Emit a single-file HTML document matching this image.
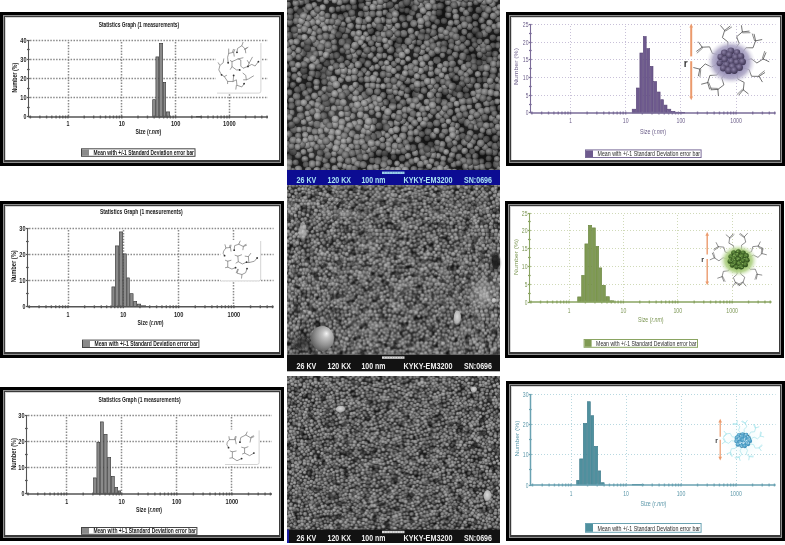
<!DOCTYPE html>
<html><head><meta charset="utf-8"><style>
html,body{margin:0;padding:0;background:#fff;width:785px;height:545px;overflow:hidden}
svg{display:block}
text{font-family:"Liberation Sans",sans-serif}
</style></head><body>
<svg width="785" height="545" viewBox="0 0 785 545">
<defs>
<radialGradient id="s1a" cx="0.45" cy="0.42" r="0.58" fx="0.42" fy="0.38"><stop offset="0" stop-color="#a4a4a4"/><stop offset="0.5" stop-color="#868686"/><stop offset="0.85" stop-color="#5c5c5c"/><stop offset="1" stop-color="#383838"/></radialGradient>
<radialGradient id="s1b" cx="0.45" cy="0.42" r="0.58" fx="0.42" fy="0.38"><stop offset="0" stop-color="#8e8e8e"/><stop offset="0.5" stop-color="#707070"/><stop offset="0.85" stop-color="#4e4e4e"/><stop offset="1" stop-color="#303030"/></radialGradient>
<radialGradient id="s1c" cx="0.45" cy="0.42" r="0.58" fx="0.42" fy="0.38"><stop offset="0" stop-color="#b4b4b4"/><stop offset="0.5" stop-color="#949494"/><stop offset="0.85" stop-color="#686868"/><stop offset="1" stop-color="#404040"/></radialGradient>
<radialGradient id="s2a" cx="0.45" cy="0.42" r="0.58" fx="0.42" fy="0.38"><stop offset="0" stop-color="#b4b4b4"/><stop offset="0.5" stop-color="#929292"/><stop offset="0.82" stop-color="#6c6c6c"/><stop offset="1" stop-color="#484848"/></radialGradient>
<radialGradient id="s2b" cx="0.45" cy="0.42" r="0.58" fx="0.42" fy="0.38"><stop offset="0" stop-color="#9c9c9c"/><stop offset="0.5" stop-color="#7c7c7c"/><stop offset="0.82" stop-color="#5a5a5a"/><stop offset="1" stop-color="#3c3c3c"/></radialGradient>
<radialGradient id="s2c" cx="0.45" cy="0.42" r="0.58" fx="0.42" fy="0.38"><stop offset="0" stop-color="#c4c4c4"/><stop offset="0.5" stop-color="#a2a2a2"/><stop offset="0.82" stop-color="#787878"/><stop offset="1" stop-color="#505050"/></radialGradient>
<radialGradient id="s3a" cx="0.45" cy="0.42" r="0.58" fx="0.42" fy="0.38"><stop offset="0" stop-color="#b4b4b4"/><stop offset="0.5" stop-color="#929292"/><stop offset="0.82" stop-color="#6c6c6c"/><stop offset="1" stop-color="#484848"/></radialGradient>
<radialGradient id="s3b" cx="0.45" cy="0.42" r="0.58" fx="0.42" fy="0.38"><stop offset="0" stop-color="#9c9c9c"/><stop offset="0.5" stop-color="#7c7c7c"/><stop offset="0.82" stop-color="#5a5a5a"/><stop offset="1" stop-color="#3c3c3c"/></radialGradient>
<radialGradient id="s3c" cx="0.45" cy="0.42" r="0.58" fx="0.42" fy="0.38"><stop offset="0" stop-color="#c4c4c4"/><stop offset="0.5" stop-color="#a2a2a2"/><stop offset="0.82" stop-color="#787878"/><stop offset="1" stop-color="#505050"/></radialGradient>
<filter id="bl"><feGaussianBlur stdDeviation="0.55"/></filter>
<pattern id="p2" patternUnits="userSpaceOnUse" x="287" y="185" width="106.5" height="84.75"><rect width="106.5" height="84.75" fill="#303030"/>
<g fill="url(#s2a)"><circle cx="52.4" cy="58.1" r="2.3"/><circle cx="47.5" cy="58.6" r="1.9"/><circle cx="55.3" cy="53.1" r="2.0"/><circle cx="57.4" cy="57.3" r="2.1"/><circle cx="45.9" cy="68.3" r="2.4"/><circle cx="52.8" cy="66.0" r="2.2"/><circle cx="49.9" cy="64.9" r="1.9"/><circle cx="56.1" cy="49.1" r="2.0"/><circle cx="59.3" cy="45.4" r="2.3"/><circle cx="62.1" cy="49.7" r="2.3"/><circle cx="47.7" cy="54.5" r="2.1"/><circle cx="48.6" cy="70.5" r="2.3"/><circle cx="43.3" cy="56.8" r="2.1"/><circle cx="52.2" cy="48.7" r="2.1"/><circle cx="41.1" cy="60.3" r="1.9"/><circle cx="67.2" cy="46.7" r="2.0"/><circle cx="52.5" cy="69.1" r="1.9"/><circle cx="38.2" cy="69.4" r="1.9"/><circle cx="56.4" cy="67.9" r="2.0"/><circle cx="34.2" cy="61.9" r="2.1"/><circle cx="41.6" cy="74.1" r="1.9"/><circle cx="57.4" cy="73.6" r="2.4"/><circle cx="29.6" cy="64.5" r="2.0"/><circle cx="28.5" cy="60.3" r="2.2"/><circle cx="42.8" cy="52.7" r="2.5"/><circle cx="54.5" cy="75.9" r="2.3"/><circle cx="31.3" cy="69.5" r="2.1"/><circle cx="57.9" cy="77.0" r="2.1"/><circle cx="35.3" cy="54.9" r="2.4"/><circle cx="71.5" cy="52.0" r="2.1"/><circle cx="47.7" cy="45.5" r="2.1"/><circle cx="65.1" cy="70.0" r="2.1"/><circle cx="53.9" cy="36.7" r="2.3"/><circle cx="61.3" cy="74.2" r="2.0"/><circle cx="67.8" cy="72.0" r="2.0"/><circle cx="25.1" cy="68.5" r="2.5"/><circle cx="75.3" cy="67.7" r="1.9"/><circle cx="45.9" cy="42.6" r="2.2"/><circle cx="26.4" cy="62.8" r="2.3"/><circle cx="75.4" cy="50.1" r="2.0"/><circle cx="79.2" cy="48.5" r="2.5"/><circle cx="40.9" cy="46.7" r="2.1"/><circle cx="66.7" cy="67.0" r="2.0"/><circle cx="68.6" cy="63.9" r="2.0"/><circle cx="70.2" cy="70.3" r="2.0"/><circle cx="57.9" cy="32.7" r="2.4"/><circle cx="36.4" cy="76.6" r="2.3"/><circle cx="27.9" cy="57.2" r="2.4"/><circle cx="24.4" cy="73.2" r="2.2"/><circle cx="60.0" cy="34.9" r="2.1"/><circle cx="30.8" cy="49.4" r="2.0"/><circle cx="73.2" cy="47.2" r="2.4"/><circle cx="48.7" cy="83.7" r="2.5"/><circle cx="48.7" cy="-1.1" r="2.5"/><circle cx="35.1" cy="48.8" r="2.4"/><circle cx="80.2" cy="53.0" r="2.3"/><circle cx="61.9" cy="37.4" r="2.1"/><circle cx="75.4" cy="45.0" r="2.1"/><circle cx="37.8" cy="51.0" r="2.4"/><circle cx="72.9" cy="60.8" r="2.0"/><circle cx="67.3" cy="75.4" r="2.1"/><circle cx="54.0" cy="33.3" r="1.9"/><circle cx="53.4" cy="23.9" r="1.9"/><circle cx="45.7" cy="1.1" r="2.1"/><circle cx="45.7" cy="85.9" r="2.1"/><circle cx="55.8" cy="26.8" r="2.0"/><circle cx="82.2" cy="56.0" r="2.2"/><circle cx="34.4" cy="51.7" r="2.3"/><circle cx="28.3" cy="72.9" r="2.3"/><circle cx="63.5" cy="33.1" r="2.3"/><circle cx="64.3" cy="74.1" r="2.5"/><circle cx="53.6" cy="20.3" r="2.2"/><circle cx="60.8" cy="26.5" r="2.4"/><circle cx="41.9" cy="37.4" r="1.9"/><circle cx="57.4" cy="80.0" r="1.9"/><circle cx="65.2" cy="36.3" r="1.9"/><circle cx="72.2" cy="74.3" r="2.5"/><circle cx="82.5" cy="49.9" r="2.2"/><circle cx="44.9" cy="31.7" r="2.4"/><circle cx="29.9" cy="76.5" r="2.2"/><circle cx="78.7" cy="45.3" r="2.0"/><circle cx="81.2" cy="60.7" r="2.5"/><circle cx="44.7" cy="27.2" r="1.9"/><circle cx="78.9" cy="65.7" r="2.1"/><circle cx="83.3" cy="69.7" r="2.2"/><circle cx="77.0" cy="41.1" r="2.1"/><circle cx="40.6" cy="23.1" r="2.0"/><circle cx="62.8" cy="19.4" r="2.3"/><circle cx="35.3" cy="38.2" r="2.3"/><circle cx="70.9" cy="35.6" r="2.1"/><circle cx="57.6" cy="29.5" r="2.5"/><circle cx="83.1" cy="65.9" r="2.2"/><circle cx="21.0" cy="55.8" r="2.0"/><circle cx="27.5" cy="43.4" r="2.0"/><circle cx="17.9" cy="60.8" r="2.1"/><circle cx="75.2" cy="64.2" r="2.5"/><circle cx="20.3" cy="52.3" r="2.3"/><circle cx="48.2" cy="22.5" r="2.3"/><circle cx="30.2" cy="45.5" r="2.0"/><circle cx="23.3" cy="50.9" r="2.0"/><circle cx="67.8" cy="33.6" r="2.3"/><circle cx="40.5" cy="33.1" r="2.5"/><circle cx="36.3" cy="26.9" r="2.5"/><circle cx="73.0" cy="42.4" r="2.2"/><circle cx="69.6" cy="1.2" r="2.3"/><circle cx="69.6" cy="86.0" r="2.3"/><circle cx="50.6" cy="18.9" r="2.1"/><circle cx="78.6" cy="62.2" r="2.5"/><circle cx="12.0" cy="67.5" r="2.4"/><circle cx="76.8" cy="71.2" r="2.1"/><circle cx="82.1" cy="45.5" r="2.1"/><circle cx="36.3" cy="33.4" r="1.9"/><circle cx="86.7" cy="73.5" r="2.1"/><circle cx="40.9" cy="82.3" r="2.1"/><circle cx="25.4" cy="46.6" r="2.0"/><circle cx="15.7" cy="66.0" r="2.1"/><circle cx="86.8" cy="68.8" r="2.5"/><circle cx="64.8" cy="17.2" r="2.3"/><circle cx="41.1" cy="26.3" r="2.3"/><circle cx="74.5" cy="37.9" r="1.9"/><circle cx="46.6" cy="5.0" r="2.1"/><circle cx="30.4" cy="42.4" r="2.4"/><circle cx="48.6" cy="2.3" r="2.5"/><circle cx="48.6" cy="87.1" r="2.5"/><circle cx="45.0" cy="19.5" r="2.0"/><circle cx="16.7" cy="55.7" r="2.3"/><circle cx="77.4" cy="36.7" r="2.1"/><circle cx="33.3" cy="77.7" r="2.0"/><circle cx="85.0" cy="44.9" r="2.5"/><circle cx="81.2" cy="35.3" r="2.3"/><circle cx="49.9" cy="7.1" r="2.0"/><circle cx="12.0" cy="72.4" r="2.3"/><circle cx="83.7" cy="52.7" r="2.4"/><circle cx="16.2" cy="75.7" r="2.4"/><circle cx="16.3" cy="79.6" r="2.0"/><circle cx="84.2" cy="58.4" r="2.3"/><circle cx="7.7" cy="66.9" r="1.9"/><circle cx="37.3" cy="30.3" r="2.1"/><circle cx="72.1" cy="27.4" r="2.5"/><circle cx="83.6" cy="62.8" r="2.4"/><circle cx="57.8" cy="1.9" r="2.5"/><circle cx="57.8" cy="86.7" r="2.5"/><circle cx="69.1" cy="30.4" r="2.0"/><circle cx="15.9" cy="46.9" r="2.5"/><circle cx="10.3" cy="81.4" r="2.0"/><circle cx="30.7" cy="36.4" r="2.1"/><circle cx="5.9" cy="75.9" r="2.3"/><circle cx="80.0" cy="69.6" r="2.0"/><circle cx="36.8" cy="3.9" r="1.9"/><circle cx="42.4" cy="29.4" r="2.3"/><circle cx="32.1" cy="4.4" r="2.0"/><circle cx="77.3" cy="74.2" r="2.2"/><circle cx="82.6" cy="38.4" r="2.0"/><circle cx="7.0" cy="56.1" r="2.2"/><circle cx="29.8" cy="80.0" r="2.3"/><circle cx="9.2" cy="69.9" r="2.2"/><circle cx="4.2" cy="57.8" r="2.0"/><circle cx="32.7" cy="40.0" r="2.4"/><circle cx="87.0" cy="64.1" r="2.5"/><circle cx="53.8" cy="7.2" r="2.2"/><circle cx="17.1" cy="0.1" r="2.5"/><circle cx="17.1" cy="84.9" r="2.5"/><circle cx="88.4" cy="53.4" r="2.5"/><circle cx="20.3" cy="46.3" r="2.0"/><circle cx="85.8" cy="33.4" r="2.0"/><circle cx="41.9" cy="17.6" r="2.3"/><circle cx="23.6" cy="1.9" r="2.0"/><circle cx="23.6" cy="86.7" r="2.0"/><circle cx="58.9" cy="5.9" r="2.0"/><circle cx="34.1" cy="1.2" r="2.5"/><circle cx="34.1" cy="85.9" r="2.5"/><circle cx="10.1" cy="64.2" r="2.4"/><circle cx="57.0" cy="19.6" r="2.1"/><circle cx="83.5" cy="78.5" r="1.9"/><circle cx="66.1" cy="20.3" r="2.5"/><circle cx="67.9" cy="24.7" r="2.0"/><circle cx="28.4" cy="5.2" r="1.9"/><circle cx="92.6" cy="41.0" r="2.2"/><circle cx="92.4" cy="69.9" r="1.9"/><circle cx="50.8" cy="10.2" r="2.5"/><circle cx="54.5" cy="11.5" r="2.3"/><circle cx="26.5" cy="35.0" r="2.5"/><circle cx="38.1" cy="7.1" r="2.1"/><circle cx="7.8" cy="59.9" r="2.4"/><circle cx="24.4" cy="39.3" r="2.4"/><circle cx="95.4" cy="67.0" r="2.1"/><circle cx="63.9" cy="7.7" r="2.3"/><circle cx="11.7" cy="51.8" r="2.0"/><circle cx="68.0" cy="5.0" r="2.5"/><circle cx="15.9" cy="71.9" r="2.2"/><circle cx="23.5" cy="36.3" r="2.1"/><circle cx="3.1" cy="0.4" r="1.9"/><circle cx="3.1" cy="85.1" r="1.9"/><circle cx="5.2" cy="63.9" r="2.0"/><circle cx="78.2" cy="33.8" r="2.0"/><circle cx="89.1" cy="81.0" r="2.3"/><circle cx="61.9" cy="13.8" r="1.9"/><circle cx="2.9" cy="3.6" r="1.9"/><circle cx="94.4" cy="49.4" r="2.4"/><circle cx="73.3" cy="71.1" r="2.2"/><circle cx="92.8" cy="56.8" r="2.0"/><circle cx="75.2" cy="28.0" r="2.2"/><circle cx="80.4" cy="78.3" r="2.0"/><circle cx="1.1" cy="60.7" r="1.9"/><circle cx="107.6" cy="60.7" r="1.9"/><circle cx="79.8" cy="42.4" r="2.2"/><circle cx="33.1" cy="25.7" r="2.0"/><circle cx="94.5" cy="60.9" r="2.1"/><circle cx="72.2" cy="5.8" r="2.4"/><circle cx="98.2" cy="68.7" r="2.5"/><circle cx="37.4" cy="24.1" r="2.3"/><circle cx="93.5" cy="53.0" r="2.2"/><circle cx="74.7" cy="83.7" r="2.0"/><circle cx="74.7" cy="-1.1" r="2.0"/><circle cx="16.4" cy="37.6" r="1.9"/><circle cx="104.7" cy="53.5" r="2.5"/><circle cx="-1.8" cy="53.5" r="2.5"/><circle cx="47.8" cy="10.8" r="2.1"/><circle cx="36.4" cy="9.6" r="2.4"/><circle cx="96.3" cy="76.7" r="2.3"/><circle cx="96.8" cy="33.4" r="2.2"/><circle cx="13.8" cy="39.4" r="2.0"/><circle cx="27.8" cy="29.2" r="2.3"/><circle cx="7.1" cy="51.7" r="2.1"/><circle cx="105.0" cy="66.9" r="2.3"/><circle cx="-1.5" cy="66.9" r="2.3"/><circle cx="6.0" cy="47.2" r="2.0"/><circle cx="5.3" cy="39.6" r="2.5"/><circle cx="30.2" cy="32.2" r="2.2"/><circle cx="18.4" cy="34.0" r="2.2"/><circle cx="47.8" cy="17.4" r="2.2"/><circle cx="106.3" cy="50.1" r="2.4"/><circle cx="-0.2" cy="50.1" r="2.4"/><circle cx="15.3" cy="34.4" r="2.0"/><circle cx="58.1" cy="14.6" r="2.4"/><circle cx="97.5" cy="62.7" r="2.3"/><circle cx="36.1" cy="17.0" r="2.0"/><circle cx="11.2" cy="37.4" r="2.2"/><circle cx="98.2" cy="59.1" r="2.5"/><circle cx="1.7" cy="79.6" r="1.9"/><circle cx="108.2" cy="79.6" r="1.9"/><circle cx="83.4" cy="30.5" r="2.4"/><circle cx="12.2" cy="4.2" r="2.1"/><circle cx="34.4" cy="14.2" r="2.5"/><circle cx="32.1" cy="22.0" r="2.3"/><circle cx="1.1" cy="46.7" r="2.3"/><circle cx="107.6" cy="46.7" r="2.3"/><circle cx="88.7" cy="34.6" r="2.4"/><circle cx="8.9" cy="5.6" r="1.9"/><circle cx="80.1" cy="18.3" r="2.4"/><circle cx="81.7" cy="22.1" r="1.9"/><circle cx="72.8" cy="20.0" r="2.1"/><circle cx="31.1" cy="15.9" r="2.3"/><circle cx="8.1" cy="37.7" r="2.4"/><circle cx="82.7" cy="26.0" r="2.0"/><circle cx="25.5" cy="6.4" r="2.1"/><circle cx="93.5" cy="79.6" r="2.5"/><circle cx="13.1" cy="79.3" r="2.0"/><circle cx="101.7" cy="78.7" r="2.4"/><circle cx="81.7" cy="7.1" r="2.4"/><circle cx="78.8" cy="8.2" r="2.3"/><circle cx="22.5" cy="16.1" r="1.9"/><circle cx="106.1" cy="76.2" r="2.4"/><circle cx="-0.4" cy="76.2" r="2.4"/><circle cx="100.2" cy="65.5" r="2.4"/><circle cx="92.2" cy="1.1" r="2.3"/><circle cx="92.2" cy="85.9" r="2.3"/><circle cx="83.4" cy="19.3" r="2.3"/><circle cx="89.2" cy="4.2" r="2.2"/><circle cx="84.5" cy="23.5" r="2.2"/><circle cx="97.6" cy="38.6" r="2.3"/><circle cx="87.5" cy="25.6" r="2.4"/><circle cx="97.5" cy="42.4" r="2.3"/><circle cx="102.3" cy="40.7" r="2.3"/><circle cx="28.9" cy="11.6" r="2.1"/><circle cx="56.8" cy="8.2" r="2.5"/><circle cx="20.4" cy="0.4" r="2.5"/><circle cx="20.4" cy="85.1" r="2.5"/><circle cx="95.5" cy="2.0" r="2.1"/><circle cx="95.5" cy="86.7" r="2.1"/><circle cx="21.8" cy="5.0" r="2.0"/><circle cx="26.4" cy="22.2" r="2.2"/><circle cx="16.3" cy="28.9" r="2.4"/><circle cx="97.1" cy="73.0" r="2.0"/><circle cx="0.0" cy="6.4" r="2.0"/><circle cx="106.5" cy="6.4" r="2.0"/><circle cx="69.2" cy="81.7" r="2.5"/><circle cx="9.1" cy="34.3" r="2.1"/><circle cx="19.3" cy="9.1" r="2.0"/><circle cx="90.8" cy="24.0" r="2.3"/><circle cx="101.5" cy="74.4" r="2.4"/><circle cx="102.5" cy="0.3" r="2.5"/><circle cx="102.5" cy="85.1" r="2.5"/><circle cx="105.1" cy="72.7" r="2.2"/><circle cx="-1.4" cy="72.7" r="2.2"/><circle cx="106.0" cy="0.3" r="2.2"/><circle cx="106.0" cy="85.1" r="2.2"/><circle cx="-0.5" cy="0.3" r="2.2"/><circle cx="-0.5" cy="85.1" r="2.2"/><circle cx="4.3" cy="82.0" r="2.3"/><circle cx="26.0" cy="9.7" r="2.2"/><circle cx="90.5" cy="7.5" r="2.5"/><circle cx="9.1" cy="8.7" r="2.2"/><circle cx="97.9" cy="83.8" r="2.2"/><circle cx="97.9" cy="-0.9" r="2.2"/><circle cx="102.4" cy="3.4" r="2.2"/><circle cx="102.8" cy="35.5" r="2.3"/><circle cx="91.4" cy="17.5" r="2.3"/><circle cx="3.9" cy="32.8" r="2.5"/><circle cx="22.4" cy="8.0" r="2.5"/><circle cx="101.8" cy="81.9" r="2.2"/><circle cx="3.7" cy="14.9" r="2.3"/><circle cx="103.8" cy="12.7" r="2.2"/><circle cx="9.8" cy="14.9" r="2.2"/><circle cx="101.8" cy="6.4" r="2.5"/><circle cx="106.2" cy="14.7" r="2.3"/><circle cx="-0.3" cy="14.7" r="2.3"/><circle cx="18.1" cy="18.7" r="2.2"/><circle cx="103.6" cy="23.3" r="2.1"/><circle cx="99.4" cy="4.5" r="2.4"/><circle cx="12.8" cy="27.5" r="2.1"/><circle cx="93.3" cy="9.4" r="2.2"/><circle cx="8.5" cy="20.1" r="2.4"/><circle cx="14.6" cy="19.1" r="2.4"/><circle cx="7.1" cy="26.7" r="2.5"/><circle cx="1.7" cy="18.0" r="2.4"/><circle cx="108.2" cy="18.0" r="2.4"/><circle cx="88.7" cy="10.1" r="2.4"/><circle cx="12.7" cy="15.7" r="1.9"/><circle cx="9.1" cy="24.1" r="2.3"/><circle cx="99.2" cy="35.9" r="1.9"/><circle cx="96.6" cy="7.9" r="1.9"/><circle cx="1.5" cy="24.3" r="2.3"/><circle cx="108.0" cy="24.3" r="2.3"/><circle cx="91.0" cy="20.8" r="2.4"/><circle cx="86.0" cy="12.2" r="2.1"/><circle cx="86.8" cy="17.8" r="2.4"/><circle cx="91.9" cy="12.5" r="2.4"/><circle cx="19.4" cy="15.6" r="2.0"/><circle cx="104.1" cy="18.6" r="2.5"/><circle cx="-2.4" cy="18.6" r="2.5"/><circle cx="93.2" cy="4.0" r="2.0"/><circle cx="17.0" cy="22.1" r="1.9"/><circle cx="5.4" cy="24.0" r="2.2"/><circle cx="2.4" cy="21.3" r="2.1"/><circle cx="0.5" cy="30.2" r="2.4"/><circle cx="107.0" cy="30.2" r="2.4"/><circle cx="98.2" cy="13.1" r="2.0"/><circle cx="11.5" cy="21.5" r="2.4"/><circle cx="100.2" cy="17.4" r="2.1"/><circle cx="6.8" cy="16.0" r="2.2"/><circle cx="103.2" cy="15.7" r="2.1"/></g>
<g fill="url(#s2b)"><circle cx="50.5" cy="55.7" r="2.2"/><circle cx="50.5" cy="61.2" r="2.3"/><circle cx="45.9" cy="64.3" r="2.2"/><circle cx="51.1" cy="51.5" r="1.9"/><circle cx="57.9" cy="64.0" r="2.5"/><circle cx="55.4" cy="45.7" r="2.3"/><circle cx="59.6" cy="55.1" r="2.1"/><circle cx="67.6" cy="52.9" r="2.4"/><circle cx="45.6" cy="48.5" r="2.2"/><circle cx="37.1" cy="64.0" r="2.1"/><circle cx="61.9" cy="59.6" r="1.9"/><circle cx="64.6" cy="58.2" r="2.0"/><circle cx="68.6" cy="55.9" r="2.1"/><circle cx="39.9" cy="54.5" r="1.9"/><circle cx="54.9" cy="42.2" r="2.1"/><circle cx="67.9" cy="60.0" r="2.4"/><circle cx="63.0" cy="41.5" r="2.0"/><circle cx="36.8" cy="57.6" r="2.2"/><circle cx="45.8" cy="75.5" r="2.2"/><circle cx="65.2" cy="63.1" r="2.3"/><circle cx="51.1" cy="45.4" r="2.2"/><circle cx="24.2" cy="65.3" r="2.4"/><circle cx="70.0" cy="48.0" r="2.4"/><circle cx="59.1" cy="61.2" r="1.9"/><circle cx="73.1" cy="55.3" r="2.5"/><circle cx="50.5" cy="40.7" r="2.2"/><circle cx="69.8" cy="66.8" r="2.5"/><circle cx="49.1" cy="79.6" r="2.2"/><circle cx="58.4" cy="42.2" r="2.0"/><circle cx="53.7" cy="79.8" r="2.1"/><circle cx="21.1" cy="70.0" r="2.1"/><circle cx="72.1" cy="64.1" r="2.4"/><circle cx="51.3" cy="34.7" r="2.2"/><circle cx="21.1" cy="65.3" r="2.0"/><circle cx="37.4" cy="43.6" r="2.3"/><circle cx="51.7" cy="77.2" r="2.5"/><circle cx="30.5" cy="54.9" r="2.0"/><circle cx="69.9" cy="43.2" r="2.5"/><circle cx="46.1" cy="78.7" r="2.0"/><circle cx="75.6" cy="53.4" r="2.4"/><circle cx="70.2" cy="38.8" r="2.5"/><circle cx="41.4" cy="49.8" r="2.1"/><circle cx="56.7" cy="83.8" r="2.0"/><circle cx="56.7" cy="-0.9" r="2.0"/><circle cx="66.1" cy="39.1" r="2.4"/><circle cx="45.9" cy="72.4" r="1.9"/><circle cx="61.9" cy="79.5" r="2.2"/><circle cx="48.4" cy="30.0" r="2.4"/><circle cx="22.1" cy="60.3" r="2.1"/><circle cx="65.6" cy="78.6" r="2.4"/><circle cx="77.0" cy="56.5" r="2.5"/><circle cx="33.1" cy="44.3" r="2.3"/><circle cx="24.8" cy="58.1" r="1.9"/><circle cx="48.2" cy="26.3" r="2.5"/><circle cx="63.8" cy="28.8" r="2.5"/><circle cx="39.5" cy="40.9" r="2.3"/><circle cx="37.2" cy="73.5" r="2.2"/><circle cx="61.2" cy="83.5" r="2.4"/><circle cx="61.2" cy="-1.2" r="2.4"/><circle cx="63.9" cy="25.2" r="2.3"/><circle cx="18.8" cy="73.4" r="2.1"/><circle cx="52.0" cy="0.6" r="2.0"/><circle cx="52.0" cy="85.3" r="2.0"/><circle cx="51.7" cy="26.4" r="2.5"/><circle cx="57.6" cy="24.2" r="1.9"/><circle cx="59.4" cy="21.6" r="2.2"/><circle cx="24.1" cy="76.4" r="2.1"/><circle cx="22.6" cy="81.6" r="2.1"/><circle cx="39.1" cy="78.9" r="2.5"/><circle cx="26.9" cy="51.1" r="2.3"/><circle cx="16.6" cy="69.0" r="2.3"/><circle cx="12.8" cy="62.7" r="2.0"/><circle cx="51.5" cy="3.9" r="2.3"/><circle cx="20.3" cy="76.0" r="2.3"/><circle cx="60.8" cy="29.9" r="2.5"/><circle cx="44.0" cy="22.4" r="2.5"/><circle cx="18.5" cy="49.3" r="2.5"/><circle cx="27.8" cy="38.3" r="2.2"/><circle cx="51.6" cy="82.2" r="2.0"/><circle cx="37.3" cy="83.7" r="2.2"/><circle cx="37.3" cy="-1.0" r="2.2"/><circle cx="79.6" cy="39.2" r="2.2"/><circle cx="72.4" cy="32.3" r="2.4"/><circle cx="61.4" cy="2.5" r="2.4"/><circle cx="75.5" cy="32.2" r="2.2"/><circle cx="86.4" cy="49.2" r="2.5"/><circle cx="11.4" cy="55.1" r="2.2"/><circle cx="11.0" cy="76.8" r="2.2"/><circle cx="87.3" cy="58.4" r="2.3"/><circle cx="89.0" cy="70.8" r="2.4"/><circle cx="77.9" cy="30.1" r="2.5"/><circle cx="70.0" cy="78.4" r="2.5"/><circle cx="70.5" cy="22.6" r="2.4"/><circle cx="26.1" cy="79.4" r="2.3"/><circle cx="88.0" cy="38.1" r="2.0"/><circle cx="54.6" cy="2.8" r="2.3"/><circle cx="20.5" cy="40.8" r="2.5"/><circle cx="89.8" cy="66.3" r="2.1"/><circle cx="76.5" cy="78.4" r="2.3"/><circle cx="3.5" cy="71.7" r="2.1"/><circle cx="72.3" cy="81.7" r="2.4"/><circle cx="38.0" cy="36.1" r="2.1"/><circle cx="52.9" cy="15.4" r="2.0"/><circle cx="4.5" cy="67.0" r="1.9"/><circle cx="18.8" cy="3.7" r="2.0"/><circle cx="59.8" cy="17.8" r="2.0"/><circle cx="55.5" cy="17.0" r="2.3"/><circle cx="67.6" cy="15.3" r="2.2"/><circle cx="31.8" cy="12.6" r="2.0"/><circle cx="93.5" cy="45.6" r="2.4"/><circle cx="58.5" cy="10.8" r="2.5"/><circle cx="12.8" cy="44.9" r="2.4"/><circle cx="91.0" cy="36.9" r="2.5"/><circle cx="29.6" cy="8.4" r="2.4"/><circle cx="78.4" cy="23.5" r="2.5"/><circle cx="73.2" cy="15.9" r="2.4"/><circle cx="64.2" cy="11.6" r="2.4"/><circle cx="92.1" cy="32.0" r="2.3"/><circle cx="10.7" cy="40.6" r="2.5"/><circle cx="70.0" cy="17.7" r="2.1"/><circle cx="67.5" cy="9.7" r="2.2"/><circle cx="1.6" cy="66.1" r="2.0"/><circle cx="108.1" cy="66.1" r="2.0"/><circle cx="74.1" cy="23.3" r="2.0"/><circle cx="81.0" cy="81.9" r="2.0"/><circle cx="25.3" cy="83.8" r="2.0"/><circle cx="25.3" cy="-0.9" r="2.0"/><circle cx="20.2" cy="37.6" r="2.2"/><circle cx="93.0" cy="75.1" r="2.3"/><circle cx="86.2" cy="1.4" r="2.2"/><circle cx="86.2" cy="86.2" r="2.2"/><circle cx="87.4" cy="28.8" r="2.2"/><circle cx="102.2" cy="49.5" r="2.3"/><circle cx="38.2" cy="14.5" r="2.4"/><circle cx="76.1" cy="20.7" r="2.2"/><circle cx="3.7" cy="42.5" r="1.9"/><circle cx="86.0" cy="7.1" r="2.2"/><circle cx="24.5" cy="31.9" r="2.4"/><circle cx="3.5" cy="49.8" r="2.2"/><circle cx="9.7" cy="0.5" r="2.2"/><circle cx="9.7" cy="85.2" r="2.2"/><circle cx="101.0" cy="62.6" r="2.3"/><circle cx="73.9" cy="11.5" r="2.4"/><circle cx="27.5" cy="18.8" r="2.1"/><circle cx="80.3" cy="2.7" r="2.4"/><circle cx="98.2" cy="53.0" r="2.0"/><circle cx="97.8" cy="49.5" r="2.0"/><circle cx="77.3" cy="11.5" r="2.4"/><circle cx="75.3" cy="6.3" r="2.3"/><circle cx="76.7" cy="14.8" r="2.5"/><circle cx="83.5" cy="9.7" r="2.0"/><circle cx="77.0" cy="1.9" r="2.4"/><circle cx="77.0" cy="86.7" r="2.4"/><circle cx="78.5" cy="83.8" r="2.3"/><circle cx="78.5" cy="-0.9" r="2.3"/><circle cx="94.5" cy="35.9" r="2.2"/><circle cx="6.3" cy="0.6" r="2.4"/><circle cx="6.3" cy="85.4" r="2.4"/><circle cx="44.3" cy="11.2" r="2.4"/><circle cx="96.4" cy="56.0" r="2.5"/><circle cx="26.5" cy="13.5" r="2.3"/><circle cx="12.5" cy="31.1" r="2.1"/><circle cx="94.2" cy="83.2" r="2.0"/><circle cx="94.2" cy="-1.5" r="2.0"/><circle cx="103.1" cy="70.4" r="1.9"/><circle cx="14.3" cy="42.3" r="2.0"/><circle cx="5.0" cy="6.5" r="2.2"/><circle cx="22.4" cy="11.3" r="2.3"/><circle cx="106.0" cy="41.7" r="2.1"/><circle cx="-0.5" cy="41.7" r="2.1"/><circle cx="101.3" cy="53.5" r="2.0"/><circle cx="79.1" cy="26.5" r="2.4"/><circle cx="90.7" cy="27.1" r="2.2"/><circle cx="89.1" cy="84.0" r="1.9"/><circle cx="89.1" cy="-0.7" r="1.9"/><circle cx="84.0" cy="15.1" r="2.4"/><circle cx="24.3" cy="27.6" r="2.2"/><circle cx="24.4" cy="18.8" r="2.1"/><circle cx="104.5" cy="60.0" r="2.2"/><circle cx="-2.0" cy="60.0" r="2.2"/><circle cx="88.0" cy="22.0" r="2.4"/><circle cx="22.0" cy="22.6" r="2.1"/><circle cx="95.6" cy="18.6" r="2.1"/><circle cx="17.0" cy="25.2" r="2.3"/><circle cx="26.7" cy="2.5" r="2.3"/><circle cx="14.7" cy="13.3" r="2.2"/><circle cx="97.7" cy="27.1" r="2.2"/><circle cx="104.3" cy="27.3" r="2.1"/><circle cx="89.0" cy="14.9" r="2.5"/><circle cx="94.1" cy="14.7" r="2.4"/><circle cx="100.7" cy="21.2" r="2.3"/><circle cx="21.4" cy="26.1" r="2.3"/><circle cx="13.4" cy="24.0" r="2.0"/><circle cx="10.5" cy="11.4" r="2.0"/></g>
<g fill="url(#s2c)"><circle cx="55.1" cy="61.5" r="2.1"/><circle cx="42.7" cy="64.1" r="2.0"/><circle cx="58.5" cy="52.0" r="1.9"/><circle cx="44.9" cy="61.3" r="1.9"/><circle cx="63.2" cy="53.2" r="2.5"/><circle cx="48.0" cy="51.1" r="2.0"/><circle cx="42.4" cy="70.6" r="2.3"/><circle cx="40.6" cy="67.3" r="1.9"/><circle cx="54.6" cy="72.0" r="2.2"/><circle cx="33.7" cy="66.0" r="2.2"/><circle cx="62.6" cy="44.8" r="2.0"/><circle cx="59.8" cy="69.1" r="2.4"/><circle cx="66.5" cy="49.7" r="2.5"/><circle cx="31.7" cy="58.4" r="2.0"/><circle cx="66.8" cy="42.6" r="2.1"/><circle cx="71.0" cy="58.1" r="2.1"/><circle cx="28.3" cy="67.6" r="2.0"/><circle cx="62.8" cy="65.7" r="2.2"/><circle cx="49.6" cy="73.7" r="2.5"/><circle cx="76.1" cy="60.4" r="2.3"/><circle cx="58.3" cy="38.4" r="2.5"/><circle cx="44.5" cy="45.5" r="2.0"/><circle cx="42.8" cy="79.4" r="2.3"/><circle cx="53.7" cy="29.4" r="2.4"/><circle cx="61.9" cy="62.7" r="2.1"/><circle cx="42.9" cy="41.4" r="1.9"/><circle cx="47.0" cy="39.6" r="2.4"/><circle cx="32.6" cy="73.4" r="2.4"/><circle cx="25.2" cy="54.7" r="2.0"/><circle cx="49.5" cy="37.8" r="2.3"/><circle cx="44.8" cy="35.8" r="2.0"/><circle cx="35.0" cy="68.8" r="2.3"/><circle cx="42.6" cy="4.2" r="2.1"/><circle cx="43.9" cy="83.2" r="2.4"/><circle cx="43.9" cy="-1.5" r="2.4"/><circle cx="16.4" cy="52.1" r="2.0"/><circle cx="66.6" cy="83.3" r="2.1"/><circle cx="66.6" cy="-1.4" r="2.1"/><circle cx="85.7" cy="55.2" r="2.1"/><circle cx="47.8" cy="33.1" r="2.0"/><circle cx="81.3" cy="72.6" r="2.3"/><circle cx="87.4" cy="77.9" r="2.4"/><circle cx="64.8" cy="1.8" r="2.4"/><circle cx="64.8" cy="86.6" r="2.4"/><circle cx="12.4" cy="48.0" r="1.9"/><circle cx="83.4" cy="41.8" r="2.4"/><circle cx="89.8" cy="56.2" r="2.3"/><circle cx="14.9" cy="58.3" r="2.3"/><circle cx="9.3" cy="49.1" r="2.0"/><circle cx="36.5" cy="80.7" r="2.4"/><circle cx="22.7" cy="43.0" r="2.4"/><circle cx="51.2" cy="31.2" r="2.2"/><circle cx="32.2" cy="83.3" r="2.1"/><circle cx="32.2" cy="-1.4" r="2.1"/><circle cx="89.9" cy="60.6" r="2.2"/><circle cx="9.1" cy="73.6" r="2.5"/><circle cx="42.9" cy="14.6" r="2.2"/><circle cx="28.4" cy="84.5" r="2.5"/><circle cx="28.4" cy="-0.3" r="2.5"/><circle cx="86.2" cy="81.9" r="2.1"/><circle cx="13.9" cy="0.2" r="2.0"/><circle cx="13.9" cy="85.0" r="2.0"/><circle cx="45.6" cy="8.3" r="1.9"/><circle cx="39.6" cy="2.0" r="2.0"/><circle cx="39.6" cy="86.7" r="2.0"/><circle cx="40.6" cy="10.5" r="2.5"/><circle cx="7.2" cy="80.9" r="1.9"/><circle cx="32.9" cy="33.7" r="2.2"/><circle cx="73.6" cy="77.1" r="2.2"/><circle cx="33.3" cy="8.8" r="2.1"/><circle cx="88.1" cy="41.9" r="2.0"/><circle cx="10.2" cy="58.0" r="2.4"/><circle cx="90.1" cy="49.1" r="2.2"/><circle cx="32.5" cy="29.7" r="2.1"/><circle cx="49.6" cy="14.9" r="2.5"/><circle cx="66.8" cy="28.1" r="2.3"/><circle cx="92.1" cy="63.6" r="2.0"/><circle cx="89.6" cy="45.7" r="2.3"/><circle cx="45.9" cy="14.1" r="2.4"/><circle cx="62.5" cy="22.4" r="2.0"/><circle cx="17.4" cy="41.9" r="2.3"/><circle cx="0.8" cy="56.2" r="2.3"/><circle cx="107.3" cy="56.2" r="2.3"/><circle cx="84.0" cy="75.2" r="2.5"/><circle cx="105.6" cy="82.0" r="2.1"/><circle cx="-0.9" cy="82.0" r="2.1"/><circle cx="83.2" cy="84.4" r="2.5"/><circle cx="83.2" cy="-0.4" r="2.5"/><circle cx="83.4" cy="3.9" r="1.9"/><circle cx="35.6" cy="21.2" r="1.9"/><circle cx="8.9" cy="43.8" r="2.0"/><circle cx="69.7" cy="12.3" r="1.9"/><circle cx="71.5" cy="8.9" r="1.9"/><circle cx="29.1" cy="25.5" r="2.4"/><circle cx="19.4" cy="79.3" r="2.5"/><circle cx="85.3" cy="36.5" r="1.9"/><circle cx="3.2" cy="53.5" r="2.0"/><circle cx="16.4" cy="7.8" r="2.4"/><circle cx="5.5" cy="36.2" r="2.1"/><circle cx="102.6" cy="45.6" r="2.1"/><circle cx="105.2" cy="63.6" r="2.0"/><circle cx="-1.3" cy="63.6" r="2.0"/><circle cx="99.3" cy="46.2" r="2.3"/><circle cx="72.9" cy="2.9" r="2.3"/><circle cx="79.6" cy="13.9" r="2.1"/><circle cx="6.7" cy="71.7" r="2.0"/><circle cx="21.0" cy="30.2" r="2.1"/><circle cx="0.2" cy="70.0" r="2.0"/><circle cx="106.7" cy="70.0" r="2.0"/><circle cx="95.4" cy="70.4" r="2.0"/><circle cx="80.8" cy="32.2" r="1.9"/><circle cx="101.6" cy="59.2" r="2.2"/><circle cx="106.3" cy="36.4" r="2.1"/><circle cx="-0.2" cy="36.4" r="2.1"/><circle cx="31.1" cy="19.0" r="2.1"/><circle cx="90.1" cy="75.7" r="2.4"/><circle cx="103.1" cy="56.4" r="1.9"/><circle cx="98.8" cy="80.4" r="2.3"/><circle cx="18.2" cy="12.7" r="2.5"/><circle cx="1.9" cy="39.7" r="2.4"/><circle cx="108.4" cy="39.7" r="2.4"/><circle cx="100.2" cy="30.9" r="2.2"/><circle cx="2.2" cy="10.1" r="2.1"/><circle cx="6.6" cy="11.8" r="2.2"/><circle cx="0.9" cy="33.5" r="2.3"/><circle cx="107.4" cy="33.5" r="2.3"/><circle cx="8.4" cy="30.8" r="2.1"/><circle cx="105.7" cy="9.8" r="2.5"/><circle cx="-0.8" cy="9.8" r="2.5"/><circle cx="39.0" cy="20.3" r="2.1"/><circle cx="95.4" cy="30.4" r="2.3"/><circle cx="103.8" cy="30.7" r="2.2"/><circle cx="13.3" cy="9.9" r="2.4"/><circle cx="101.3" cy="25.2" r="2.1"/><circle cx="2.5" cy="27.1" r="2.4"/><circle cx="16.2" cy="15.9" r="2.1"/><circle cx="94.5" cy="23.6" r="2.2"/><circle cx="97.8" cy="22.0" r="1.9"/><circle cx="4.6" cy="29.3" r="2.0"/><circle cx="101.1" cy="10.6" r="2.2"/><circle cx="94.1" cy="26.7" r="2.2"/><circle cx="15.8" cy="3.8" r="1.9"/><circle cx="3.0" cy="76.8" r="2.0"/><circle cx="5.7" cy="18.8" r="2.5"/><circle cx="21.3" cy="19.1" r="2.2"/></g>
</pattern>
<pattern id="p3" patternUnits="userSpaceOnUse" x="287" y="376" width="106.5" height="77"><rect width="106.5" height="77" fill="#303030"/>
<g fill="url(#s3a)"><circle cx="32.2" cy="55.0" r="1.8"/><circle cx="31.1" cy="58.8" r="1.8"/><circle cx="30.3" cy="50.5" r="2.1"/><circle cx="27.7" cy="60.5" r="2.0"/><circle cx="28.8" cy="56.2" r="1.9"/><circle cx="35.9" cy="65.8" r="1.7"/><circle cx="37.5" cy="61.3" r="2.0"/><circle cx="38.5" cy="52.8" r="1.9"/><circle cx="44.1" cy="52.9" r="1.9"/><circle cx="48.6" cy="54.6" r="2.0"/><circle cx="44.6" cy="58.7" r="1.9"/><circle cx="28.1" cy="63.3" r="2.1"/><circle cx="34.3" cy="50.7" r="1.8"/><circle cx="37.0" cy="47.4" r="1.8"/><circle cx="22.1" cy="58.8" r="1.8"/><circle cx="31.8" cy="45.6" r="2.3"/><circle cx="24.5" cy="64.2" r="1.7"/><circle cx="41.6" cy="57.8" r="2.1"/><circle cx="40.8" cy="60.8" r="1.9"/><circle cx="34.0" cy="58.9" r="1.8"/><circle cx="20.8" cy="56.3" r="1.7"/><circle cx="31.7" cy="41.0" r="1.9"/><circle cx="21.7" cy="48.8" r="1.8"/><circle cx="22.8" cy="69.0" r="1.7"/><circle cx="45.9" cy="65.2" r="1.7"/><circle cx="23.3" cy="52.1" r="2.0"/><circle cx="37.1" cy="37.3" r="2.1"/><circle cx="18.1" cy="61.0" r="2.2"/><circle cx="22.6" cy="41.6" r="2.1"/><circle cx="49.1" cy="43.4" r="1.8"/><circle cx="19.1" cy="65.2" r="1.8"/><circle cx="26.6" cy="70.2" r="1.7"/><circle cx="14.8" cy="65.2" r="2.1"/><circle cx="51.6" cy="53.7" r="2.2"/><circle cx="30.2" cy="69.7" r="1.9"/><circle cx="51.0" cy="58.3" r="2.0"/><circle cx="51.5" cy="63.7" r="2.2"/><circle cx="20.6" cy="71.6" r="2.2"/><circle cx="19.7" cy="46.5" r="1.9"/><circle cx="21.4" cy="37.0" r="1.7"/><circle cx="15.5" cy="44.7" r="1.9"/><circle cx="19.3" cy="75.6" r="2.0"/><circle cx="19.3" cy="-1.4" r="2.0"/><circle cx="17.5" cy="73.3" r="1.7"/><circle cx="20.1" cy="40.3" r="2.2"/><circle cx="32.6" cy="48.5" r="2.0"/><circle cx="48.8" cy="61.1" r="2.2"/><circle cx="25.8" cy="40.8" r="1.9"/><circle cx="53.6" cy="56.0" r="1.7"/><circle cx="48.9" cy="69.3" r="2.1"/><circle cx="27.6" cy="33.4" r="1.8"/><circle cx="15.3" cy="71.6" r="2.3"/><circle cx="48.6" cy="64.2" r="2.0"/><circle cx="23.8" cy="32.2" r="1.7"/><circle cx="56.8" cy="54.4" r="2.2"/><circle cx="37.3" cy="34.2" r="2.0"/><circle cx="27.1" cy="29.8" r="2.0"/><circle cx="30.7" cy="34.2" r="1.9"/><circle cx="44.5" cy="70.0" r="1.8"/><circle cx="7.0" cy="47.5" r="2.1"/><circle cx="55.5" cy="61.9" r="2.2"/><circle cx="28.5" cy="3.4" r="2.1"/><circle cx="12.6" cy="73.2" r="2.3"/><circle cx="23.9" cy="38.4" r="2.2"/><circle cx="32.0" cy="30.4" r="2.2"/><circle cx="31.0" cy="37.0" r="2.3"/><circle cx="35.7" cy="31.9" r="1.7"/><circle cx="57.6" cy="57.6" r="2.2"/><circle cx="13.9" cy="60.4" r="1.8"/><circle cx="11.9" cy="68.6" r="2.1"/><circle cx="37.9" cy="2.6" r="2.1"/><circle cx="17.7" cy="41.7" r="2.1"/><circle cx="21.4" cy="29.6" r="2.2"/><circle cx="51.6" cy="39.1" r="2.2"/><circle cx="56.9" cy="45.2" r="2.0"/><circle cx="12.9" cy="42.1" r="2.3"/><circle cx="15.0" cy="54.3" r="2.3"/><circle cx="49.0" cy="36.7" r="2.1"/><circle cx="34.9" cy="73.6" r="1.7"/><circle cx="42.4" cy="6.9" r="2.0"/><circle cx="11.9" cy="52.8" r="1.7"/><circle cx="33.9" cy="34.6" r="1.8"/><circle cx="38.7" cy="72.3" r="1.9"/><circle cx="29.8" cy="27.3" r="2.3"/><circle cx="32.8" cy="26.3" r="1.8"/><circle cx="61.2" cy="49.1" r="1.7"/><circle cx="21.9" cy="25.6" r="1.8"/><circle cx="61.5" cy="57.4" r="1.7"/><circle cx="61.9" cy="62.8" r="2.2"/><circle cx="38.8" cy="30.2" r="2.2"/><circle cx="10.6" cy="56.8" r="2.1"/><circle cx="53.0" cy="60.4" r="2.0"/><circle cx="11.6" cy="5.8" r="2.3"/><circle cx="41.1" cy="10.5" r="2.2"/><circle cx="8.3" cy="52.8" r="1.9"/><circle cx="47.7" cy="33.3" r="2.0"/><circle cx="25.6" cy="24.6" r="1.8"/><circle cx="101.2" cy="43.7" r="1.9"/><circle cx="17.6" cy="30.6" r="2.2"/><circle cx="9.8" cy="75.0" r="2.2"/><circle cx="9.8" cy="-2.0" r="2.2"/><circle cx="37.9" cy="75.3" r="2.0"/><circle cx="37.9" cy="-1.7" r="2.0"/><circle cx="17.1" cy="1.4" r="1.8"/><circle cx="17.1" cy="78.4" r="1.8"/><circle cx="25.7" cy="17.0" r="2.2"/><circle cx="44.8" cy="30.7" r="2.1"/><circle cx="40.9" cy="74.5" r="2.2"/><circle cx="14.9" cy="68.0" r="2.1"/><circle cx="105.7" cy="49.8" r="1.9"/><circle cx="-0.8" cy="49.8" r="1.9"/><circle cx="4.1" cy="51.5" r="2.2"/><circle cx="43.5" cy="3.4" r="2.0"/><circle cx="40.5" cy="1.3" r="1.8"/><circle cx="40.5" cy="78.3" r="1.8"/><circle cx="65.9" cy="54.5" r="1.7"/><circle cx="54.4" cy="33.8" r="2.1"/><circle cx="37.8" cy="26.6" r="2.2"/><circle cx="97.7" cy="46.8" r="2.2"/><circle cx="18.1" cy="27.5" r="2.0"/><circle cx="100.3" cy="48.7" r="2.0"/><circle cx="60.4" cy="67.1" r="2.1"/><circle cx="50.5" cy="3.6" r="2.1"/><circle cx="33.6" cy="10.0" r="2.0"/><circle cx="13.7" cy="27.4" r="1.8"/><circle cx="23.4" cy="5.3" r="2.2"/><circle cx="60.2" cy="45.2" r="2.1"/><circle cx="51.1" cy="33.9" r="2.0"/><circle cx="51.1" cy="0.5" r="2.1"/><circle cx="51.1" cy="77.5" r="2.1"/><circle cx="6.9" cy="44.3" r="2.1"/><circle cx="18.6" cy="16.6" r="2.0"/><circle cx="63.1" cy="41.6" r="2.1"/><circle cx="10.0" cy="43.0" r="2.0"/><circle cx="10.8" cy="33.0" r="2.0"/><circle cx="96.3" cy="44.0" r="2.1"/><circle cx="4.1" cy="72.2" r="1.8"/><circle cx="63.0" cy="59.8" r="2.0"/><circle cx="49.3" cy="11.3" r="2.1"/><circle cx="11.7" cy="29.5" r="1.9"/><circle cx="9.9" cy="47.5" r="2.2"/><circle cx="56.2" cy="42.5" r="2.0"/><circle cx="65.8" cy="60.6" r="2.0"/><circle cx="63.1" cy="44.4" r="2.0"/><circle cx="58.7" cy="69.5" r="1.8"/><circle cx="46.0" cy="11.3" r="2.1"/><circle cx="11.2" cy="25.7" r="2.0"/><circle cx="93.4" cy="46.3" r="2.2"/><circle cx="40.4" cy="21.4" r="2.2"/><circle cx="7.1" cy="0.6" r="2.1"/><circle cx="7.1" cy="77.6" r="2.1"/><circle cx="102.9" cy="40.3" r="2.3"/><circle cx="50.9" cy="25.4" r="2.0"/><circle cx="44.0" cy="9.2" r="2.0"/><circle cx="5.9" cy="25.2" r="1.9"/><circle cx="93.7" cy="40.2" r="2.0"/><circle cx="54.9" cy="27.5" r="2.1"/><circle cx="98.7" cy="52.2" r="2.1"/><circle cx="59.8" cy="35.0" r="2.3"/><circle cx="69.1" cy="55.6" r="1.8"/><circle cx="55.7" cy="3.5" r="2.1"/><circle cx="8.7" cy="22.6" r="2.2"/><circle cx="20.9" cy="8.2" r="2.3"/><circle cx="72.6" cy="57.5" r="2.0"/><circle cx="52.5" cy="12.4" r="1.7"/><circle cx="4.5" cy="59.0" r="2.1"/><circle cx="17.5" cy="8.0" r="2.1"/><circle cx="60.0" cy="38.1" r="1.8"/><circle cx="12.6" cy="35.5" r="2.2"/><circle cx="7.3" cy="33.3" r="1.7"/><circle cx="9.1" cy="13.8" r="1.8"/><circle cx="58.9" cy="9.0" r="1.9"/><circle cx="50.5" cy="6.5" r="1.9"/><circle cx="29.7" cy="16.7" r="2.0"/><circle cx="4.5" cy="65.3" r="2.0"/><circle cx="54.5" cy="23.9" r="1.9"/><circle cx="59.7" cy="27.7" r="1.9"/><circle cx="0.9" cy="52.9" r="2.0"/><circle cx="107.4" cy="52.9" r="2.0"/><circle cx="95.6" cy="35.4" r="2.3"/><circle cx="14.8" cy="14.1" r="2.2"/><circle cx="8.6" cy="5.6" r="2.1"/><circle cx="3.3" cy="1.4" r="2.2"/><circle cx="3.3" cy="78.4" r="2.2"/><circle cx="105.7" cy="28.7" r="2.2"/><circle cx="-0.8" cy="28.7" r="2.2"/><circle cx="50.9" cy="67.2" r="2.0"/><circle cx="20.2" cy="14.1" r="1.8"/><circle cx="70.8" cy="53.2" r="1.9"/><circle cx="29.4" cy="10.1" r="1.9"/><circle cx="4.6" cy="30.8" r="1.9"/><circle cx="11.4" cy="20.9" r="1.8"/><circle cx="63.7" cy="68.6" r="1.9"/><circle cx="6.5" cy="3.4" r="2.1"/><circle cx="7.6" cy="64.4" r="2.0"/><circle cx="10.9" cy="11.7" r="1.9"/><circle cx="50.4" cy="22.1" r="1.9"/><circle cx="56.0" cy="72.1" r="1.8"/><circle cx="37.6" cy="16.7" r="2.2"/><circle cx="63.0" cy="33.1" r="1.9"/><circle cx="5.3" cy="27.9" r="2.0"/><circle cx="40.4" cy="4.6" r="2.0"/><circle cx="10.0" cy="17.3" r="2.1"/><circle cx="95.2" cy="55.9" r="1.9"/><circle cx="11.7" cy="14.8" r="1.9"/><circle cx="35.5" cy="13.3" r="1.8"/><circle cx="102.2" cy="57.3" r="1.9"/><circle cx="55.0" cy="9.8" r="2.3"/><circle cx="98.3" cy="41.9" r="2.1"/><circle cx="54.1" cy="17.4" r="2.2"/><circle cx="64.7" cy="9.1" r="1.7"/><circle cx="6.0" cy="17.1" r="2.0"/><circle cx="72.4" cy="60.5" r="1.7"/><circle cx="97.4" cy="58.1" r="2.3"/><circle cx="56.8" cy="13.1" r="1.9"/><circle cx="90.0" cy="37.7" r="1.8"/><circle cx="96.3" cy="49.3" r="1.8"/><circle cx="55.4" cy="20.4" r="2.1"/><circle cx="59.6" cy="12.0" r="2.0"/><circle cx="0.3" cy="64.0" r="2.3"/><circle cx="106.8" cy="64.0" r="2.3"/><circle cx="63.6" cy="2.3" r="1.9"/><circle cx="68.4" cy="47.3" r="2.0"/><circle cx="61.7" cy="9.6" r="1.7"/><circle cx="95.2" cy="53.1" r="2.0"/><circle cx="95.3" cy="62.5" r="2.2"/><circle cx="71.9" cy="45.3" r="2.3"/><circle cx="3.1" cy="34.4" r="2.3"/><circle cx="102.4" cy="30.8" r="2.1"/><circle cx="68.9" cy="2.4" r="2.0"/><circle cx="102.8" cy="70.0" r="1.9"/><circle cx="103.3" cy="27.1" r="2.0"/><circle cx="2.1" cy="14.0" r="1.8"/><circle cx="101.6" cy="73.6" r="2.2"/><circle cx="100.2" cy="27.9" r="2.1"/><circle cx="57.0" cy="17.3" r="1.9"/><circle cx="104.2" cy="66.8" r="2.0"/><circle cx="21.1" cy="11.1" r="1.9"/><circle cx="6.1" cy="20.9" r="1.9"/><circle cx="15.6" cy="17.0" r="1.9"/><circle cx="65.9" cy="5.1" r="1.7"/><circle cx="89.7" cy="50.7" r="1.8"/><circle cx="101.4" cy="36.9" r="2.1"/><circle cx="76.6" cy="47.6" r="2.1"/><circle cx="69.8" cy="58.6" r="2.1"/><circle cx="77.2" cy="55.8" r="1.9"/><circle cx="9.2" cy="39.7" r="1.9"/><circle cx="71.6" cy="41.0" r="2.0"/><circle cx="60.6" cy="16.7" r="1.9"/><circle cx="60.2" cy="21.7" r="1.8"/><circle cx="1.7" cy="59.5" r="2.3"/><circle cx="108.2" cy="59.5" r="2.3"/><circle cx="75.8" cy="52.7" r="2.0"/><circle cx="61.9" cy="25.0" r="1.9"/><circle cx="70.2" cy="38.5" r="2.0"/><circle cx="87.7" cy="58.4" r="2.3"/><circle cx="76.5" cy="42.2" r="1.9"/><circle cx="98.8" cy="66.6" r="2.1"/><circle cx="64.9" cy="71.8" r="1.8"/><circle cx="84.9" cy="57.6" r="2.0"/><circle cx="76.7" cy="62.2" r="1.9"/><circle cx="99.8" cy="0.8" r="1.8"/><circle cx="99.8" cy="77.8" r="1.8"/><circle cx="79.5" cy="46.3" r="2.2"/><circle cx="84.1" cy="39.3" r="1.7"/><circle cx="2.1" cy="11.0" r="2.3"/><circle cx="108.6" cy="11.0" r="2.3"/><circle cx="85.6" cy="43.4" r="2.2"/><circle cx="93.2" cy="37.3" r="1.8"/><circle cx="69.2" cy="6.5" r="1.9"/><circle cx="93.2" cy="65.5" r="2.3"/><circle cx="82.2" cy="54.4" r="2.2"/><circle cx="103.3" cy="17.8" r="2.2"/><circle cx="66.0" cy="12.6" r="2.1"/><circle cx="79.1" cy="52.9" r="1.7"/><circle cx="63.9" cy="21.5" r="2.0"/><circle cx="90.0" cy="33.0" r="2.0"/><circle cx="73.4" cy="54.3" r="1.9"/><circle cx="69.3" cy="10.7" r="1.8"/><circle cx="68.6" cy="30.1" r="2.1"/><circle cx="81.6" cy="62.7" r="2.2"/><circle cx="84.8" cy="53.0" r="2.3"/><circle cx="70.0" cy="15.3" r="2.0"/><circle cx="88.5" cy="47.6" r="2.1"/><circle cx="84.9" cy="33.3" r="2.0"/><circle cx="71.3" cy="0.3" r="2.3"/><circle cx="71.3" cy="77.3" r="2.3"/><circle cx="70.0" cy="18.4" r="1.8"/><circle cx="93.7" cy="68.5" r="1.8"/><circle cx="102.6" cy="24.3" r="2.2"/><circle cx="83.6" cy="45.7" r="2.3"/><circle cx="82.8" cy="36.5" r="2.0"/><circle cx="72.9" cy="12.4" r="2.0"/><circle cx="92.0" cy="24.7" r="2.1"/><circle cx="81.5" cy="48.6" r="2.0"/><circle cx="96.6" cy="10.8" r="2.1"/><circle cx="72.1" cy="31.0" r="2.2"/><circle cx="78.4" cy="12.0" r="2.2"/><circle cx="86.9" cy="30.6" r="2.3"/><circle cx="74.8" cy="14.7" r="1.8"/><circle cx="85.1" cy="69.4" r="2.2"/><circle cx="71.1" cy="22.5" r="2.3"/><circle cx="77.4" cy="32.5" r="1.9"/><circle cx="102.3" cy="14.4" r="2.1"/><circle cx="80.3" cy="14.0" r="1.9"/><circle cx="81.8" cy="10.8" r="2.1"/><circle cx="75.4" cy="20.2" r="2.1"/><circle cx="74.2" cy="28.9" r="1.8"/><circle cx="74.1" cy="33.9" r="1.7"/><circle cx="69.7" cy="25.1" r="2.1"/><circle cx="78.5" cy="7.4" r="1.9"/><circle cx="62.2" cy="19.1" r="1.8"/><circle cx="88.4" cy="61.2" r="1.9"/><circle cx="92.0" cy="75.0" r="2.1"/><circle cx="92.0" cy="-2.0" r="2.1"/><circle cx="86.5" cy="74.2" r="2.1"/><circle cx="79.5" cy="3.9" r="1.8"/><circle cx="81.0" cy="30.1" r="2.0"/><circle cx="94.2" cy="21.2" r="2.2"/><circle cx="93.7" cy="14.8" r="2.1"/><circle cx="85.6" cy="0.7" r="2.0"/><circle cx="85.6" cy="77.7" r="2.0"/><circle cx="78.7" cy="74.1" r="1.9"/><circle cx="80.9" cy="76.3" r="1.9"/><circle cx="80.9" cy="-0.7" r="1.9"/><circle cx="97.3" cy="21.2" r="2.2"/><circle cx="89.8" cy="21.9" r="2.2"/><circle cx="89.7" cy="0.8" r="1.7"/><circle cx="89.7" cy="77.8" r="1.7"/><circle cx="89.0" cy="16.9" r="2.1"/><circle cx="75.7" cy="25.1" r="1.9"/><circle cx="92.2" cy="2.4" r="1.9"/><circle cx="65.0" cy="24.4" r="2.3"/><circle cx="90.0" cy="6.4" r="1.9"/><circle cx="90.0" cy="9.4" r="2.1"/><circle cx="83.8" cy="19.5" r="1.7"/><circle cx="95.3" cy="5.1" r="2.0"/><circle cx="93.4" cy="10.6" r="2.1"/><circle cx="86.8" cy="6.1" r="1.8"/></g>
<g fill="url(#s3b)"><circle cx="27.6" cy="52.8" r="1.9"/><circle cx="34.2" cy="62.4" r="2.2"/><circle cx="31.0" cy="63.7" r="2.2"/><circle cx="30.1" cy="66.8" r="2.3"/><circle cx="36.4" cy="56.9" r="2.0"/><circle cx="40.4" cy="65.6" r="2.2"/><circle cx="41.4" cy="54.7" r="2.3"/><circle cx="40.2" cy="49.7" r="2.0"/><circle cx="25.7" cy="57.7" r="1.8"/><circle cx="47.6" cy="51.9" r="1.8"/><circle cx="38.1" cy="68.7" r="1.7"/><circle cx="28.3" cy="47.2" r="1.9"/><circle cx="35.1" cy="41.5" r="2.1"/><circle cx="45.2" cy="45.9" r="1.8"/><circle cx="36.3" cy="44.5" r="2.0"/><circle cx="49.6" cy="47.6" r="1.9"/><circle cx="41.0" cy="68.8" r="1.8"/><circle cx="40.4" cy="43.1" r="1.7"/><circle cx="33.9" cy="70.4" r="2.0"/><circle cx="30.0" cy="72.7" r="1.9"/><circle cx="40.4" cy="38.7" r="1.7"/><circle cx="39.6" cy="46.1" r="2.2"/><circle cx="26.4" cy="75.6" r="1.9"/><circle cx="26.4" cy="-1.4" r="1.9"/><circle cx="17.9" cy="68.5" r="1.8"/><circle cx="14.5" cy="57.4" r="2.0"/><circle cx="37.9" cy="40.6" r="1.7"/><circle cx="24.3" cy="72.0" r="1.8"/><circle cx="43.8" cy="43.0" r="2.0"/><circle cx="21.1" cy="1.6" r="1.8"/><circle cx="21.1" cy="78.6" r="1.8"/><circle cx="33.0" cy="67.2" r="2.2"/><circle cx="25.6" cy="36.1" r="2.0"/><circle cx="46.8" cy="41.3" r="2.2"/><circle cx="17.2" cy="47.7" r="1.9"/><circle cx="56.2" cy="51.4" r="1.9"/><circle cx="40.8" cy="35.4" r="2.3"/><circle cx="15.4" cy="51.1" r="1.8"/><circle cx="43.7" cy="67.1" r="1.8"/><circle cx="34.0" cy="3.3" r="1.7"/><circle cx="13.9" cy="4.1" r="2.0"/><circle cx="37.6" cy="5.5" r="1.8"/><circle cx="21.5" cy="44.3" r="2.2"/><circle cx="12.7" cy="38.6" r="2.2"/><circle cx="58.2" cy="48.0" r="2.1"/><circle cx="3.6" cy="44.8" r="1.8"/><circle cx="37.5" cy="10.6" r="2.1"/><circle cx="15.7" cy="35.3" r="2.0"/><circle cx="59.7" cy="51.8" r="2.0"/><circle cx="103.5" cy="47.1" r="1.7"/><circle cx="56.2" cy="65.8" r="2.1"/><circle cx="19.9" cy="5.5" r="2.1"/><circle cx="11.4" cy="64.3" r="1.7"/><circle cx="15.3" cy="32.3" r="2.0"/><circle cx="47.5" cy="8.5" r="1.9"/><circle cx="12.1" cy="45.8" r="1.9"/><circle cx="10.9" cy="61.2" r="1.8"/><circle cx="22.5" cy="20.1" r="2.1"/><circle cx="54.6" cy="39.4" r="2.0"/><circle cx="6.9" cy="41.4" r="1.8"/><circle cx="65.1" cy="48.9" r="1.7"/><circle cx="41.5" cy="32.6" r="1.9"/><circle cx="62.6" cy="51.6" r="2.1"/><circle cx="57.1" cy="37.8" r="2.2"/><circle cx="47.5" cy="72.4" r="1.7"/><circle cx="35.1" cy="7.1" r="1.9"/><circle cx="3.5" cy="40.0" r="2.1"/><circle cx="42.9" cy="27.6" r="2.0"/><circle cx="49.1" cy="74.8" r="2.1"/><circle cx="47.3" cy="28.9" r="2.2"/><circle cx="34.9" cy="29.1" r="2.1"/><circle cx="11.6" cy="0.8" r="2.1"/><circle cx="11.6" cy="77.8" r="2.1"/><circle cx="22.8" cy="15.6" r="2.3"/><circle cx="29.8" cy="19.8" r="2.2"/><circle cx="58.1" cy="60.9" r="1.8"/><circle cx="32.9" cy="23.5" r="1.8"/><circle cx="47.1" cy="4.0" r="1.7"/><circle cx="24.1" cy="11.9" r="1.8"/><circle cx="102.7" cy="50.9" r="2.0"/><circle cx="7.2" cy="73.8" r="2.1"/><circle cx="32.9" cy="14.6" r="1.7"/><circle cx="5.4" cy="68.2" r="1.9"/><circle cx="58.8" cy="64.0" r="1.9"/><circle cx="6.7" cy="55.6" r="2.2"/><circle cx="2.6" cy="69.2" r="1.7"/><circle cx="55.8" cy="31.3" r="1.9"/><circle cx="67.8" cy="51.3" r="1.8"/><circle cx="55.3" cy="48.8" r="1.9"/><circle cx="27.9" cy="14.1" r="2.2"/><circle cx="40.9" cy="24.9" r="2.0"/><circle cx="35.8" cy="22.5" r="1.8"/><circle cx="0.3" cy="71.5" r="2.0"/><circle cx="106.8" cy="71.5" r="2.0"/><circle cx="52.0" cy="74.0" r="1.8"/><circle cx="32.9" cy="20.1" r="2.2"/><circle cx="42.7" cy="13.2" r="1.8"/><circle cx="65.8" cy="46.2" r="2.2"/><circle cx="99.7" cy="55.2" r="1.7"/><circle cx="104.6" cy="53.9" r="1.9"/><circle cx="91.0" cy="54.3" r="1.8"/><circle cx="98.6" cy="38.8" r="1.9"/><circle cx="2.1" cy="24.4" r="2.1"/><circle cx="66.6" cy="40.3" r="1.9"/><circle cx="2.0" cy="27.6" r="1.9"/><circle cx="61.6" cy="71.9" r="2.0"/><circle cx="8.3" cy="27.2" r="1.8"/><circle cx="46.5" cy="22.4" r="1.8"/><circle cx="65.6" cy="63.4" r="1.8"/><circle cx="63.6" cy="75.7" r="1.9"/><circle cx="63.6" cy="-1.3" r="1.9"/><circle cx="91.0" cy="42.9" r="2.0"/><circle cx="98.4" cy="34.0" r="1.9"/><circle cx="39.7" cy="13.7" r="2.2"/><circle cx="47.5" cy="13.7" r="2.0"/><circle cx="1.8" cy="37.0" r="1.9"/><circle cx="108.3" cy="37.0" r="1.9"/><circle cx="34.7" cy="17.9" r="2.2"/><circle cx="8.1" cy="58.3" r="2.2"/><circle cx="70.4" cy="62.9" r="2.3"/><circle cx="70.6" cy="35.1" r="2.2"/><circle cx="66.9" cy="57.8" r="2.0"/><circle cx="0.7" cy="41.1" r="1.8"/><circle cx="107.2" cy="41.1" r="1.8"/><circle cx="105.4" cy="60.3" r="1.8"/><circle cx="-1.1" cy="60.3" r="1.8"/><circle cx="13.5" cy="22.8" r="2.2"/><circle cx="58.6" cy="31.9" r="2.1"/><circle cx="75.3" cy="58.6" r="2.0"/><circle cx="0.8" cy="67.1" r="2.0"/><circle cx="107.3" cy="67.1" r="2.0"/><circle cx="73.4" cy="63.6" r="2.2"/><circle cx="59.2" cy="5.2" r="2.1"/><circle cx="105.6" cy="23.2" r="1.8"/><circle cx="-0.9" cy="23.2" r="1.8"/><circle cx="57.7" cy="76.6" r="2.1"/><circle cx="57.7" cy="-0.4" r="2.1"/><circle cx="104.5" cy="74.5" r="2.1"/><circle cx="-2.0" cy="74.5" r="2.1"/><circle cx="63.8" cy="65.7" r="2.0"/><circle cx="92.8" cy="60.7" r="1.8"/><circle cx="66.3" cy="32.3" r="2.1"/><circle cx="54.5" cy="75.9" r="2.1"/><circle cx="54.5" cy="-1.1" r="2.1"/><circle cx="74.7" cy="44.9" r="1.7"/><circle cx="105.2" cy="1.0" r="2.3"/><circle cx="105.2" cy="78.0" r="2.3"/><circle cx="-1.3" cy="1.0" r="2.3"/><circle cx="-1.3" cy="78.0" r="2.3"/><circle cx="90.4" cy="64.1" r="2.1"/><circle cx="9.6" cy="35.7" r="2.0"/><circle cx="53.5" cy="36.5" r="1.9"/><circle cx="73.2" cy="51.4" r="2.2"/><circle cx="69.5" cy="72.3" r="2.1"/><circle cx="100.1" cy="71.2" r="2.2"/><circle cx="97.7" cy="30.3" r="2.1"/><circle cx="61.1" cy="0.8" r="2.0"/><circle cx="61.1" cy="77.8" r="2.0"/><circle cx="73.0" cy="72.2" r="1.8"/><circle cx="74.6" cy="76.2" r="2.0"/><circle cx="74.6" cy="-0.8" r="2.0"/><circle cx="73.3" cy="67.0" r="1.8"/><circle cx="96.5" cy="69.2" r="1.8"/><circle cx="87.3" cy="66.0" r="1.8"/><circle cx="77.5" cy="37.0" r="2.3"/><circle cx="59.3" cy="73.9" r="2.3"/><circle cx="78.9" cy="39.8" r="1.8"/><circle cx="98.4" cy="62.6" r="1.9"/><circle cx="105.5" cy="19.9" r="2.3"/><circle cx="-1.0" cy="19.9" r="2.3"/><circle cx="80.8" cy="42.7" r="2.1"/><circle cx="66.0" cy="18.0" r="2.0"/><circle cx="72.9" cy="36.9" r="1.8"/><circle cx="95.8" cy="1.7" r="1.9"/><circle cx="95.8" cy="78.7" r="1.9"/><circle cx="94.3" cy="32.1" r="1.8"/><circle cx="99.3" cy="6.1" r="1.8"/><circle cx="91.8" cy="29.3" r="1.9"/><circle cx="91.8" cy="71.5" r="1.7"/><circle cx="75.5" cy="2.0" r="2.0"/><circle cx="75.5" cy="79.0" r="2.0"/><circle cx="105.0" cy="15.2" r="2.1"/><circle cx="-1.5" cy="15.2" r="2.1"/><circle cx="0.4" cy="3.2" r="1.9"/><circle cx="106.9" cy="3.2" r="1.9"/><circle cx="84.4" cy="28.6" r="1.9"/><circle cx="96.8" cy="24.0" r="2.1"/><circle cx="79.6" cy="16.7" r="2.0"/><circle cx="67.6" cy="22.7" r="1.7"/><circle cx="88.7" cy="70.7" r="2.0"/><circle cx="72.7" cy="17.0" r="1.9"/><circle cx="82.7" cy="59.8" r="1.9"/><circle cx="79.5" cy="71.3" r="2.1"/><circle cx="71.4" cy="8.2" r="2.1"/><circle cx="82.8" cy="73.6" r="2.0"/><circle cx="0.9" cy="17.4" r="1.7"/><circle cx="107.4" cy="17.4" r="1.7"/><circle cx="82.2" cy="69.1" r="1.9"/><circle cx="98.3" cy="3.3" r="1.8"/><circle cx="82.2" cy="26.1" r="2.2"/><circle cx="78.1" cy="23.1" r="1.8"/><circle cx="77.6" cy="76.8" r="1.9"/><circle cx="77.6" cy="-0.2" r="1.9"/><circle cx="87.0" cy="23.3" r="2.2"/><circle cx="75.2" cy="10.6" r="1.8"/><circle cx="88.2" cy="44.4" r="2.1"/><circle cx="82.8" cy="22.7" r="2.2"/><circle cx="83.9" cy="16.4" r="1.9"/><circle cx="80.9" cy="19.7" r="2.3"/><circle cx="95.6" cy="8.0" r="1.9"/><circle cx="85.4" cy="12.4" r="2.1"/><circle cx="87.3" cy="3.2" r="2.1"/><circle cx="83.4" cy="8.2" r="1.8"/><circle cx="82.7" cy="3.9" r="2.0"/><circle cx="87.1" cy="19.1" r="2.2"/><circle cx="91.0" cy="13.7" r="2.0"/><circle cx="94.7" cy="71.4" r="1.8"/></g>
<g fill="url(#s3c)"><circle cx="24.9" cy="49.0" r="2.1"/><circle cx="23.3" cy="61.6" r="1.8"/><circle cx="24.6" cy="54.9" r="2.2"/><circle cx="19.6" cy="53.0" r="1.9"/><circle cx="42.9" cy="48.5" r="2.1"/><circle cx="35.5" cy="53.7" r="2.2"/><circle cx="47.0" cy="57.2" r="1.9"/><circle cx="24.5" cy="45.1" r="2.2"/><circle cx="45.7" cy="48.7" r="1.8"/><circle cx="44.0" cy="61.5" r="1.8"/><circle cx="53.0" cy="50.8" r="1.7"/><circle cx="17.9" cy="56.1" r="1.9"/><circle cx="27.2" cy="67.5" r="2.0"/><circle cx="12.4" cy="48.9" r="2.2"/><circle cx="28.3" cy="37.7" r="1.8"/><circle cx="21.9" cy="74.1" r="1.9"/><circle cx="18.9" cy="50.2" r="1.9"/><circle cx="19.9" cy="33.5" r="2.1"/><circle cx="24.3" cy="0.7" r="2.0"/><circle cx="24.3" cy="77.7" r="2.0"/><circle cx="29.1" cy="42.5" r="2.1"/><circle cx="33.8" cy="38.4" r="1.9"/><circle cx="53.8" cy="46.4" r="2.1"/><circle cx="22.0" cy="65.8" r="2.3"/><circle cx="15.1" cy="75.8" r="1.9"/><circle cx="15.1" cy="-1.2" r="1.9"/><circle cx="43.5" cy="37.7" r="1.8"/><circle cx="18.6" cy="36.2" r="2.0"/><circle cx="31.4" cy="76.0" r="1.7"/><circle cx="31.4" cy="-1.0" r="1.7"/><circle cx="52.7" cy="42.0" r="2.0"/><circle cx="17.0" cy="38.8" r="1.8"/><circle cx="25.8" cy="8.1" r="2.3"/><circle cx="43.3" cy="72.8" r="2.1"/><circle cx="31.8" cy="7.5" r="1.9"/><circle cx="44.7" cy="75.3" r="2.2"/><circle cx="44.7" cy="-1.7" r="2.2"/><circle cx="60.9" cy="54.6" r="1.9"/><circle cx="1.6" cy="48.0" r="1.8"/><circle cx="108.1" cy="48.0" r="1.8"/><circle cx="44.5" cy="35.0" r="2.0"/><circle cx="58.8" cy="41.2" r="2.0"/><circle cx="8.2" cy="67.4" r="1.8"/><circle cx="53.7" cy="68.7" r="2.1"/><circle cx="26.3" cy="21.1" r="2.0"/><circle cx="8.1" cy="70.7" r="1.9"/><circle cx="46.1" cy="25.7" r="2.0"/><circle cx="47.7" cy="0.7" r="1.9"/><circle cx="47.7" cy="77.7" r="1.9"/><circle cx="24.3" cy="28.3" r="1.9"/><circle cx="29.7" cy="23.3" r="1.8"/><circle cx="19.6" cy="23.9" r="1.8"/><circle cx="3.6" cy="55.6" r="2.0"/><circle cx="16.1" cy="24.1" r="1.7"/><circle cx="35.2" cy="0.5" r="2.0"/><circle cx="35.2" cy="77.5" r="2.0"/><circle cx="43.8" cy="24.0" r="2.1"/><circle cx="51.4" cy="29.1" r="2.1"/><circle cx="6.6" cy="61.7" r="2.1"/><circle cx="64.5" cy="37.9" r="2.1"/><circle cx="37.1" cy="19.9" r="1.8"/><circle cx="13.1" cy="9.1" r="2.1"/><circle cx="52.9" cy="8.0" r="2.1"/><circle cx="6.2" cy="37.6" r="1.9"/><circle cx="17.4" cy="10.9" r="2.2"/><circle cx="67.2" cy="37.2" r="1.9"/><circle cx="56.0" cy="6.6" r="1.9"/><circle cx="17.6" cy="19.5" r="1.8"/><circle cx="13.5" cy="18.9" r="1.8"/><circle cx="93.7" cy="50.5" r="1.9"/><circle cx="43.3" cy="21.3" r="2.2"/><circle cx="105.0" cy="44.3" r="2.3"/><circle cx="-1.5" cy="44.3" r="2.3"/><circle cx="8.7" cy="9.6" r="2.1"/><circle cx="46.4" cy="19.4" r="1.8"/><circle cx="106.1" cy="57.3" r="2.1"/><circle cx="-0.4" cy="57.3" r="2.1"/><circle cx="41.5" cy="18.2" r="1.8"/><circle cx="7.7" cy="29.9" r="1.9"/><circle cx="62.6" cy="6.2" r="1.8"/><circle cx="28.6" cy="6.4" r="2.3"/><circle cx="5.4" cy="8.1" r="2.2"/><circle cx="103.7" cy="35.2" r="1.9"/><circle cx="5.7" cy="12.5" r="2.1"/><circle cx="49.9" cy="17.9" r="2.3"/><circle cx="0.1" cy="32.1" r="1.9"/><circle cx="106.6" cy="32.1" r="1.9"/><circle cx="39.7" cy="7.8" r="2.0"/><circle cx="50.2" cy="15.1" r="2.0"/><circle cx="67.8" cy="66.1" r="2.2"/><circle cx="2.9" cy="63.0" r="2.2"/><circle cx="44.7" cy="16.8" r="1.8"/><circle cx="1.5" cy="75.6" r="2.2"/><circle cx="1.5" cy="-1.4" r="2.2"/><circle cx="108.0" cy="75.6" r="2.2"/><circle cx="108.0" cy="-1.4" r="2.2"/><circle cx="71.1" cy="48.4" r="1.7"/><circle cx="68.8" cy="43.5" r="1.8"/><circle cx="71.6" cy="69.3" r="2.1"/><circle cx="66.9" cy="69.3" r="2.0"/><circle cx="105.7" cy="38.2" r="1.9"/><circle cx="-0.8" cy="38.2" r="1.9"/><circle cx="38.9" cy="58.6" r="2.0"/><circle cx="68.9" cy="75.4" r="2.2"/><circle cx="68.9" cy="-1.6" r="2.2"/><circle cx="3.5" cy="19.1" r="2.1"/><circle cx="101.5" cy="64.3" r="1.9"/><circle cx="57.4" cy="24.4" r="2.2"/><circle cx="90.4" cy="57.1" r="2.1"/><circle cx="96.4" cy="73.6" r="2.1"/><circle cx="101.8" cy="60.2" r="2.2"/><circle cx="74.7" cy="39.7" r="1.7"/><circle cx="87.8" cy="52.8" r="2.0"/><circle cx="84.7" cy="48.9" r="2.0"/><circle cx="86.5" cy="37.0" r="1.8"/><circle cx="105.6" cy="10.8" r="2.0"/><circle cx="-0.9" cy="10.8" r="2.0"/><circle cx="95.4" cy="28.2" r="1.7"/><circle cx="1.3" cy="6.5" r="1.8"/><circle cx="107.8" cy="6.5" r="1.8"/><circle cx="101.3" cy="21.4" r="1.7"/><circle cx="80.3" cy="57.7" r="2.0"/><circle cx="66.8" cy="27.3" r="1.7"/><circle cx="62.3" cy="30.3" r="1.9"/><circle cx="62.6" cy="14.1" r="1.9"/><circle cx="66.5" cy="0.5" r="2.0"/><circle cx="66.5" cy="77.5" r="2.0"/><circle cx="89.9" cy="67.8" r="1.8"/><circle cx="73.1" cy="4.1" r="2.1"/><circle cx="85.6" cy="62.2" r="2.3"/><circle cx="77.9" cy="50.1" r="2.2"/><circle cx="87.2" cy="40.9" r="1.9"/><circle cx="76.4" cy="66.5" r="2.0"/><circle cx="103.0" cy="4.1" r="1.8"/><circle cx="75.3" cy="7.2" r="1.7"/><circle cx="80.8" cy="33.6" r="2.0"/><circle cx="87.4" cy="27.0" r="2.0"/><circle cx="99.8" cy="24.1" r="1.9"/><circle cx="4.1" cy="5.0" r="2.0"/><circle cx="79.2" cy="67.1" r="2.1"/><circle cx="100.9" cy="9.7" r="2.1"/><circle cx="98.5" cy="15.5" r="2.1"/><circle cx="84.3" cy="64.8" r="2.1"/><circle cx="76.3" cy="17.1" r="1.8"/><circle cx="76.3" cy="70.2" r="1.7"/><circle cx="96.0" cy="65.9" r="1.9"/><circle cx="77.3" cy="28.6" r="2.1"/><circle cx="78.8" cy="26.0" r="2.2"/><circle cx="97.0" cy="18.3" r="2.0"/><circle cx="93.3" cy="18.4" r="1.8"/><circle cx="104.0" cy="8.0" r="1.7"/><circle cx="78.9" cy="60.3" r="2.2"/><circle cx="71.9" cy="27.2" r="2.3"/><circle cx="87.1" cy="9.2" r="2.0"/><circle cx="88.1" cy="13.8" r="2.0"/><circle cx="92.6" cy="7.7" r="2.1"/><circle cx="63.8" cy="27.7" r="2.0"/></g>
</pattern>
<radialGradient id="gp"><stop offset="0" stop-color="#7a6ea0"/><stop offset="0.5" stop-color="#948cb4"/><stop offset="0.75" stop-color="#b0aac8" stop-opacity="0.9"/><stop offset="1" stop-color="#e4e2ee" stop-opacity="0"/></radialGradient>
<radialGradient id="gg"><stop offset="0" stop-color="#78a844"/><stop offset="0.5" stop-color="#98c068"/><stop offset="0.72" stop-color="#b4d48c" stop-opacity="0.9"/><stop offset="1" stop-color="#e4f0d4" stop-opacity="0"/></radialGradient>
<radialGradient id="gt"><stop offset="0" stop-color="#c8f0f4" stop-opacity="0.5"/><stop offset="1" stop-color="#e0f8fa" stop-opacity="0"/></radialGradient>
<radialGradient id="sp" cx="0.4" cy="0.35" r="0.65"><stop offset="0" stop-color="#8a80a4"/><stop offset="0.6" stop-color="#5a5072"/><stop offset="1" stop-color="#3e3654"/></radialGradient>
<radialGradient id="sg" cx="0.4" cy="0.35" r="0.65"><stop offset="0" stop-color="#6e9a48"/><stop offset="0.6" stop-color="#3e6226"/><stop offset="1" stop-color="#2c4a1a"/></radialGradient>
<radialGradient id="st" cx="0.4" cy="0.35" r="0.65"><stop offset="0" stop-color="#7cc0dc"/><stop offset="0.6" stop-color="#4a9cc4"/><stop offset="1" stop-color="#3a8cb8"/></radialGradient>
</defs>
<rect width="785" height="545" fill="#fff"/>
<defs><clipPath id="k1"><rect x="287" y="0" width="213" height="170"/></clipPath><clipPath id="k2"><rect x="287" y="185" width="213" height="169.5"/></clipPath><clipPath id="k3"><rect x="287" y="376" width="213" height="154"/></clipPath></defs>
<g clip-path="url(#k1)"><g filter="url(#bl)">
<rect x="284" y="-3" width="219" height="176" fill="#222"/>
<g fill="url(#s1a)"><circle cx="374.4" cy="98.2" r="3.8"/><circle cx="383.5" cy="108.3" r="3.0"/><circle cx="387.2" cy="80.1" r="3.6"/><circle cx="367.6" cy="85.5" r="3.1"/><circle cx="375.7" cy="103.7" r="3.4"/><circle cx="384.0" cy="67.5" r="3.1"/><circle cx="377.7" cy="86.2" r="2.9"/><circle cx="372.6" cy="85.7" r="3.4"/><circle cx="397.8" cy="76.4" r="3.2"/><circle cx="378.5" cy="114.9" r="3.2"/><circle cx="390.8" cy="97.3" r="3.7"/><circle cx="389.8" cy="91.0" r="3.8"/><circle cx="378.2" cy="80.3" r="2.9"/><circle cx="368.4" cy="100.1" r="3.8"/><circle cx="365.2" cy="95.1" r="3.9"/><circle cx="395.1" cy="87.0" r="3.7"/><circle cx="375.7" cy="74.3" r="3.0"/><circle cx="377.1" cy="66.9" r="3.0"/><circle cx="395.5" cy="92.5" r="3.0"/><circle cx="367.3" cy="79.2" r="3.7"/><circle cx="365.6" cy="116.9" r="3.5"/><circle cx="366.3" cy="108.5" r="3.0"/><circle cx="360.2" cy="98.2" r="3.1"/><circle cx="402.7" cy="62.5" r="3.1"/><circle cx="393.9" cy="116.1" r="3.1"/><circle cx="354.1" cy="77.8" r="3.7"/><circle cx="371.4" cy="106.4" r="3.2"/><circle cx="393.5" cy="101.6" r="3.3"/><circle cx="359.7" cy="88.4" r="3.9"/><circle cx="397.9" cy="98.6" r="3.1"/><circle cx="371.9" cy="68.1" r="3.1"/><circle cx="401.1" cy="93.2" r="3.3"/><circle cx="397.0" cy="122.8" r="3.5"/><circle cx="367.8" cy="73.5" r="3.0"/><circle cx="356.0" cy="92.7" r="3.5"/><circle cx="399.5" cy="84.0" r="3.8"/><circle cx="384.5" cy="55.7" r="2.9"/><circle cx="375.6" cy="59.6" r="3.3"/><circle cx="352.6" cy="116.2" r="3.1"/><circle cx="407.6" cy="80.9" r="3.5"/><circle cx="406.3" cy="68.0" r="3.0"/><circle cx="351.6" cy="88.4" r="3.5"/><circle cx="351.0" cy="66.1" r="3.6"/><circle cx="415.4" cy="62.8" r="3.4"/><circle cx="390.2" cy="124.1" r="3.6"/><circle cx="406.2" cy="124.4" r="3.2"/><circle cx="340.9" cy="80.0" r="3.1"/><circle cx="390.2" cy="58.2" r="3.1"/><circle cx="404.4" cy="129.1" r="3.8"/><circle cx="359.7" cy="122.5" r="3.5"/><circle cx="339.9" cy="91.1" r="3.0"/><circle cx="430.9" cy="73.7" r="3.2"/><circle cx="412.5" cy="87.4" r="3.3"/><circle cx="363.8" cy="70.4" r="3.1"/><circle cx="399.6" cy="112.9" r="3.5"/><circle cx="390.6" cy="49.9" r="3.9"/><circle cx="395.3" cy="137.1" r="3.0"/><circle cx="403.7" cy="47.6" r="3.8"/><circle cx="383.0" cy="133.2" r="2.9"/><circle cx="354.6" cy="123.8" r="3.4"/><circle cx="338.3" cy="71.4" r="3.7"/><circle cx="347.6" cy="118.8" r="3.0"/><circle cx="360.1" cy="74.0" r="3.5"/><circle cx="404.9" cy="109.9" r="3.6"/><circle cx="402.6" cy="120.9" r="3.4"/><circle cx="404.8" cy="115.8" r="2.9"/><circle cx="397.8" cy="45.3" r="3.6"/><circle cx="345.0" cy="87.4" r="3.2"/><circle cx="389.9" cy="139.9" r="3.8"/><circle cx="406.8" cy="95.8" r="3.0"/><circle cx="410.0" cy="109.9" r="3.9"/><circle cx="411.1" cy="119.2" r="3.6"/><circle cx="354.8" cy="55.6" r="3.8"/><circle cx="347.2" cy="62.9" r="3.0"/><circle cx="370.5" cy="55.5" r="3.4"/><circle cx="349.8" cy="125.9" r="3.7"/><circle cx="409.5" cy="101.1" r="3.7"/><circle cx="382.1" cy="139.5" r="3.0"/><circle cx="415.8" cy="94.3" r="3.9"/><circle cx="402.8" cy="136.5" r="3.9"/><circle cx="334.0" cy="108.5" r="3.2"/><circle cx="420.4" cy="96.9" r="3.5"/><circle cx="413.1" cy="113.8" r="3.5"/><circle cx="421.2" cy="59.2" r="3.5"/><circle cx="352.2" cy="133.8" r="3.6"/><circle cx="421.9" cy="51.8" r="3.4"/><circle cx="428.1" cy="49.0" r="3.2"/><circle cx="430.7" cy="68.5" r="3.0"/><circle cx="379.5" cy="55.8" r="3.4"/><circle cx="378.1" cy="134.7" r="3.8"/><circle cx="373.2" cy="136.8" r="3.7"/><circle cx="419.2" cy="42.5" r="3.1"/><circle cx="433.3" cy="90.6" r="3.6"/><circle cx="410.8" cy="127.3" r="3.1"/><circle cx="410.7" cy="133.4" r="3.4"/><circle cx="426.9" cy="102.0" r="3.3"/><circle cx="363.9" cy="131.0" r="3.4"/><circle cx="323.6" cy="70.3" r="3.8"/><circle cx="432.1" cy="53.3" r="3.8"/><circle cx="418.5" cy="105.9" r="3.8"/><circle cx="343.5" cy="75.6" r="3.2"/><circle cx="341.9" cy="122.2" r="3.7"/><circle cx="414.7" cy="123.0" r="3.7"/><circle cx="332.0" cy="62.1" r="2.9"/><circle cx="427.4" cy="43.4" r="3.9"/><circle cx="419.7" cy="128.3" r="3.1"/><circle cx="430.9" cy="63.5" r="3.0"/><circle cx="416.6" cy="132.2" r="3.5"/><circle cx="430.3" cy="86.4" r="3.1"/><circle cx="438.0" cy="71.4" r="3.8"/><circle cx="377.8" cy="143.4" r="3.2"/><circle cx="326.8" cy="108.4" r="3.4"/><circle cx="330.6" cy="83.5" r="3.5"/><circle cx="435.3" cy="37.7" r="3.1"/><circle cx="388.0" cy="144.5" r="3.6"/><circle cx="387.5" cy="135.5" r="3.1"/><circle cx="324.8" cy="89.3" r="3.4"/><circle cx="348.5" cy="140.2" r="3.5"/><circle cx="426.3" cy="57.7" r="3.7"/><circle cx="393.9" cy="37.6" r="3.7"/><circle cx="418.0" cy="139.5" r="3.6"/><circle cx="364.1" cy="55.2" r="3.2"/><circle cx="316.5" cy="87.3" r="2.9"/><circle cx="441.6" cy="35.4" r="3.6"/><circle cx="316.6" cy="82.2" r="3.4"/><circle cx="395.3" cy="146.4" r="3.9"/><circle cx="421.8" cy="134.2" r="3.2"/><circle cx="362.2" cy="136.2" r="2.9"/><circle cx="328.2" cy="78.2" r="3.3"/><circle cx="393.7" cy="29.8" r="3.7"/><circle cx="351.3" cy="146.5" r="3.1"/><circle cx="352.7" cy="50.4" r="3.1"/><circle cx="439.2" cy="44.8" r="3.5"/><circle cx="415.6" cy="100.5" r="3.9"/><circle cx="393.2" cy="152.1" r="3.3"/><circle cx="341.4" cy="127.5" r="3.2"/><circle cx="378.3" cy="44.5" r="3.1"/><circle cx="403.7" cy="33.7" r="3.7"/><circle cx="407.9" cy="156.0" r="3.3"/><circle cx="343.4" cy="146.6" r="3.9"/><circle cx="389.1" cy="26.1" r="3.6"/><circle cx="441.2" cy="30.3" r="3.5"/><circle cx="446.0" cy="64.2" r="3.5"/><circle cx="397.6" cy="25.9" r="3.1"/><circle cx="390.0" cy="42.8" r="3.4"/><circle cx="379.1" cy="152.8" r="3.4"/><circle cx="323.2" cy="76.3" r="3.5"/><circle cx="337.4" cy="142.7" r="3.6"/><circle cx="388.6" cy="149.7" r="3.3"/><circle cx="356.8" cy="142.0" r="3.7"/><circle cx="442.4" cy="55.3" r="2.9"/><circle cx="318.7" cy="100.1" r="3.2"/><circle cx="362.1" cy="142.1" r="3.5"/><circle cx="449.3" cy="28.6" r="3.4"/><circle cx="398.4" cy="151.5" r="3.3"/><circle cx="353.5" cy="33.9" r="3.1"/><circle cx="364.0" cy="46.0" r="3.0"/><circle cx="383.3" cy="34.7" r="3.7"/><circle cx="444.5" cy="86.8" r="3.3"/><circle cx="428.0" cy="131.8" r="3.7"/><circle cx="386.4" cy="46.2" r="3.3"/><circle cx="417.3" cy="33.7" r="3.0"/><circle cx="314.6" cy="95.9" r="3.5"/><circle cx="335.1" cy="124.6" r="3.6"/><circle cx="357.3" cy="38.6" r="3.7"/><circle cx="413.8" cy="42.0" r="3.0"/><circle cx="331.6" cy="56.1" r="3.2"/><circle cx="368.8" cy="132.4" r="3.3"/><circle cx="329.3" cy="145.6" r="3.8"/><circle cx="389.3" cy="21.0" r="3.7"/><circle cx="363.1" cy="151.8" r="3.2"/><circle cx="384.9" cy="28.9" r="3.1"/><circle cx="347.6" cy="30.5" r="3.3"/><circle cx="402.1" cy="158.4" r="3.3"/><circle cx="317.4" cy="110.5" r="3.8"/><circle cx="316.2" cy="62.2" r="3.7"/><circle cx="423.3" cy="46.9" r="3.0"/><circle cx="342.3" cy="29.4" r="3.6"/><circle cx="415.3" cy="153.1" r="3.3"/><circle cx="302.3" cy="87.2" r="3.8"/><circle cx="317.7" cy="74.6" r="3.7"/><circle cx="439.0" cy="95.3" r="3.3"/><circle cx="410.7" cy="31.1" r="3.3"/><circle cx="397.2" cy="7.0" r="3.1"/><circle cx="430.1" cy="116.1" r="3.0"/><circle cx="422.6" cy="109.3" r="3.7"/><circle cx="422.4" cy="31.7" r="3.0"/><circle cx="320.4" cy="53.4" r="2.9"/><circle cx="382.8" cy="20.2" r="3.1"/><circle cx="433.0" cy="135.5" r="3.5"/><circle cx="420.6" cy="26.2" r="3.1"/><circle cx="331.8" cy="132.3" r="3.7"/><circle cx="444.1" cy="102.8" r="3.8"/><circle cx="394.5" cy="19.7" r="3.4"/><circle cx="353.8" cy="160.7" r="3.7"/><circle cx="312.1" cy="73.7" r="3.6"/><circle cx="311.1" cy="123.2" r="2.9"/><circle cx="372.3" cy="160.4" r="3.1"/><circle cx="311.8" cy="103.4" r="3.2"/><circle cx="402.1" cy="9.8" r="3.0"/><circle cx="374.7" cy="38.3" r="3.6"/><circle cx="374.9" cy="24.7" r="3.4"/><circle cx="307.0" cy="60.0" r="3.8"/><circle cx="317.1" cy="124.5" r="3.7"/><circle cx="296.6" cy="96.3" r="3.8"/><circle cx="409.6" cy="18.1" r="3.7"/><circle cx="368.8" cy="150.4" r="3.2"/><circle cx="401.8" cy="166.6" r="3.0"/><circle cx="407.1" cy="10.8" r="3.0"/><circle cx="434.2" cy="26.9" r="2.9"/><circle cx="330.9" cy="137.8" r="3.6"/><circle cx="299.9" cy="109.0" r="3.5"/><circle cx="413.8" cy="23.5" r="3.7"/><circle cx="317.7" cy="105.0" r="3.5"/><circle cx="425.7" cy="119.4" r="3.2"/><circle cx="308.9" cy="118.8" r="3.2"/><circle cx="340.5" cy="159.1" r="3.6"/><circle cx="322.6" cy="125.4" r="3.6"/><circle cx="438.9" cy="116.1" r="3.7"/><circle cx="385.3" cy="12.5" r="3.0"/><circle cx="307.5" cy="113.6" r="3.1"/><circle cx="342.9" cy="24.4" r="3.0"/><circle cx="309.1" cy="129.6" r="3.1"/><circle cx="370.7" cy="31.1" r="3.3"/><circle cx="377.9" cy="20.7" r="3.8"/><circle cx="345.2" cy="36.7" r="3.3"/><circle cx="312.6" cy="49.8" r="3.3"/><circle cx="449.2" cy="96.2" r="2.9"/><circle cx="345.7" cy="15.1" r="3.0"/><circle cx="442.6" cy="112.6" r="3.5"/><circle cx="303.7" cy="122.1" r="3.0"/><circle cx="289.2" cy="92.5" r="3.3"/><circle cx="350.5" cy="25.9" r="3.5"/><circle cx="357.9" cy="164.2" r="3.7"/><circle cx="368.4" cy="38.8" r="3.4"/><circle cx="363.6" cy="27.4" r="2.9"/><circle cx="389.6" cy="15.6" r="3.6"/><circle cx="316.3" cy="43.5" r="3.7"/><circle cx="326.8" cy="129.8" r="3.1"/><circle cx="299.8" cy="74.1" r="3.0"/><circle cx="297.6" cy="89.8" r="3.5"/><circle cx="320.1" cy="131.3" r="3.4"/><circle cx="429.1" cy="14.5" r="3.5"/><circle cx="444.9" cy="131.6" r="3.5"/><circle cx="447.6" cy="77.7" r="3.6"/><circle cx="423.6" cy="157.8" r="3.4"/><circle cx="387.4" cy="168.5" r="3.3"/><circle cx="452.8" cy="99.6" r="3.2"/><circle cx="454.8" cy="30.6" r="3.7"/><circle cx="455.3" cy="54.9" r="3.5"/><circle cx="459.8" cy="27.0" r="3.0"/><circle cx="442.2" cy="144.4" r="3.4"/><circle cx="347.7" cy="150.1" r="3.4"/><circle cx="335.3" cy="27.1" r="3.2"/><circle cx="444.3" cy="125.8" r="3.1"/><circle cx="426.2" cy="18.6" r="3.9"/><circle cx="358.4" cy="26.6" r="3.1"/><circle cx="392.9" cy="170.0" r="3.2"/><circle cx="448.1" cy="14.9" r="3.3"/><circle cx="451.3" cy="41.0" r="3.5"/><circle cx="451.5" cy="45.9" r="3.2"/><circle cx="392.1" cy="10.0" r="3.4"/><circle cx="370.6" cy="168.1" r="3.8"/><circle cx="451.6" cy="34.9" r="3.7"/><circle cx="330.1" cy="28.4" r="3.4"/><circle cx="434.3" cy="12.9" r="2.9"/><circle cx="340.8" cy="17.5" r="3.6"/><circle cx="309.4" cy="54.8" r="3.6"/><circle cx="333.1" cy="160.2" r="3.3"/><circle cx="457.6" cy="110.5" r="3.1"/><circle cx="322.6" cy="24.1" r="3.6"/><circle cx="431.5" cy="161.0" r="3.1"/><circle cx="456.7" cy="22.3" r="3.1"/><circle cx="412.2" cy="12.6" r="3.4"/><circle cx="294.3" cy="69.1" r="3.5"/><circle cx="411.8" cy="4.0" r="3.0"/><circle cx="363.2" cy="164.8" r="3.7"/><circle cx="303.1" cy="52.8" r="3.9"/><circle cx="379.3" cy="13.7" r="3.4"/><circle cx="337.6" cy="22.2" r="3.9"/><circle cx="457.2" cy="48.3" r="3.7"/><circle cx="383.0" cy="171.4" r="3.5"/><circle cx="344.9" cy="166.3" r="3.1"/><circle cx="343.3" cy="8.4" r="3.4"/><circle cx="303.6" cy="44.5" r="3.1"/><circle cx="339.8" cy="165.0" r="2.9"/><circle cx="343.0" cy="172.5" r="3.3"/><circle cx="326.8" cy="166.2" r="3.7"/><circle cx="384.7" cy="5.5" r="3.0"/><circle cx="394.4" cy="-0.2" r="2.9"/><circle cx="291.6" cy="112.7" r="3.1"/><circle cx="313.7" cy="33.6" r="3.0"/><circle cx="326.1" cy="150.8" r="3.3"/><circle cx="462.4" cy="47.1" r="3.9"/><circle cx="462.4" cy="101.2" r="3.9"/><circle cx="338.2" cy="9.2" r="2.9"/><circle cx="437.5" cy="-2.5" r="3.8"/><circle cx="432.5" cy="2.0" r="3.3"/><circle cx="376.0" cy="167.0" r="3.3"/><circle cx="325.0" cy="160.3" r="3.1"/><circle cx="403.7" cy="-2.5" r="3.5"/><circle cx="339.6" cy="2.3" r="3.3"/><circle cx="369.2" cy="26.4" r="2.9"/><circle cx="292.9" cy="54.6" r="3.6"/><circle cx="448.7" cy="139.6" r="3.8"/><circle cx="291.3" cy="100.5" r="3.1"/><circle cx="426.1" cy="162.5" r="3.1"/><circle cx="327.1" cy="21.2" r="3.1"/><circle cx="285.4" cy="97.0" r="3.2"/><circle cx="319.2" cy="158.5" r="3.8"/><circle cx="322.7" cy="42.3" r="3.3"/><circle cx="456.1" cy="69.9" r="3.6"/><circle cx="450.8" cy="91.2" r="3.2"/><circle cx="315.1" cy="28.1" r="3.1"/><circle cx="366.3" cy="13.8" r="3.6"/><circle cx="298.5" cy="50.4" r="3.3"/><circle cx="463.5" cy="108.6" r="3.8"/><circle cx="349.6" cy="168.0" r="3.8"/><circle cx="455.0" cy="118.5" r="3.2"/><circle cx="299.6" cy="30.3" r="3.4"/><circle cx="291.5" cy="105.9" r="3.3"/><circle cx="339.1" cy="137.6" r="2.9"/><circle cx="328.6" cy="94.3" r="3.5"/><circle cx="467.2" cy="42.9" r="3.2"/><circle cx="348.6" cy="20.0" r="3.4"/><circle cx="420.6" cy="5.4" r="3.6"/><circle cx="438.3" cy="155.9" r="3.0"/><circle cx="334.1" cy="32.0" r="3.3"/><circle cx="312.4" cy="39.2" r="3.8"/><circle cx="447.9" cy="2.2" r="3.2"/><circle cx="317.9" cy="163.7" r="3.1"/><circle cx="286.1" cy="112.7" r="3.9"/><circle cx="402.1" cy="4.7" r="3.8"/><circle cx="354.5" cy="169.1" r="3.5"/><circle cx="334.7" cy="16.5" r="3.3"/><circle cx="462.2" cy="9.5" r="3.0"/><circle cx="361.1" cy="14.0" r="3.2"/><circle cx="309.3" cy="31.1" r="3.2"/><circle cx="334.9" cy="168.4" r="3.3"/><circle cx="460.5" cy="62.1" r="3.1"/><circle cx="291.2" cy="42.2" r="3.2"/><circle cx="457.4" cy="137.3" r="3.6"/><circle cx="348.4" cy="7.6" r="3.3"/><circle cx="366.0" cy="34.2" r="3.0"/><circle cx="471.4" cy="49.1" r="2.9"/><circle cx="416.3" cy="-2.9" r="3.5"/><circle cx="462.8" cy="136.2" r="3.2"/><circle cx="461.6" cy="130.0" r="2.9"/><circle cx="311.6" cy="155.5" r="3.1"/><circle cx="332.1" cy="9.7" r="3.3"/><circle cx="288.9" cy="134.3" r="3.8"/><circle cx="312.3" cy="22.3" r="3.8"/><circle cx="295.2" cy="34.9" r="3.2"/><circle cx="317.4" cy="17.1" r="3.9"/><circle cx="328.4" cy="172.0" r="3.1"/><circle cx="454.2" cy="-0.3" r="3.6"/><circle cx="458.7" cy="3.5" r="3.3"/><circle cx="379.4" cy="6.3" r="3.9"/><circle cx="361.5" cy="5.7" r="3.3"/><circle cx="375.4" cy="2.8" r="3.1"/><circle cx="310.1" cy="149.8" r="3.2"/><circle cx="289.3" cy="117.1" r="3.4"/><circle cx="284.6" cy="119.1" r="3.0"/><circle cx="455.0" cy="11.6" r="3.0"/><circle cx="461.9" cy="120.3" r="3.7"/><circle cx="464.8" cy="142.1" r="3.8"/><circle cx="459.5" cy="115.6" r="3.7"/><circle cx="322.1" cy="18.6" r="3.6"/><circle cx="313.7" cy="13.4" r="3.6"/><circle cx="461.0" cy="73.0" r="3.5"/><circle cx="368.4" cy="3.4" r="3.0"/><circle cx="376.2" cy="-2.7" r="3.6"/><circle cx="443.4" cy="158.6" r="3.1"/><circle cx="312.1" cy="164.1" r="3.9"/><circle cx="433.2" cy="155.2" r="3.6"/><circle cx="472.5" cy="112.2" r="3.5"/><circle cx="364.5" cy="171.9" r="3.0"/><circle cx="435.0" cy="170.9" r="3.9"/><circle cx="442.2" cy="-1.1" r="3.2"/><circle cx="466.3" cy="12.9" r="3.4"/><circle cx="452.2" cy="155.2" r="3.3"/><circle cx="315.9" cy="138.2" r="3.2"/><circle cx="467.4" cy="122.9" r="3.9"/><circle cx="306.8" cy="24.4" r="3.7"/><circle cx="457.2" cy="125.9" r="3.1"/><circle cx="380.5" cy="1.2" r="3.8"/><circle cx="304.9" cy="159.4" r="3.4"/><circle cx="365.7" cy="8.7" r="3.2"/><circle cx="447.9" cy="-2.9" r="3.5"/><circle cx="320.6" cy="141.7" r="3.5"/><circle cx="322.0" cy="13.5" r="3.1"/><circle cx="314.9" cy="131.5" r="3.3"/><circle cx="469.8" cy="4.1" r="2.9"/><circle cx="368.4" cy="-1.7" r="3.8"/><circle cx="303.5" cy="152.0" r="3.0"/><circle cx="308.4" cy="17.8" r="3.4"/><circle cx="293.9" cy="129.5" r="3.7"/><circle cx="416.6" cy="2.4" r="3.6"/><circle cx="326.3" cy="1.5" r="2.9"/><circle cx="473.1" cy="56.4" r="3.0"/><circle cx="469.5" cy="106.8" r="2.9"/><circle cx="289.0" cy="57.9" r="3.9"/><circle cx="307.3" cy="145.0" r="3.9"/><circle cx="288.7" cy="50.7" r="3.9"/><circle cx="454.4" cy="149.5" r="3.6"/><circle cx="305.1" cy="10.3" r="3.8"/><circle cx="470.2" cy="133.6" r="3.5"/><circle cx="453.9" cy="164.4" r="3.3"/><circle cx="306.4" cy="1.1" r="3.3"/><circle cx="286.0" cy="44.6" r="3.8"/><circle cx="454.7" cy="143.0" r="3.0"/><circle cx="469.8" cy="71.5" r="3.6"/><circle cx="300.9" cy="2.1" r="3.6"/><circle cx="314.2" cy="5.1" r="3.0"/><circle cx="286.3" cy="29.5" r="3.2"/><circle cx="445.8" cy="168.0" r="3.3"/><circle cx="312.6" cy="144.2" r="3.1"/><circle cx="310.9" cy="138.4" r="3.6"/><circle cx="485.0" cy="15.2" r="3.9"/><circle cx="305.8" cy="164.6" r="3.1"/><circle cx="298.4" cy="169.5" r="3.9"/><circle cx="473.5" cy="122.3" r="3.5"/><circle cx="478.3" cy="106.2" r="3.5"/><circle cx="479.0" cy="48.7" r="3.6"/><circle cx="296.0" cy="3.2" r="3.6"/><circle cx="454.5" cy="172.0" r="3.3"/><circle cx="458.9" cy="157.0" r="3.4"/><circle cx="474.7" cy="99.8" r="3.5"/><circle cx="481.1" cy="111.5" r="3.8"/><circle cx="289.4" cy="22.5" r="3.6"/><circle cx="465.9" cy="89.5" r="3.4"/><circle cx="295.2" cy="-2.6" r="3.9"/><circle cx="479.6" cy="119.5" r="3.8"/><circle cx="473.5" cy="61.4" r="3.7"/><circle cx="483.4" cy="45.2" r="3.7"/><circle cx="285.2" cy="138.6" r="3.3"/><circle cx="456.8" cy="132.3" r="2.9"/><circle cx="466.1" cy="75.0" r="3.0"/><circle cx="481.5" cy="20.3" r="3.3"/><circle cx="319.4" cy="-1.1" r="3.2"/><circle cx="287.0" cy="144.3" r="3.5"/><circle cx="299.4" cy="25.4" r="3.1"/><circle cx="304.5" cy="29.1" r="3.6"/><circle cx="296.2" cy="8.9" r="3.0"/><circle cx="286.9" cy="149.6" r="3.3"/><circle cx="487.3" cy="110.4" r="3.6"/><circle cx="483.7" cy="26.8" r="3.2"/><circle cx="287.7" cy="4.8" r="3.3"/><circle cx="301.4" cy="-2.8" r="3.6"/><circle cx="484.5" cy="33.6" r="3.8"/><circle cx="355.2" cy="-2.8" r="3.3"/><circle cx="484.2" cy="62.6" r="3.3"/><circle cx="472.6" cy="141.5" r="3.6"/><circle cx="476.2" cy="127.4" r="3.3"/><circle cx="478.9" cy="91.2" r="3.8"/><circle cx="284.4" cy="9.5" r="3.3"/><circle cx="493.0" cy="45.4" r="3.0"/><circle cx="484.7" cy="57.4" r="3.6"/><circle cx="477.5" cy="86.1" r="3.4"/><circle cx="330.5" cy="-2.3" r="3.4"/><circle cx="483.6" cy="7.4" r="3.9"/><circle cx="499.1" cy="38.9" r="3.0"/><circle cx="486.0" cy="85.8" r="3.1"/><circle cx="494.9" cy="9.0" r="3.0"/><circle cx="476.9" cy="115.1" r="3.6"/><circle cx="482.4" cy="152.7" r="3.0"/><circle cx="476.9" cy="148.5" r="2.9"/><circle cx="440.4" cy="89.9" r="3.0"/><circle cx="465.8" cy="171.8" r="3.4"/><circle cx="488.3" cy="9.8" r="3.7"/><circle cx="492.9" cy="37.7" r="3.3"/><circle cx="470.8" cy="166.5" r="3.1"/><circle cx="489.4" cy="131.9" r="3.5"/><circle cx="492.5" cy="85.8" r="3.8"/><circle cx="488.2" cy="53.2" r="3.8"/><circle cx="495.5" cy="-0.6" r="3.3"/><circle cx="486.9" cy="41.7" r="2.9"/><circle cx="481.5" cy="161.2" r="2.9"/><circle cx="499.8" cy="7.0" r="3.0"/><circle cx="484.2" cy="2.2" r="3.2"/><circle cx="477.1" cy="167.0" r="3.3"/><circle cx="486.7" cy="103.2" r="3.6"/><circle cx="482.3" cy="166.9" r="3.3"/><circle cx="478.6" cy="96.4" r="3.4"/><circle cx="491.9" cy="118.3" r="3.3"/><circle cx="492.4" cy="4.0" r="3.4"/><circle cx="497.5" cy="13.1" r="3.1"/><circle cx="485.7" cy="74.2" r="3.3"/><circle cx="485.3" cy="147.4" r="3.4"/><circle cx="488.5" cy="29.6" r="3.7"/><circle cx="497.5" cy="79.5" r="2.9"/><circle cx="484.8" cy="92.1" r="3.9"/><circle cx="470.7" cy="172.6" r="3.3"/><circle cx="472.3" cy="151.6" r="3.2"/><circle cx="499.9" cy="57.0" r="2.9"/><circle cx="477.0" cy="172.8" r="3.1"/><circle cx="502.7" cy="18.3" r="3.7"/><circle cx="493.3" cy="70.4" r="3.8"/><circle cx="489.6" cy="60.1" r="3.7"/><circle cx="488.4" cy="165.0" r="3.5"/><circle cx="483.9" cy="50.4" r="3.5"/><circle cx="349.6" cy="-2.8" r="3.6"/><circle cx="494.2" cy="152.1" r="3.8"/><circle cx="502.5" cy="69.9" r="3.7"/><circle cx="496.4" cy="164.3" r="3.7"/><circle cx="498.2" cy="45.4" r="3.3"/><circle cx="492.1" cy="102.9" r="3.0"/><circle cx="491.4" cy="172.1" r="3.6"/><circle cx="490.0" cy="143.9" r="3.0"/><circle cx="497.0" cy="159.2" r="3.1"/><circle cx="502.5" cy="94.6" r="3.4"/><circle cx="500.6" cy="108.0" r="3.3"/><circle cx="502.0" cy="122.4" r="3.1"/><circle cx="484.7" cy="172.4" r="3.1"/><circle cx="500.2" cy="168.6" r="3.7"/><circle cx="501.7" cy="82.1" r="3.5"/><circle cx="489.3" cy="151.9" r="3.9"/><circle cx="498.1" cy="87.2" r="3.6"/><circle cx="488.6" cy="48.3" r="3.5"/><circle cx="495.3" cy="146.6" r="3.8"/><circle cx="502.4" cy="139.5" r="3.4"/><circle cx="501.9" cy="163.7" r="3.7"/><circle cx="502.6" cy="148.3" r="3.2"/></g>
<g fill="url(#s1b)"><circle cx="383.1" cy="95.5" r="3.4"/><circle cx="386.0" cy="102.3" r="3.4"/><circle cx="380.7" cy="104.2" r="3.1"/><circle cx="377.4" cy="91.7" r="3.5"/><circle cx="383.3" cy="74.4" r="3.6"/><circle cx="388.9" cy="74.5" r="3.4"/><circle cx="389.1" cy="85.9" r="3.4"/><circle cx="393.9" cy="80.7" r="3.7"/><circle cx="371.7" cy="112.2" r="3.0"/><circle cx="386.1" cy="117.0" r="3.9"/><circle cx="361.2" cy="79.8" r="3.1"/><circle cx="398.3" cy="68.3" r="3.0"/><circle cx="367.9" cy="64.0" r="3.8"/><circle cx="381.2" cy="63.4" r="3.0"/><circle cx="384.6" cy="122.2" r="3.1"/><circle cx="411.5" cy="72.3" r="3.8"/><circle cx="350.6" cy="96.9" r="3.1"/><circle cx="394.0" cy="63.9" r="3.1"/><circle cx="402.9" cy="77.8" r="3.9"/><circle cx="379.3" cy="126.0" r="3.6"/><circle cx="415.9" cy="54.9" r="2.9"/><circle cx="403.0" cy="87.6" r="3.4"/><circle cx="413.7" cy="80.7" r="3.0"/><circle cx="403.0" cy="102.8" r="3.6"/><circle cx="399.6" cy="106.4" r="3.2"/><circle cx="374.2" cy="121.1" r="3.3"/><circle cx="386.5" cy="127.4" r="3.8"/><circle cx="423.5" cy="77.3" r="3.5"/><circle cx="396.6" cy="55.1" r="3.0"/><circle cx="346.3" cy="92.7" r="3.6"/><circle cx="351.9" cy="105.4" r="3.0"/><circle cx="354.6" cy="60.5" r="2.9"/><circle cx="349.4" cy="56.7" r="3.2"/><circle cx="398.7" cy="117.9" r="3.8"/><circle cx="354.6" cy="109.8" r="3.2"/><circle cx="347.5" cy="113.6" r="3.6"/><circle cx="422.5" cy="84.2" r="3.2"/><circle cx="340.2" cy="107.3" r="3.5"/><circle cx="336.2" cy="66.0" r="3.6"/><circle cx="338.0" cy="102.4" r="3.5"/><circle cx="362.3" cy="60.8" r="3.3"/><circle cx="328.8" cy="72.8" r="3.8"/><circle cx="399.2" cy="40.5" r="3.3"/><circle cx="340.5" cy="59.3" r="3.8"/><circle cx="358.4" cy="127.6" r="3.5"/><circle cx="336.7" cy="55.4" r="3.4"/><circle cx="424.1" cy="90.5" r="3.5"/><circle cx="347.5" cy="51.7" r="3.2"/><circle cx="407.6" cy="90.3" r="3.4"/><circle cx="360.6" cy="109.0" r="3.7"/><circle cx="346.8" cy="108.7" r="3.1"/><circle cx="417.0" cy="89.5" r="3.2"/><circle cx="425.6" cy="68.3" r="3.5"/><circle cx="399.3" cy="50.2" r="3.8"/><circle cx="367.1" cy="50.3" r="3.9"/><circle cx="332.3" cy="100.4" r="3.4"/><circle cx="342.1" cy="95.7" r="3.9"/><circle cx="359.0" cy="52.6" r="3.1"/><circle cx="347.0" cy="130.0" r="3.3"/><circle cx="436.4" cy="86.3" r="3.0"/><circle cx="431.7" cy="41.1" r="3.0"/><circle cx="373.2" cy="49.0" r="3.1"/><circle cx="380.1" cy="49.9" r="3.5"/><circle cx="330.1" cy="89.2" r="3.8"/><circle cx="342.6" cy="50.7" r="3.1"/><circle cx="437.7" cy="79.4" r="3.3"/><circle cx="331.5" cy="113.7" r="3.4"/><circle cx="324.5" cy="81.6" r="3.4"/><circle cx="410.5" cy="139.1" r="3.5"/><circle cx="326.9" cy="63.3" r="3.4"/><circle cx="397.8" cy="33.7" r="3.5"/><circle cx="373.7" cy="148.6" r="3.6"/><circle cx="413.0" cy="147.9" r="3.6"/><circle cx="334.3" cy="48.0" r="3.5"/><circle cx="367.9" cy="138.6" r="3.6"/><circle cx="328.5" cy="50.2" r="3.9"/><circle cx="417.1" cy="49.8" r="3.6"/><circle cx="426.5" cy="37.1" r="3.5"/><circle cx="326.1" cy="121.8" r="3.5"/><circle cx="433.0" cy="32.8" r="3.9"/><circle cx="389.4" cy="33.7" r="3.9"/><circle cx="348.2" cy="41.8" r="3.5"/><circle cx="382.8" cy="145.8" r="3.4"/><circle cx="344.3" cy="135.8" r="3.6"/><circle cx="320.7" cy="93.5" r="3.2"/><circle cx="428.3" cy="31.1" r="3.0"/><circle cx="371.1" cy="43.1" r="3.3"/><circle cx="357.9" cy="152.0" r="3.7"/><circle cx="421.6" cy="146.3" r="3.7"/><circle cx="405.9" cy="142.9" r="3.6"/><circle cx="400.5" cy="146.4" r="3.5"/><circle cx="449.2" cy="51.7" r="3.0"/><circle cx="323.8" cy="115.7" r="3.5"/><circle cx="403.8" cy="150.6" r="3.7"/><circle cx="322.6" cy="59.5" r="3.2"/><circle cx="371.2" cy="154.9" r="3.1"/><circle cx="364.8" cy="146.9" r="3.6"/><circle cx="404.9" cy="25.0" r="3.3"/><circle cx="412.1" cy="37.2" r="3.6"/><circle cx="308.7" cy="84.9" r="3.1"/><circle cx="402.7" cy="18.3" r="3.7"/><circle cx="432.8" cy="99.5" r="3.7"/><circle cx="334.1" cy="42.0" r="3.1"/><circle cx="393.7" cy="157.2" r="2.9"/><circle cx="319.4" cy="67.2" r="3.4"/><circle cx="326.2" cy="103.2" r="3.9"/><circle cx="442.9" cy="81.8" r="3.4"/><circle cx="357.1" cy="147.0" r="3.0"/><circle cx="424.1" cy="114.3" r="3.0"/><circle cx="309.5" cy="90.4" r="3.1"/><circle cx="321.9" cy="107.6" r="3.4"/><circle cx="433.3" cy="46.5" r="3.9"/><circle cx="445.4" cy="91.9" r="3.4"/><circle cx="352.1" cy="153.3" r="3.6"/><circle cx="444.2" cy="44.3" r="3.7"/><circle cx="379.8" cy="27.3" r="3.9"/><circle cx="312.3" cy="111.6" r="3.4"/><circle cx="427.2" cy="138.4" r="3.0"/><circle cx="438.3" cy="108.5" r="3.1"/><circle cx="377.8" cy="34.0" r="3.1"/><circle cx="444.0" cy="20.9" r="3.2"/><circle cx="305.4" cy="93.3" r="3.4"/><circle cx="438.6" cy="100.6" r="3.3"/><circle cx="340.2" cy="151.4" r="3.6"/><circle cx="360.3" cy="157.3" r="3.8"/><circle cx="308.3" cy="107.0" r="3.2"/><circle cx="447.0" cy="37.5" r="3.0"/><circle cx="320.7" cy="47.1" r="3.9"/><circle cx="384.9" cy="153.9" r="3.4"/><circle cx="407.5" cy="164.7" r="3.4"/><circle cx="430.7" cy="144.8" r="3.3"/><circle cx="433.4" cy="111.2" r="3.7"/><circle cx="446.6" cy="116.0" r="3.3"/><circle cx="411.6" cy="161.6" r="3.3"/><circle cx="345.4" cy="155.0" r="3.9"/><circle cx="298.2" cy="102.9" r="3.6"/><circle cx="433.4" cy="18.5" r="3.7"/><circle cx="338.9" cy="34.7" r="3.4"/><circle cx="331.8" cy="36.7" r="3.3"/><circle cx="300.6" cy="116.2" r="3.9"/><circle cx="429.5" cy="125.1" r="3.6"/><circle cx="427.8" cy="24.0" r="3.2"/><circle cx="413.9" cy="169.4" r="3.4"/><circle cx="436.7" cy="123.1" r="3.7"/><circle cx="437.2" cy="21.8" r="3.1"/><circle cx="328.0" cy="45.1" r="3.8"/><circle cx="419.0" cy="16.0" r="3.2"/><circle cx="305.1" cy="76.2" r="3.0"/><circle cx="422.9" cy="151.7" r="3.9"/><circle cx="315.3" cy="53.9" r="3.5"/><circle cx="452.0" cy="75.2" r="3.4"/><circle cx="303.9" cy="70.7" r="3.7"/><circle cx="307.8" cy="98.2" r="3.1"/><circle cx="450.0" cy="105.3" r="3.6"/><circle cx="329.4" cy="125.5" r="3.3"/><circle cx="307.8" cy="42.0" r="3.9"/><circle cx="348.2" cy="161.0" r="3.5"/><circle cx="325.7" cy="36.3" r="3.7"/><circle cx="455.5" cy="93.4" r="3.4"/><circle cx="372.4" cy="14.0" r="3.6"/><circle cx="451.1" cy="69.6" r="2.9"/><circle cx="304.2" cy="129.0" r="3.1"/><circle cx="353.1" cy="17.7" r="3.0"/><circle cx="322.3" cy="147.0" r="3.0"/><circle cx="292.9" cy="85.2" r="3.1"/><circle cx="451.0" cy="58.8" r="3.6"/><circle cx="439.3" cy="12.8" r="3.3"/><circle cx="389.9" cy="5.0" r="3.8"/><circle cx="303.9" cy="64.7" r="3.8"/><circle cx="298.7" cy="57.1" r="3.2"/><circle cx="428.2" cy="154.1" r="3.3"/><circle cx="442.1" cy="135.7" r="3.2"/><circle cx="435.2" cy="7.0" r="3.4"/><circle cx="436.9" cy="147.7" r="3.5"/><circle cx="455.9" cy="78.4" r="3.3"/><circle cx="440.3" cy="6.3" r="3.7"/><circle cx="462.5" cy="38.9" r="3.6"/><circle cx="463.0" cy="19.0" r="3.3"/><circle cx="448.5" cy="83.5" r="3.7"/><circle cx="442.4" cy="120.6" r="3.1"/><circle cx="462.0" cy="84.2" r="3.5"/><circle cx="319.2" cy="31.1" r="3.2"/><circle cx="425.9" cy="2.2" r="3.5"/><circle cx="294.8" cy="76.8" r="3.5"/><circle cx="322.1" cy="136.6" r="3.2"/><circle cx="450.1" cy="144.9" r="3.1"/><circle cx="379.6" cy="39.4" r="3.7"/><circle cx="292.4" cy="63.9" r="3.4"/><circle cx="420.7" cy="170.5" r="3.4"/><circle cx="296.4" cy="120.4" r="3.7"/><circle cx="326.2" cy="141.0" r="3.9"/><circle cx="432.5" cy="150.1" r="3.2"/><circle cx="427.2" cy="148.8" r="3.8"/><circle cx="332.0" cy="21.5" r="3.3"/><circle cx="320.2" cy="37.3" r="3.1"/><circle cx="411.2" cy="-2.6" r="3.9"/><circle cx="307.3" cy="48.2" r="3.7"/><circle cx="385.9" cy="-0.6" r="3.2"/><circle cx="420.7" cy="-0.8" r="3.6"/><circle cx="298.1" cy="136.0" r="3.2"/><circle cx="293.4" cy="47.6" r="2.9"/><circle cx="327.3" cy="15.8" r="3.1"/><circle cx="466.4" cy="51.6" r="3.1"/><circle cx="288.2" cy="74.4" r="3.0"/><circle cx="469.4" cy="101.2" r="3.6"/><circle cx="454.1" cy="5.3" r="3.8"/><circle cx="441.8" cy="149.6" r="3.2"/><circle cx="316.9" cy="147.2" r="3.3"/><circle cx="458.3" cy="88.6" r="3.9"/><circle cx="291.6" cy="125.1" r="3.5"/><circle cx="436.8" cy="164.1" r="3.0"/><circle cx="452.5" cy="124.6" r="2.9"/><circle cx="464.0" cy="4.2" r="3.4"/><circle cx="320.3" cy="153.0" r="3.4"/><circle cx="284.9" cy="125.6" r="3.2"/><circle cx="351.8" cy="12.9" r="3.6"/><circle cx="354.4" cy="6.8" r="3.1"/><circle cx="359.4" cy="173.0" r="3.4"/><circle cx="345.5" cy="-0.1" r="3.7"/><circle cx="299.6" cy="37.5" r="3.0"/><circle cx="466.2" cy="-0.7" r="3.1"/><circle cx="285.9" cy="66.3" r="3.2"/><circle cx="448.8" cy="9.5" r="3.6"/><circle cx="470.3" cy="9.6" r="2.9"/><circle cx="450.5" cy="160.1" r="3.2"/><circle cx="470.2" cy="35.9" r="3.5"/><circle cx="294.3" cy="29.8" r="3.6"/><circle cx="360.9" cy="0.4" r="2.9"/><circle cx="297.2" cy="16.0" r="3.6"/><circle cx="465.5" cy="114.4" r="3.3"/><circle cx="287.0" cy="80.1" r="3.2"/><circle cx="302.1" cy="144.4" r="3.7"/><circle cx="468.8" cy="19.4" r="3.7"/><circle cx="426.3" cy="171.5" r="3.3"/><circle cx="471.6" cy="-1.5" r="3.6"/><circle cx="462.5" cy="78.4" r="2.9"/><circle cx="442.8" cy="163.9" r="3.2"/><circle cx="459.7" cy="147.5" r="3.2"/><circle cx="475.7" cy="30.9" r="3.8"/><circle cx="468.3" cy="58.5" r="3.4"/><circle cx="298.1" cy="155.3" r="3.5"/><circle cx="296.3" cy="20.9" r="3.5"/><circle cx="469.6" cy="84.9" r="3.7"/><circle cx="468.0" cy="138.2" r="3.7"/><circle cx="288.8" cy="35.5" r="3.8"/><circle cx="312.4" cy="-2.3" r="3.4"/><circle cx="364.3" cy="21.9" r="3.2"/><circle cx="466.9" cy="95.6" r="3.0"/><circle cx="474.2" cy="40.0" r="3.1"/><circle cx="474.2" cy="67.0" r="3.8"/><circle cx="475.5" cy="137.1" r="3.1"/><circle cx="479.3" cy="35.2" r="3.8"/><circle cx="295.8" cy="162.5" r="3.1"/><circle cx="290.0" cy="16.9" r="3.5"/><circle cx="483.1" cy="98.3" r="3.8"/><circle cx="481.6" cy="67.7" r="3.9"/><circle cx="292.7" cy="170.7" r="3.0"/><circle cx="479.2" cy="62.6" r="3.2"/><circle cx="468.3" cy="155.9" r="3.1"/><circle cx="484.7" cy="117.4" r="3.6"/><circle cx="470.8" cy="126.5" r="3.2"/><circle cx="317.5" cy="9.6" r="3.5"/><circle cx="284.1" cy="131.0" r="3.3"/><circle cx="476.1" cy="2.4" r="2.9"/><circle cx="472.4" cy="80.6" r="3.6"/><circle cx="288.8" cy="157.2" r="3.7"/><circle cx="287.9" cy="-1.7" r="3.3"/><circle cx="484.8" cy="79.5" r="3.1"/><circle cx="460.5" cy="172.7" r="3.5"/><circle cx="467.1" cy="80.4" r="3.6"/><circle cx="492.6" cy="76.4" r="3.4"/><circle cx="497.9" cy="19.7" r="3.0"/><circle cx="481.0" cy="135.7" r="3.2"/><circle cx="479.6" cy="80.1" r="3.0"/><circle cx="475.8" cy="161.8" r="3.9"/><circle cx="495.1" cy="54.1" r="3.3"/><circle cx="300.4" cy="11.8" r="3.6"/><circle cx="502.0" cy="29.5" r="3.0"/><circle cx="292.9" cy="151.7" r="3.9"/><circle cx="284.2" cy="90.4" r="3.0"/><circle cx="500.8" cy="75.3" r="3.3"/><circle cx="486.4" cy="139.2" r="3.5"/><circle cx="501.6" cy="-2.6" r="3.4"/><circle cx="496.8" cy="30.9" r="3.2"/><circle cx="498.2" cy="63.9" r="3.7"/><circle cx="491.5" cy="125.3" r="2.9"/><circle cx="489.1" cy="98.8" r="2.9"/><circle cx="468.9" cy="161.9" r="3.8"/><circle cx="492.9" cy="108.9" r="3.6"/><circle cx="499.6" cy="133.3" r="3.4"/><circle cx="495.9" cy="121.2" r="3.3"/><circle cx="501.0" cy="154.1" r="3.0"/><circle cx="475.0" cy="45.0" r="3.1"/><circle cx="495.4" cy="138.4" r="3.5"/><circle cx="500.0" cy="144.1" r="3.3"/><circle cx="494.5" cy="113.8" r="3.2"/><circle cx="502.5" cy="113.1" r="3.3"/><circle cx="494.2" cy="130.5" r="3.3"/><circle cx="494.9" cy="59.2" r="2.9"/><circle cx="496.9" cy="172.5" r="3.5"/><circle cx="480.4" cy="124.8" r="3.9"/></g>
<g fill="url(#s1c)"><circle cx="383.1" cy="86.3" r="3.0"/><circle cx="369.3" cy="91.7" r="3.9"/><circle cx="379.4" cy="99.4" r="3.3"/><circle cx="392.6" cy="106.5" r="3.9"/><circle cx="389.1" cy="68.7" r="3.9"/><circle cx="388.0" cy="112.0" r="3.9"/><circle cx="405.1" cy="73.3" r="3.2"/><circle cx="397.9" cy="60.4" r="3.0"/><circle cx="360.4" cy="114.7" r="3.5"/><circle cx="373.2" cy="78.6" r="3.8"/><circle cx="411.1" cy="66.7" r="3.6"/><circle cx="349.2" cy="71.9" r="3.1"/><circle cx="386.8" cy="63.0" r="2.9"/><circle cx="377.4" cy="108.9" r="3.2"/><circle cx="348.6" cy="78.7" r="3.5"/><circle cx="355.7" cy="85.0" r="3.3"/><circle cx="408.1" cy="58.9" r="2.9"/><circle cx="364.3" cy="103.2" r="3.6"/><circle cx="417.0" cy="76.3" r="3.2"/><circle cx="355.0" cy="71.4" r="3.6"/><circle cx="402.0" cy="55.1" r="3.7"/><circle cx="357.4" cy="104.8" r="3.8"/><circle cx="344.2" cy="70.6" r="3.9"/><circle cx="342.3" cy="65.8" r="3.3"/><circle cx="391.6" cy="131.2" r="3.5"/><circle cx="355.2" cy="98.7" r="3.3"/><circle cx="396.4" cy="129.6" r="3.7"/><circle cx="372.2" cy="128.0" r="3.7"/><circle cx="343.2" cy="102.6" r="3.6"/><circle cx="393.7" cy="70.9" r="3.2"/><circle cx="334.7" cy="93.8" r="3.7"/><circle cx="420.6" cy="70.9" r="3.5"/><circle cx="367.4" cy="126.3" r="3.6"/><circle cx="341.4" cy="114.0" r="3.1"/><circle cx="358.4" cy="64.6" r="3.9"/><circle cx="422.5" cy="64.2" r="3.2"/><circle cx="333.4" cy="79.2" r="3.8"/><circle cx="411.6" cy="46.6" r="3.1"/><circle cx="412.7" cy="105.7" r="3.3"/><circle cx="336.2" cy="84.7" r="3.9"/><circle cx="335.2" cy="119.1" r="3.7"/><circle cx="432.7" cy="81.6" r="3.6"/><circle cx="415.9" cy="69.3" r="3.2"/><circle cx="407.2" cy="51.3" r="3.1"/><circle cx="427.4" cy="81.4" r="3.6"/><circle cx="437.7" cy="50.5" r="3.7"/><circle cx="418.7" cy="114.6" r="3.0"/><circle cx="326.3" cy="55.2" r="3.6"/><circle cx="430.6" cy="95.0" r="3.8"/><circle cx="342.1" cy="42.2" r="3.6"/><circle cx="408.3" cy="41.3" r="3.9"/><circle cx="356.9" cy="137.0" r="3.2"/><circle cx="437.0" cy="60.3" r="3.8"/><circle cx="440.1" cy="66.0" r="3.1"/><circle cx="385.0" cy="40.5" r="3.1"/><circle cx="419.8" cy="119.5" r="2.9"/><circle cx="408.0" cy="147.4" r="3.3"/><circle cx="368.6" cy="121.5" r="3.9"/><circle cx="441.6" cy="75.3" r="3.0"/><circle cx="338.2" cy="132.7" r="3.4"/><circle cx="355.1" cy="45.6" r="3.9"/><circle cx="371.3" cy="143.2" r="3.9"/><circle cx="444.5" cy="69.8" r="3.0"/><circle cx="330.8" cy="68.3" r="3.1"/><circle cx="324.9" cy="97.7" r="3.8"/><circle cx="421.3" cy="36.7" r="3.6"/><circle cx="423.6" cy="124.3" r="3.6"/><circle cx="312.9" cy="58.6" r="3.7"/><circle cx="427.7" cy="108.3" r="3.0"/><circle cx="377.9" cy="161.0" r="3.8"/><circle cx="432.6" cy="105.3" r="3.8"/><circle cx="346.9" cy="46.7" r="3.6"/><circle cx="395.3" cy="13.8" r="3.8"/><circle cx="317.6" cy="116.2" r="3.7"/><circle cx="312.2" cy="66.9" r="3.6"/><circle cx="399.1" cy="140.3" r="3.2"/><circle cx="384.8" cy="159.3" r="3.5"/><circle cx="359.0" cy="33.2" r="3.2"/><circle cx="445.4" cy="108.5" r="3.4"/><circle cx="397.1" cy="163.5" r="2.9"/><circle cx="436.5" cy="130.9" r="3.2"/><circle cx="303.9" cy="102.7" r="3.5"/><circle cx="309.9" cy="78.4" r="2.9"/><circle cx="417.4" cy="84.4" r="3.8"/><circle cx="389.3" cy="162.4" r="3.1"/><circle cx="365.6" cy="157.1" r="3.4"/><circle cx="333.9" cy="153.9" r="2.9"/><circle cx="383.9" cy="164.5" r="3.7"/><circle cx="423.2" cy="10.5" r="3.6"/><circle cx="450.8" cy="23.2" r="3.1"/><circle cx="416.5" cy="160.2" r="3.2"/><circle cx="437.2" cy="142.8" r="3.0"/><circle cx="363.0" cy="38.1" r="3.0"/><circle cx="405.2" cy="170.2" r="3.8"/><circle cx="298.9" cy="79.9" r="3.0"/><circle cx="446.1" cy="32.5" r="3.2"/><circle cx="452.5" cy="86.4" r="3.9"/><circle cx="368.4" cy="19.3" r="3.4"/><circle cx="398.0" cy="170.2" r="3.7"/><circle cx="420.5" cy="164.3" r="3.5"/><circle cx="456.1" cy="16.8" r="3.3"/><circle cx="335.8" cy="148.4" r="3.6"/><circle cx="359.1" cy="20.9" r="3.8"/><circle cx="460.3" cy="95.2" r="3.6"/><circle cx="304.5" cy="37.3" r="3.3"/><circle cx="443.8" cy="49.3" r="3.5"/><circle cx="452.2" cy="130.0" r="3.8"/><circle cx="377.5" cy="171.9" r="2.9"/><circle cx="420.9" cy="21.3" r="3.8"/><circle cx="298.2" cy="65.2" r="3.2"/><circle cx="428.4" cy="6.5" r="3.8"/><circle cx="458.0" cy="42.5" r="3.1"/><circle cx="456.1" cy="37.1" r="3.8"/><circle cx="452.5" cy="64.0" r="3.6"/><circle cx="343.6" cy="141.2" r="3.0"/><circle cx="360.6" cy="42.4" r="3.1"/><circle cx="464.4" cy="31.9" r="3.1"/><circle cx="414.6" cy="8.1" r="3.3"/><circle cx="450.1" cy="112.5" r="3.4"/><circle cx="328.0" cy="155.6" r="3.5"/><circle cx="448.5" cy="121.4" r="3.0"/><circle cx="446.2" cy="152.0" r="3.0"/><circle cx="318.2" cy="22.0" r="2.9"/><circle cx="285.8" cy="85.1" r="3.4"/><circle cx="325.1" cy="28.4" r="3.3"/><circle cx="296.6" cy="41.6" r="3.3"/><circle cx="334.6" cy="0.7" r="3.0"/><circle cx="284.9" cy="105.4" r="3.5"/><circle cx="426.0" cy="-2.8" r="3.6"/><circle cx="452.8" cy="135.3" r="3.6"/><circle cx="353.2" cy="1.7" r="3.5"/><circle cx="323.4" cy="170.2" r="3.2"/><circle cx="337.4" cy="172.6" r="3.5"/><circle cx="460.2" cy="-1.7" r="3.2"/><circle cx="463.0" cy="56.4" r="3.9"/><circle cx="456.7" cy="103.8" r="3.1"/><circle cx="301.5" cy="20.9" r="3.7"/><circle cx="317.1" cy="170.6" r="3.7"/><circle cx="372.9" cy="7.3" r="3.5"/><circle cx="308.8" cy="7.0" r="3.8"/><circle cx="464.4" cy="67.5" r="3.7"/><circle cx="469.7" cy="26.7" r="3.4"/><circle cx="429.1" cy="166.5" r="3.1"/><circle cx="322.7" cy="7.5" r="3.2"/><circle cx="406.8" cy="2.3" r="3.8"/><circle cx="470.1" cy="145.8" r="3.3"/><circle cx="475.6" cy="16.6" r="3.4"/><circle cx="468.6" cy="64.7" r="3.3"/><circle cx="464.6" cy="24.8" r="3.6"/><circle cx="478.8" cy="10.2" r="3.4"/><circle cx="305.2" cy="134.9" r="3.1"/><circle cx="475.3" cy="23.9" r="3.0"/><circle cx="308.2" cy="170.0" r="3.3"/><circle cx="284.7" cy="38.9" r="3.5"/><circle cx="473.2" cy="93.5" r="3.0"/><circle cx="464.8" cy="151.1" r="3.4"/><circle cx="440.2" cy="168.6" r="3.6"/><circle cx="297.4" cy="147.0" r="3.3"/><circle cx="298.9" cy="129.7" r="3.0"/><circle cx="293.1" cy="140.2" r="3.8"/><circle cx="471.0" cy="117.7" r="3.1"/><circle cx="486.3" cy="125.7" r="3.5"/><circle cx="303.5" cy="15.6" r="3.8"/><circle cx="291.5" cy="146.6" r="3.3"/><circle cx="463.2" cy="160.7" r="3.5"/><circle cx="305.3" cy="140.2" r="3.0"/><circle cx="290.4" cy="11.3" r="3.3"/><circle cx="284.2" cy="23.7" r="3.4"/><circle cx="475.5" cy="156.1" r="3.2"/><circle cx="479.8" cy="54.9" r="3.2"/><circle cx="489.6" cy="22.8" r="3.3"/><circle cx="479.9" cy="-0.8" r="3.7"/><circle cx="494.3" cy="26.6" r="3.0"/><circle cx="486.9" cy="67.8" r="3.8"/><circle cx="480.8" cy="143.3" r="3.9"/><circle cx="493.5" cy="16.1" r="3.6"/><circle cx="298.5" cy="141.0" r="3.1"/><circle cx="477.9" cy="74.2" r="3.1"/><circle cx="479.5" cy="41.4" r="2.9"/><circle cx="288.9" cy="162.7" r="3.9"/><circle cx="489.1" cy="0.5" r="3.8"/><circle cx="501.6" cy="50.2" r="3.0"/><circle cx="458.8" cy="163.4" r="3.2"/><circle cx="288.0" cy="168.4" r="3.5"/><circle cx="488.7" cy="158.5" r="3.0"/><circle cx="449.0" cy="172.0" r="3.6"/><circle cx="502.6" cy="12.0" r="3.4"/><circle cx="503.0" cy="43.7" r="2.9"/><circle cx="284.9" cy="17.5" r="3.5"/><circle cx="482.6" cy="130.2" r="3.0"/><circle cx="465.2" cy="166.5" r="3.2"/><circle cx="493.2" cy="63.9" r="3.5"/><circle cx="490.9" cy="92.7" r="3.6"/><circle cx="497.1" cy="101.6" r="3.0"/><circle cx="496.3" cy="93.7" r="3.2"/><circle cx="490.2" cy="80.9" r="3.5"/><circle cx="498.0" cy="127.2" r="3.4"/><circle cx="498.9" cy="117.2" r="3.0"/><circle cx="499.4" cy="25.3" r="3.6"/><circle cx="502.0" cy="100.9" r="3.0"/><circle cx="502.5" cy="89.7" r="3.5"/><circle cx="502.9" cy="127.9" r="3.2"/></g>
</g></g>
<g clip-path="url(#k2)"><g filter="url(#bl)"><rect x="284" y="182" width="219" height="175.5" fill="url(#p2)"/></g></g>
<g clip-path="url(#k3)"><g filter="url(#bl)"><rect x="284" y="373" width="219" height="160" fill="url(#p3)"/></g></g>
<defs><filter id="dsp" x="0" y="0" width="1" height="1"><feTurbulence type="fractalNoise" baseFrequency="0.14" numOctaves="2" seed="5"/><feColorMatrix type="matrix" values="0 0 0 0 0  0 0 0 0 0  0 0 0 0 0  4 0 0 0 -2.1"/></filter><filter id="lsp" x="0" y="0" width="1" height="1"><feTurbulence type="fractalNoise" baseFrequency="0.1" numOctaves="2" seed="9"/><feColorMatrix type="matrix" values="0 0 0 0 1  0 0 0 0 1  0 0 0 0 1  4 0 0 0 -2.2"/></filter><filter id="dsp1" x="0" y="0" width="1" height="1"><feTurbulence type="fractalNoise" baseFrequency="0.06" numOctaves="2" seed="2"/><feColorMatrix type="matrix" values="0 0 0 0 0  0 0 0 0 0  0 0 0 0 0  4 0 0 0 -2.0"/></filter></defs>
<rect x="287" y="0" width="213" height="170" filter="url(#dsp1)" opacity="0.4"/>
<rect x="287" y="0" width="213" height="170" fill="#000" opacity="0.04"/>
<defs><radialGradient id="wo"><stop offset="0" stop-color="#fff" stop-opacity="1"/><stop offset="1" stop-color="#fff" stop-opacity="0"/></radialGradient><radialGradient id="bo"><stop offset="0" stop-color="#000" stop-opacity="1"/><stop offset="1" stop-color="#000" stop-opacity="0"/></radialGradient><clipPath id="c1"><rect x="287" y="0" width="213" height="170"/></clipPath></defs>
<g clip-path="url(#c1)">
<ellipse cx="335" cy="125" rx="60" ry="50" fill="url(#wo)" opacity="0.14"/>
<ellipse cx="320" cy="40" rx="40" ry="40" fill="url(#wo)" opacity="0.08"/>
<ellipse cx="470" cy="40" rx="50" ry="50" fill="url(#bo)" opacity="0.18"/>
<ellipse cx="485" cy="140" rx="35" ry="45" fill="url(#bo)" opacity="0.14"/>
</g>
<rect x="287" y="185" width="213" height="169.5" filter="url(#dsp)" opacity="0.6"/>
<rect x="287" y="185" width="213" height="169.5" filter="url(#lsp)" opacity="0.25"/>
<rect x="287" y="185" width="213" height="169.5" fill="#000" opacity="0.1"/>
<rect x="287" y="376" width="213" height="154" filter="url(#dsp)" opacity="0.6"/>
<rect x="287" y="376" width="213" height="154" filter="url(#lsp)" opacity="0.2"/>
<rect x="287" y="376" width="213" height="154" fill="#000" opacity="0.12"/>
<defs><radialGradient id="dk"><stop offset="0" stop-color="#111" stop-opacity="0.85"/><stop offset="1" stop-color="#111" stop-opacity="0"/></radialGradient><radialGradient id="lt"><stop offset="0" stop-color="#ddd" stop-opacity="0.55"/><stop offset="1" stop-color="#ddd" stop-opacity="0"/></radialGradient><radialGradient id="ball" cx="0.6" cy="0.4" r="0.7" fx="0.68" fy="0.3"><stop offset="0" stop-color="#f4f4f4"/><stop offset="0.22" stop-color="#c4c4c4"/><stop offset="0.6" stop-color="#909090"/><stop offset="1" stop-color="#505050"/></radialGradient><radialGradient id="blob" cx="0.45" cy="0.4" r="0.6"><stop offset="0" stop-color="#d8d8d8"/><stop offset="0.7" stop-color="#b0b0b0"/><stop offset="1" stop-color="#888" stop-opacity="0.3"/></radialGradient></defs>
<g filter="url(#bl)">
<ellipse cx="302" cy="343" rx="16" ry="13" fill="url(#dk)" opacity="0.8"/>
<ellipse cx="324" cy="340" rx="15" ry="15" fill="url(#dk)" opacity="0.5"/>
<ellipse cx="322.4" cy="338.5" rx="11.5" ry="12.5" fill="url(#ball)"/>
<ellipse cx="495" cy="263" rx="7" ry="11" fill="url(#dk)"/>
<ellipse cx="496" cy="262" rx="4" ry="7" fill="#181818" opacity="0.7"/>
<ellipse cx="484" cy="294" rx="20" ry="21" fill="url(#lt)" opacity="0.9"/>
<ellipse cx="457.5" cy="318" rx="3.8" ry="7.5" fill="url(#blob)"/>
<circle cx="494" cy="300.5" r="2.5" fill="url(#blob)"/>
<ellipse cx="303" cy="232" rx="4" ry="10" fill="url(#blob)" opacity="0.65"/>
<ellipse cx="340.7" cy="409.3" rx="5" ry="3.5" fill="url(#blob)"/>
<ellipse cx="474" cy="389.6" rx="3.2" ry="3.2" fill="url(#blob)"/>
<ellipse cx="487.6" cy="496" rx="4" ry="6" fill="url(#blob)"/>
</g>
<rect x="287" y="170" width="213" height="15" fill="#0c0c92"/>
<text x="296.5" y="182.8" font-size="9.8" fill="#a8e4f4" textLength="19.8" lengthAdjust="spacingAndGlyphs" font-weight="bold">26 KV</text>
<text x="327.5" y="182.8" font-size="9.8" fill="#a8e4f4" textLength="23.5" lengthAdjust="spacingAndGlyphs" font-weight="bold">120 KX</text>
<text x="361.5" y="182.8" font-size="9.8" fill="#a8e4f4" textLength="24" lengthAdjust="spacingAndGlyphs" font-weight="bold">100 nm</text>
<text x="403.6" y="182.8" font-size="9.8" fill="#a8e4f4" textLength="48.8" lengthAdjust="spacingAndGlyphs" font-weight="bold">KYKY-EM3200</text>
<text x="464" y="182.8" font-size="9.8" fill="#a8e4f4" textLength="28" lengthAdjust="spacingAndGlyphs" font-weight="bold">SN:0696</text>
<rect x="382" y="171.6" width="22.5" height="2.4" fill="#a8e4f4" fill-opacity="0.9"/>
<rect x="384.2" y="172.4" width="0.7" height="0.9" fill="#0c0c92" fill-opacity="0.45"/>
<rect x="386.8" y="172.4" width="0.7" height="0.9" fill="#0c0c92" fill-opacity="0.45"/>
<rect x="389.4" y="172.4" width="0.7" height="0.9" fill="#0c0c92" fill-opacity="0.45"/>
<rect x="392" y="172.4" width="0.7" height="0.9" fill="#0c0c92" fill-opacity="0.45"/>
<rect x="394.6" y="172.4" width="0.7" height="0.9" fill="#0c0c92" fill-opacity="0.45"/>
<rect x="397.2" y="172.4" width="0.7" height="0.9" fill="#0c0c92" fill-opacity="0.45"/>
<rect x="399.8" y="172.4" width="0.7" height="0.9" fill="#0c0c92" fill-opacity="0.45"/>
<rect x="402.4" y="172.4" width="0.7" height="0.9" fill="#0c0c92" fill-opacity="0.45"/>
<rect x="287" y="354.5" width="213" height="16.8" fill="#121212"/>
<text x="296.5" y="369.1" font-size="9.8" fill="#f0f0f0" textLength="19.8" lengthAdjust="spacingAndGlyphs" font-weight="bold">26 KV</text>
<text x="327.5" y="369.1" font-size="9.8" fill="#f0f0f0" textLength="23.5" lengthAdjust="spacingAndGlyphs" font-weight="bold">120 KX</text>
<text x="361.5" y="369.1" font-size="9.8" fill="#f0f0f0" textLength="24" lengthAdjust="spacingAndGlyphs" font-weight="bold">100 nm</text>
<text x="403.6" y="369.1" font-size="9.8" fill="#f0f0f0" textLength="48.8" lengthAdjust="spacingAndGlyphs" font-weight="bold">KYKY-EM3200</text>
<text x="464" y="369.1" font-size="9.8" fill="#f0f0f0" textLength="28" lengthAdjust="spacingAndGlyphs" font-weight="bold">SN:0696</text>
<rect x="382" y="356.4" width="22.5" height="2.4" fill="#f0f0f0" fill-opacity="0.9"/>
<rect x="384.2" y="357.2" width="0.7" height="0.9" fill="#121212" fill-opacity="0.45"/>
<rect x="386.8" y="357.2" width="0.7" height="0.9" fill="#121212" fill-opacity="0.45"/>
<rect x="389.4" y="357.2" width="0.7" height="0.9" fill="#121212" fill-opacity="0.45"/>
<rect x="392" y="357.2" width="0.7" height="0.9" fill="#121212" fill-opacity="0.45"/>
<rect x="394.6" y="357.2" width="0.7" height="0.9" fill="#121212" fill-opacity="0.45"/>
<rect x="397.2" y="357.2" width="0.7" height="0.9" fill="#121212" fill-opacity="0.45"/>
<rect x="399.8" y="357.2" width="0.7" height="0.9" fill="#121212" fill-opacity="0.45"/>
<rect x="402.4" y="357.2" width="0.7" height="0.9" fill="#121212" fill-opacity="0.45"/>
<rect x="287" y="529.6" width="213" height="13.4" fill="#121212"/>
<text x="296.5" y="540.8" font-size="9.8" fill="#f0f0f0" textLength="19.8" lengthAdjust="spacingAndGlyphs" font-weight="bold">26 KV</text>
<text x="327.5" y="540.8" font-size="9.8" fill="#f0f0f0" textLength="23.5" lengthAdjust="spacingAndGlyphs" font-weight="bold">120 KX</text>
<text x="361.5" y="540.8" font-size="9.8" fill="#f0f0f0" textLength="24" lengthAdjust="spacingAndGlyphs" font-weight="bold">100 nm</text>
<text x="403.6" y="540.8" font-size="9.8" fill="#f0f0f0" textLength="48.8" lengthAdjust="spacingAndGlyphs" font-weight="bold">KYKY-EM3200</text>
<text x="464" y="540.8" font-size="9.8" fill="#f0f0f0" textLength="28" lengthAdjust="spacingAndGlyphs" font-weight="bold">SN:0696</text>
<rect x="382" y="530.8" width="22.5" height="2.4" fill="#f0f0f0" fill-opacity="0.9"/>
<rect x="384.2" y="531.6" width="0.7" height="0.9" fill="#121212" fill-opacity="0.45"/>
<rect x="386.8" y="531.6" width="0.7" height="0.9" fill="#121212" fill-opacity="0.45"/>
<rect x="389.4" y="531.6" width="0.7" height="0.9" fill="#121212" fill-opacity="0.45"/>
<rect x="392" y="531.6" width="0.7" height="0.9" fill="#121212" fill-opacity="0.45"/>
<rect x="394.6" y="531.6" width="0.7" height="0.9" fill="#121212" fill-opacity="0.45"/>
<rect x="397.2" y="531.6" width="0.7" height="0.9" fill="#121212" fill-opacity="0.45"/>
<rect x="399.8" y="531.6" width="0.7" height="0.9" fill="#121212" fill-opacity="0.45"/>
<rect x="402.4" y="531.6" width="0.7" height="0.9" fill="#121212" fill-opacity="0.45"/>
<rect x="287" y="529.6" width="2" height="13.4" fill="#1a1aa0"/>
<defs><filter id="soft" x="-2%" y="-2%" width="104%" height="104%"><feGaussianBlur stdDeviation="0.3"/></filter></defs>
<g filter="url(#soft)">
<rect x="0" y="12" width="284" height="154" fill="#000"/>
<rect x="3" y="15" width="278" height="148" fill="#8e8e8e"/>
<rect x="4" y="16" width="276" height="146" fill="#3a3a3a"/>
<rect x="5" y="17" width="274" height="143" fill="#d6d6d6"/>
<rect x="6" y="18" width="273" height="142" fill="#fff"/>
<line x1="30" y1="97.5" x2="268" y2="97.5" stroke="#8a8a8a" stroke-width="1.5" stroke-dasharray="1.5 1.4"/>
<line x1="30" y1="78.5" x2="268" y2="78.5" stroke="#8a8a8a" stroke-width="1.5" stroke-dasharray="1.5 1.4"/>
<line x1="30" y1="59.5" x2="268" y2="59.5" stroke="#8a8a8a" stroke-width="1.5" stroke-dasharray="1.5 1.4"/>
<line x1="30" y1="40.5" x2="268" y2="40.5" stroke="#8a8a8a" stroke-width="1.5" stroke-dasharray="1.5 1.4"/>
<line x1="68.5" y1="42" x2="68.5" y2="117" stroke="#8a8a8a" stroke-width="1.5" stroke-dasharray="1.5 1.4"/>
<line x1="121.5" y1="42" x2="121.5" y2="117" stroke="#8a8a8a" stroke-width="1.5" stroke-dasharray="1.5 1.4"/>
<line x1="175.5" y1="42" x2="175.5" y2="117" stroke="#8a8a8a" stroke-width="1.5" stroke-dasharray="1.5 1.4"/>
<line x1="229.5" y1="42" x2="229.5" y2="117" stroke="#8a8a8a" stroke-width="1.5" stroke-dasharray="1.5 1.4"/>
<rect x="216" y="42" width="45.4" height="51.6" rx="2" fill="#fff"/>
<path d="M260.9,43 V91.1 q0,2 -2,2 H217" fill="none" stroke="#d4d4d4" stroke-width="1"/>
<polyline points="243,42.4 241.9,45.7 237.5,48.45 236.95,52.3" fill="none" stroke="#7c7c7c" stroke-width="0.75" stroke-linejoin="round" stroke-linecap="round"/>
<polyline points="241.9,45.7 245.2,49 247.95,47.35" fill="none" stroke="#7c7c7c" stroke-width="0.75" stroke-linejoin="round" stroke-linecap="round"/>
<polyline points="245.2,49 245.75,52.85" fill="none" stroke="#7c7c7c" stroke-width="0.75" stroke-linejoin="round" stroke-linecap="round"/>
<polyline points="244.32,49.44 246.96,47.9" fill="none" stroke="#7c7c7c" stroke-width="0.75" stroke-linejoin="round" stroke-linecap="round"/>
<circle cx="236.95" cy="52.3" r="0.9" fill="#333"/>
<polyline points="228.7,49 228.7,53.4 233.65,52.3 234.75,49.55" fill="none" stroke="#7c7c7c" stroke-width="0.75" stroke-linejoin="round" stroke-linecap="round"/>
<polyline points="233.65,52.3 234.2,56.15" fill="none" stroke="#7c7c7c" stroke-width="0.75" stroke-linejoin="round" stroke-linecap="round"/>
<polyline points="228.7,53.4 227.6,57.25 228.15,62.75" fill="none" stroke="#7c7c7c" stroke-width="0.75" stroke-linejoin="round" stroke-linecap="round"/>
<polyline points="232.55,51.97 233.43,49.33" fill="none" stroke="#7c7c7c" stroke-width="0.75" stroke-linejoin="round" stroke-linecap="round"/>
<circle cx="228.15" cy="62.75" r="0.9" fill="#333"/>
<polyline points="230.35,60.55 232,61.65 238.05,58.9 243,57.8" fill="none" stroke="#7c7c7c" stroke-width="0.75" stroke-linejoin="round" stroke-linecap="round"/>
<polyline points="232,61.65 232,66.6 230.35,69.35" fill="none" stroke="#7c7c7c" stroke-width="0.75" stroke-linejoin="round" stroke-linecap="round"/>
<polyline points="232,66.6 236.4,69.9 239.7,69.9" fill="none" stroke="#7c7c7c" stroke-width="0.75" stroke-linejoin="round" stroke-linecap="round"/>
<circle cx="239.7" cy="69.9" r="0.9" fill="#333"/>
<polyline points="238.05,58.9 240.8,60 240.8,66.05 243,68.25 247.95,66.38" fill="none" stroke="#7c7c7c" stroke-width="0.75" stroke-linejoin="round" stroke-linecap="round"/>
<polyline points="247.95,66.38 249.05,63.3 252.35,57.25" fill="none" stroke="#7c7c7c" stroke-width="0.75" stroke-linejoin="round" stroke-linecap="round"/>
<polyline points="249.05,63.3 247.4,60.55" fill="none" stroke="#7c7c7c" stroke-width="0.75" stroke-linejoin="round" stroke-linecap="round"/>
<polyline points="247.95,66.38 251.8,64.4 255.1,66.05 258.4,61.65" fill="none" stroke="#7c7c7c" stroke-width="0.75" stroke-linejoin="round" stroke-linecap="round"/>
<circle cx="247.95" cy="66.38" r="0.9" fill="#333"/>
<circle cx="258.4" cy="61.65" r="0.9" fill="#333"/>
<polyline points="218.25,62.75 219.9,65.5 218.8,69.9 221.55,74.85 224.3,76.5 226.5,75.4" fill="none" stroke="#7c7c7c" stroke-width="0.75" stroke-linejoin="round" stroke-linecap="round"/>
<polyline points="224.3,76.5 227.6,81.45 227.6,83.65" fill="none" stroke="#7c7c7c" stroke-width="0.75" stroke-linejoin="round" stroke-linecap="round"/>
<polyline points="227.6,81.45 233.1,81.45 233.65,75.4" fill="none" stroke="#7c7c7c" stroke-width="0.75" stroke-linejoin="round" stroke-linecap="round"/>
<polyline points="233.1,81.45 236.4,79.8 236.95,85.3 241.9,86.95 244.1,83.65" fill="none" stroke="#7c7c7c" stroke-width="0.75" stroke-linejoin="round" stroke-linecap="round"/>
<polyline points="236.4,85.3 235.85,89.16" fill="none" stroke="#7c7c7c" stroke-width="0.75" stroke-linejoin="round" stroke-linecap="round"/>
<polyline points="220.45,64.95 223.2,62.75 223.75,58.9" fill="none" stroke="#7c7c7c" stroke-width="0.75" stroke-linejoin="round" stroke-linecap="round"/>
<circle cx="221.55" cy="74.85" r="0.9" fill="#333"/>
<circle cx="233.65" cy="75.4" r="0.9" fill="#333"/>
<circle cx="244.1" cy="83.65" r="0.9" fill="#333"/>
<polyline points="243,73.2 245.75,75.4 246.3,79.8 248.5,78.92 253.45,75.95" fill="none" stroke="#7c7c7c" stroke-width="0.75" stroke-linejoin="round" stroke-linecap="round"/>
<polyline points="246.3,79.8 243.55,79.8" fill="none" stroke="#7c7c7c" stroke-width="0.75" stroke-linejoin="round" stroke-linecap="round"/>
<rect x="152.7" y="99.7" width="2.6" height="17.3" fill="#8a8a8a" stroke="#333" stroke-width="0.6"/>
<rect x="155.9" y="56.9" width="2.8" height="60.1" fill="#8a8a8a" stroke="#333" stroke-width="0.6"/>
<rect x="159.3" y="43.3" width="3.4" height="73.7" fill="#8a8a8a" stroke="#333" stroke-width="0.6"/>
<rect x="163.3" y="82.3" width="2.4" height="34.7" fill="#8a8a8a" stroke="#333" stroke-width="0.6"/>
<rect x="166.3" y="111.9" width="3.4" height="5.1" fill="#8a8a8a" stroke="#333" stroke-width="0.6"/>
<rect x="196.3" y="116.3" width="5.4" height="0.7" fill="#8a8a8a" stroke="#333" stroke-width="0.6"/>
<line x1="28.5" y1="40.4" x2="28.5" y2="117" stroke="#555" stroke-width="1.1"/>
<line x1="28.5" y1="117" x2="268" y2="117" stroke="#555" stroke-width="1.5"/>
<line x1="27" y1="116.5" x2="29.7" y2="116.5" stroke="#555" stroke-width="1.2"/>
<line x1="27" y1="107.5" x2="29.7" y2="107.5" stroke="#555" stroke-width="1.2"/>
<line x1="27" y1="97.5" x2="29.7" y2="97.5" stroke="#555" stroke-width="1.2"/>
<line x1="27" y1="88.5" x2="29.7" y2="88.5" stroke="#555" stroke-width="1.2"/>
<line x1="27" y1="78.5" x2="29.7" y2="78.5" stroke="#555" stroke-width="1.2"/>
<line x1="27" y1="69.5" x2="29.7" y2="69.5" stroke="#555" stroke-width="1.2"/>
<line x1="27" y1="59.5" x2="29.7" y2="59.5" stroke="#555" stroke-width="1.2"/>
<line x1="27" y1="49.5" x2="29.7" y2="49.5" stroke="#555" stroke-width="1.2"/>
<line x1="27" y1="40.5" x2="29.7" y2="40.5" stroke="#555" stroke-width="1.2"/>
<rect x="29.7" y="115.6" width="1.4" height="2.8" fill="#555"/>
<rect x="39.17" y="115.6" width="1.4" height="2.8" fill="#555"/>
<rect x="45.89" y="115.6" width="1.4" height="2.8" fill="#555"/>
<rect x="51.1" y="115.6" width="1.4" height="2.8" fill="#555"/>
<rect x="55.36" y="115.6" width="1.4" height="2.8" fill="#555"/>
<rect x="58.97" y="115.6" width="1.4" height="2.8" fill="#555"/>
<rect x="62.09" y="115.6" width="1.4" height="2.8" fill="#555"/>
<rect x="64.84" y="115.6" width="1.4" height="2.8" fill="#555"/>
<rect x="67.3" y="115.6" width="1.4" height="2.8" fill="#555"/>
<rect x="83.5" y="115.6" width="1.4" height="2.8" fill="#555"/>
<rect x="92.97" y="115.6" width="1.4" height="2.8" fill="#555"/>
<rect x="99.69" y="115.6" width="1.4" height="2.8" fill="#555"/>
<rect x="104.9" y="115.6" width="1.4" height="2.8" fill="#555"/>
<rect x="109.16" y="115.6" width="1.4" height="2.8" fill="#555"/>
<rect x="112.77" y="115.6" width="1.4" height="2.8" fill="#555"/>
<rect x="115.89" y="115.6" width="1.4" height="2.8" fill="#555"/>
<rect x="118.64" y="115.6" width="1.4" height="2.8" fill="#555"/>
<rect x="121.1" y="115.6" width="1.4" height="2.8" fill="#555"/>
<rect x="137.3" y="115.6" width="1.4" height="2.8" fill="#555"/>
<rect x="146.77" y="115.6" width="1.4" height="2.8" fill="#555"/>
<rect x="153.49" y="115.6" width="1.4" height="2.8" fill="#555"/>
<rect x="158.7" y="115.6" width="1.4" height="2.8" fill="#555"/>
<rect x="162.96" y="115.6" width="1.4" height="2.8" fill="#555"/>
<rect x="166.57" y="115.6" width="1.4" height="2.8" fill="#555"/>
<rect x="169.69" y="115.6" width="1.4" height="2.8" fill="#555"/>
<rect x="172.44" y="115.6" width="1.4" height="2.8" fill="#555"/>
<rect x="174.9" y="115.6" width="1.4" height="2.8" fill="#555"/>
<rect x="191.1" y="115.6" width="1.4" height="2.8" fill="#555"/>
<rect x="200.57" y="115.6" width="1.4" height="2.8" fill="#555"/>
<rect x="207.29" y="115.6" width="1.4" height="2.8" fill="#555"/>
<rect x="212.5" y="115.6" width="1.4" height="2.8" fill="#555"/>
<rect x="216.76" y="115.6" width="1.4" height="2.8" fill="#555"/>
<rect x="220.37" y="115.6" width="1.4" height="2.8" fill="#555"/>
<rect x="223.49" y="115.6" width="1.4" height="2.8" fill="#555"/>
<rect x="226.24" y="115.6" width="1.4" height="2.8" fill="#555"/>
<rect x="228.7" y="115.6" width="1.4" height="2.8" fill="#555"/>
<rect x="244.9" y="115.6" width="1.4" height="2.8" fill="#555"/>
<rect x="254.37" y="115.6" width="1.4" height="2.8" fill="#555"/>
<rect x="261.09" y="115.6" width="1.4" height="2.8" fill="#555"/>
<rect x="266.3" y="115.6" width="1.4" height="2.8" fill="#555"/>
<text x="26.5" y="119.18" font-size="6.6" fill="#1e1e1e" textLength="2.95" lengthAdjust="spacingAndGlyphs" text-anchor="end" font-weight="bold">0</text>
<text x="26.5" y="100.08" font-size="6.6" fill="#1e1e1e" textLength="6.2" lengthAdjust="spacingAndGlyphs" text-anchor="end" font-weight="bold">10</text>
<text x="26.5" y="80.98" font-size="6.6" fill="#1e1e1e" textLength="6.2" lengthAdjust="spacingAndGlyphs" text-anchor="end" font-weight="bold">20</text>
<text x="26.5" y="61.88" font-size="6.6" fill="#1e1e1e" textLength="6.2" lengthAdjust="spacingAndGlyphs" text-anchor="end" font-weight="bold">30</text>
<text x="26.5" y="42.78" font-size="6.6" fill="#1e1e1e" textLength="6.2" lengthAdjust="spacingAndGlyphs" text-anchor="end" font-weight="bold">40</text>
<text x="68" y="125.68" font-size="6.6" fill="#1e1e1e" textLength="2.95" lengthAdjust="spacingAndGlyphs" text-anchor="middle" font-weight="bold">1</text>
<text x="121.8" y="125.68" font-size="6.6" fill="#1e1e1e" textLength="6.2" lengthAdjust="spacingAndGlyphs" text-anchor="middle" font-weight="bold">10</text>
<text x="175.6" y="125.68" font-size="6.6" fill="#1e1e1e" textLength="9.45" lengthAdjust="spacingAndGlyphs" text-anchor="middle" font-weight="bold">100</text>
<text x="229.4" y="125.68" font-size="6.6" fill="#1e1e1e" textLength="12.7" lengthAdjust="spacingAndGlyphs" text-anchor="middle" font-weight="bold">1000</text>
<text x="135.4" y="134.4" font-size="6.6" fill="#1e1e1e" textLength="25.8" lengthAdjust="spacingAndGlyphs" font-weight="bold">Size (<tspan font-style="italic">r.nm</tspan>)</text>
<text transform="translate(17.18,77.6) rotate(-90)" font-size="6.6" fill="#1e1e1e" text-anchor="middle" textLength="30" lengthAdjust="spacingAndGlyphs" font-weight="bold">Number (%)</text>
<text x="98.7" y="27.2" font-size="6.6" fill="#1a1a1a" textLength="80.5" lengthAdjust="spacingAndGlyphs" font-weight="bold">Statistics Graph (1 measurements)</text>
<rect x="81.5" y="148.8" width="113.5" height="7.5" fill="#fff" stroke="#444" stroke-width="1"/>
<rect x="82" y="149.3" width="7" height="6.5" fill="#8a8a8a"/>
<text x="93.5" y="154.6" font-size="6.6" fill="#1a1a1a" textLength="100.5" lengthAdjust="spacingAndGlyphs" font-weight="bold">Mean with +/-1 Standard Deviation error bar</text>
<rect x="0" y="201" width="284" height="157" fill="#000"/>
<rect x="3" y="204" width="278" height="151" fill="#8e8e8e"/>
<rect x="4" y="205" width="276" height="149" fill="#3a3a3a"/>
<rect x="5" y="206" width="274" height="146" fill="#d6d6d6"/>
<rect x="6" y="207" width="273" height="145" fill="#fff"/>
<line x1="29" y1="280.5" x2="273.6" y2="280.5" stroke="#8a8a8a" stroke-width="1.5" stroke-dasharray="1.5 1.4"/>
<line x1="29" y1="254.5" x2="273.6" y2="254.5" stroke="#8a8a8a" stroke-width="1.5" stroke-dasharray="1.5 1.4"/>
<line x1="29" y1="228.5" x2="273.6" y2="228.5" stroke="#8a8a8a" stroke-width="1.5" stroke-dasharray="1.5 1.4"/>
<line x1="68.5" y1="230" x2="68.5" y2="306.8" stroke="#8a8a8a" stroke-width="1.5" stroke-dasharray="1.5 1.4"/>
<line x1="123.5" y1="230" x2="123.5" y2="306.8" stroke="#8a8a8a" stroke-width="1.5" stroke-dasharray="1.5 1.4"/>
<line x1="178.5" y1="230" x2="178.5" y2="306.8" stroke="#8a8a8a" stroke-width="1.5" stroke-dasharray="1.5 1.4"/>
<line x1="233.5" y1="230" x2="233.5" y2="306.8" stroke="#8a8a8a" stroke-width="1.5" stroke-dasharray="1.5 1.4"/>
<rect x="220.5" y="240" width="40.7" height="41.4" rx="2" fill="#fff"/>
<path d="M260.7,241 V278.9 q0,2 -2,2 H221.5" fill="none" stroke="#d4d4d4" stroke-width="1"/>
<polyline points="225.01,244.72 225.93,247.93 223.63,251.14 223.17,253.43 224.55,255.72" fill="none" stroke="#7c7c7c" stroke-width="0.75" stroke-linejoin="round" stroke-linecap="round"/>
<polyline points="225.93,247.93 230.51,247.47 230.97,245.17" fill="none" stroke="#7c7c7c" stroke-width="0.75" stroke-linejoin="round" stroke-linecap="round"/>
<polyline points="230.51,247.47 230.97,251.14" fill="none" stroke="#7c7c7c" stroke-width="0.75" stroke-linejoin="round" stroke-linecap="round"/>
<polyline points="229.6,247.19 230.06,245.17" fill="none" stroke="#7c7c7c" stroke-width="0.75" stroke-linejoin="round" stroke-linecap="round"/>
<circle cx="224.55" cy="255.72" r="0.9" fill="#333"/>
<polyline points="234.18,250.22 234.64,245.63 238.77,244.26 240.15,241.05" fill="none" stroke="#7c7c7c" stroke-width="0.75" stroke-linejoin="round" stroke-linecap="round"/>
<polyline points="238.77,244.26 243.36,246.55 246.57,245.17" fill="none" stroke="#7c7c7c" stroke-width="0.75" stroke-linejoin="round" stroke-linecap="round"/>
<polyline points="243.36,246.55 242.9,249.76" fill="none" stroke="#7c7c7c" stroke-width="0.75" stroke-linejoin="round" stroke-linecap="round"/>
<polyline points="243.82,245.63 245.93,244.44" fill="none" stroke="#7c7c7c" stroke-width="0.75" stroke-linejoin="round" stroke-linecap="round"/>
<circle cx="234.18" cy="250.22" r="0.9" fill="#333"/>
<polyline points="235.1,255.27 237.85,256.18 241.52,254.81" fill="none" stroke="#7c7c7c" stroke-width="0.75" stroke-linejoin="round" stroke-linecap="round"/>
<polyline points="237.85,256.18 238.31,261.69 236.02,263.06" fill="none" stroke="#7c7c7c" stroke-width="0.75" stroke-linejoin="round" stroke-linecap="round"/>
<polyline points="238.31,261.69 242.44,263.98 246.57,262.15 248.86,262.61 254.37,261.23 257.12,258.02" fill="none" stroke="#7c7c7c" stroke-width="0.75" stroke-linejoin="round" stroke-linecap="round"/>
<polyline points="248.86,262.61 248.4,256.64 245.19,256.18" fill="none" stroke="#7c7c7c" stroke-width="0.75" stroke-linejoin="round" stroke-linecap="round"/>
<polyline points="248.4,256.64 250.7,253.43" fill="none" stroke="#7c7c7c" stroke-width="0.75" stroke-linejoin="round" stroke-linecap="round"/>
<circle cx="246.57" cy="262.15" r="0.9" fill="#333"/>
<circle cx="257.12" cy="258.02" r="0.9" fill="#333"/>
<polyline points="225.47,260.31 227.76,261.23 230.97,260.31" fill="none" stroke="#7c7c7c" stroke-width="0.75" stroke-linejoin="round" stroke-linecap="round"/>
<polyline points="227.76,261.23 227.76,267.19 225.47,267.65" fill="none" stroke="#7c7c7c" stroke-width="0.75" stroke-linejoin="round" stroke-linecap="round"/>
<polyline points="227.76,267.19 231.89,269.03 235.56,267.65" fill="none" stroke="#7c7c7c" stroke-width="0.75" stroke-linejoin="round" stroke-linecap="round"/>
<circle cx="235.56" cy="267.65" r="0.9" fill="#333"/>
<polyline points="241.52,278.2 241.98,274.53 236.94,273.16 238.31,269.49" fill="none" stroke="#7c7c7c" stroke-width="0.75" stroke-linejoin="round" stroke-linecap="round"/>
<polyline points="241.98,274.53 245.65,272.7 247.03,268.57" fill="none" stroke="#7c7c7c" stroke-width="0.75" stroke-linejoin="round" stroke-linecap="round"/>
<polyline points="236.29,272.7 237.67,269.21" fill="none" stroke="#7c7c7c" stroke-width="0.75" stroke-linejoin="round" stroke-linecap="round"/>
<circle cx="247.03" cy="268.57" r="0.9" fill="#333"/>
<rect x="111.9" y="286.9" width="2.8" height="19.9" fill="#8a8a8a" stroke="#333" stroke-width="0.6"/>
<rect x="115.3" y="245.9" width="3.4" height="60.9" fill="#8a8a8a" stroke="#333" stroke-width="0.6"/>
<rect x="119.3" y="231.9" width="3.4" height="74.9" fill="#8a8a8a" stroke="#333" stroke-width="0.6"/>
<rect x="123.3" y="253.9" width="3" height="52.9" fill="#8a8a8a" stroke="#333" stroke-width="0.6"/>
<rect x="126.9" y="277.9" width="2.4" height="28.9" fill="#8a8a8a" stroke="#333" stroke-width="0.6"/>
<rect x="129.9" y="293.7" width="3.2" height="13.1" fill="#8a8a8a" stroke="#333" stroke-width="0.6"/>
<rect x="133.7" y="301.3" width="3" height="5.5" fill="#8a8a8a" stroke="#333" stroke-width="0.6"/>
<rect x="137.3" y="304.1" width="3.4" height="2.7" fill="#8a8a8a" stroke="#333" stroke-width="0.6"/>
<rect x="141.3" y="305.8" width="4.4" height="1" fill="#8a8a8a" stroke="#333" stroke-width="0.6"/>
<line x1="27.5" y1="228.4" x2="27.5" y2="306.8" stroke="#555" stroke-width="1.1"/>
<line x1="27.5" y1="306.8" x2="273.6" y2="306.8" stroke="#555" stroke-width="1.5"/>
<line x1="26" y1="306.5" x2="28.7" y2="306.5" stroke="#555" stroke-width="1.2"/>
<line x1="26" y1="293.5" x2="28.7" y2="293.5" stroke="#555" stroke-width="1.2"/>
<line x1="26" y1="280.5" x2="28.7" y2="280.5" stroke="#555" stroke-width="1.2"/>
<line x1="26" y1="267.5" x2="28.7" y2="267.5" stroke="#555" stroke-width="1.2"/>
<line x1="26" y1="254.5" x2="28.7" y2="254.5" stroke="#555" stroke-width="1.2"/>
<line x1="26" y1="241.5" x2="28.7" y2="241.5" stroke="#555" stroke-width="1.2"/>
<line x1="26" y1="228.5" x2="28.7" y2="228.5" stroke="#555" stroke-width="1.2"/>
<rect x="28.65" y="305.4" width="1.4" height="2.8" fill="#555"/>
<rect x="38.38" y="305.4" width="1.4" height="2.8" fill="#555"/>
<rect x="45.29" y="305.4" width="1.4" height="2.8" fill="#555"/>
<rect x="50.65" y="305.4" width="1.4" height="2.8" fill="#555"/>
<rect x="55.03" y="305.4" width="1.4" height="2.8" fill="#555"/>
<rect x="58.73" y="305.4" width="1.4" height="2.8" fill="#555"/>
<rect x="61.94" y="305.4" width="1.4" height="2.8" fill="#555"/>
<rect x="64.77" y="305.4" width="1.4" height="2.8" fill="#555"/>
<rect x="67.3" y="305.4" width="1.4" height="2.8" fill="#555"/>
<rect x="83.95" y="305.4" width="1.4" height="2.8" fill="#555"/>
<rect x="93.68" y="305.4" width="1.4" height="2.8" fill="#555"/>
<rect x="100.59" y="305.4" width="1.4" height="2.8" fill="#555"/>
<rect x="105.95" y="305.4" width="1.4" height="2.8" fill="#555"/>
<rect x="110.33" y="305.4" width="1.4" height="2.8" fill="#555"/>
<rect x="114.03" y="305.4" width="1.4" height="2.8" fill="#555"/>
<rect x="117.24" y="305.4" width="1.4" height="2.8" fill="#555"/>
<rect x="120.07" y="305.4" width="1.4" height="2.8" fill="#555"/>
<rect x="122.6" y="305.4" width="1.4" height="2.8" fill="#555"/>
<rect x="139.25" y="305.4" width="1.4" height="2.8" fill="#555"/>
<rect x="148.98" y="305.4" width="1.4" height="2.8" fill="#555"/>
<rect x="155.89" y="305.4" width="1.4" height="2.8" fill="#555"/>
<rect x="161.25" y="305.4" width="1.4" height="2.8" fill="#555"/>
<rect x="165.63" y="305.4" width="1.4" height="2.8" fill="#555"/>
<rect x="169.33" y="305.4" width="1.4" height="2.8" fill="#555"/>
<rect x="172.54" y="305.4" width="1.4" height="2.8" fill="#555"/>
<rect x="175.37" y="305.4" width="1.4" height="2.8" fill="#555"/>
<rect x="177.9" y="305.4" width="1.4" height="2.8" fill="#555"/>
<rect x="194.55" y="305.4" width="1.4" height="2.8" fill="#555"/>
<rect x="204.28" y="305.4" width="1.4" height="2.8" fill="#555"/>
<rect x="211.19" y="305.4" width="1.4" height="2.8" fill="#555"/>
<rect x="216.55" y="305.4" width="1.4" height="2.8" fill="#555"/>
<rect x="220.93" y="305.4" width="1.4" height="2.8" fill="#555"/>
<rect x="224.63" y="305.4" width="1.4" height="2.8" fill="#555"/>
<rect x="227.84" y="305.4" width="1.4" height="2.8" fill="#555"/>
<rect x="230.67" y="305.4" width="1.4" height="2.8" fill="#555"/>
<rect x="233.2" y="305.4" width="1.4" height="2.8" fill="#555"/>
<rect x="249.85" y="305.4" width="1.4" height="2.8" fill="#555"/>
<rect x="259.58" y="305.4" width="1.4" height="2.8" fill="#555"/>
<rect x="266.49" y="305.4" width="1.4" height="2.8" fill="#555"/>
<rect x="271.85" y="305.4" width="1.4" height="2.8" fill="#555"/>
<text x="25.5" y="308.68" font-size="6.6" fill="#1e1e1e" textLength="2.95" lengthAdjust="spacingAndGlyphs" text-anchor="end" font-weight="bold">0</text>
<text x="25.5" y="282.71" font-size="6.6" fill="#1e1e1e" textLength="6.2" lengthAdjust="spacingAndGlyphs" text-anchor="end" font-weight="bold">10</text>
<text x="25.5" y="256.74" font-size="6.6" fill="#1e1e1e" textLength="6.2" lengthAdjust="spacingAndGlyphs" text-anchor="end" font-weight="bold">20</text>
<text x="25.5" y="230.78" font-size="6.6" fill="#1e1e1e" textLength="6.2" lengthAdjust="spacingAndGlyphs" text-anchor="end" font-weight="bold">30</text>
<text x="68" y="316.58" font-size="6.6" fill="#1e1e1e" textLength="2.95" lengthAdjust="spacingAndGlyphs" text-anchor="middle" font-weight="bold">1</text>
<text x="123.3" y="316.58" font-size="6.6" fill="#1e1e1e" textLength="6.2" lengthAdjust="spacingAndGlyphs" text-anchor="middle" font-weight="bold">10</text>
<text x="178.6" y="316.58" font-size="6.6" fill="#1e1e1e" textLength="9.45" lengthAdjust="spacingAndGlyphs" text-anchor="middle" font-weight="bold">100</text>
<text x="233.9" y="316.58" font-size="6.6" fill="#1e1e1e" textLength="12.7" lengthAdjust="spacingAndGlyphs" text-anchor="middle" font-weight="bold">1000</text>
<text x="137.6" y="325.2" font-size="6.6" fill="#1e1e1e" textLength="25.8" lengthAdjust="spacingAndGlyphs" font-weight="bold">Size (<tspan font-style="italic">r.nm</tspan>)</text>
<text transform="translate(15.88,266.3) rotate(-90)" font-size="6.6" fill="#1e1e1e" text-anchor="middle" textLength="32" lengthAdjust="spacingAndGlyphs" font-weight="bold">Number (%)</text>
<text x="100" y="214.4" font-size="6.6" fill="#1a1a1a" textLength="82.6" lengthAdjust="spacingAndGlyphs" font-weight="bold">Statistics Graph (1 measurements)</text>
<rect x="82.5" y="340.1" width="116.4" height="7.4" fill="#fff" stroke="#444" stroke-width="1"/>
<rect x="83" y="340.6" width="7" height="6.4" fill="#8a8a8a"/>
<text x="94.5" y="345.8" font-size="6.6" fill="#1a1a1a" textLength="103.4" lengthAdjust="spacingAndGlyphs" font-weight="bold">Mean with +/-1 Standard Deviation error bar</text>
<rect x="0" y="387" width="284" height="154" fill="#000"/>
<rect x="3" y="390" width="278" height="148" fill="#8e8e8e"/>
<rect x="4" y="391" width="276" height="146" fill="#3a3a3a"/>
<rect x="5" y="392" width="274" height="143" fill="#d6d6d6"/>
<rect x="6" y="393" width="273" height="142" fill="#fff"/>
<line x1="28" y1="467.5" x2="272" y2="467.5" stroke="#8a8a8a" stroke-width="1.5" stroke-dasharray="1.5 1.4"/>
<line x1="28" y1="441.5" x2="272" y2="441.5" stroke="#8a8a8a" stroke-width="1.5" stroke-dasharray="1.5 1.4"/>
<line x1="28" y1="415.5" x2="272" y2="415.5" stroke="#8a8a8a" stroke-width="1.5" stroke-dasharray="1.5 1.4"/>
<line x1="66.5" y1="417" x2="66.5" y2="494" stroke="#8a8a8a" stroke-width="1.5" stroke-dasharray="1.5 1.4"/>
<line x1="121.5" y1="417" x2="121.5" y2="494" stroke="#8a8a8a" stroke-width="1.5" stroke-dasharray="1.5 1.4"/>
<line x1="176.5" y1="417" x2="176.5" y2="494" stroke="#8a8a8a" stroke-width="1.5" stroke-dasharray="1.5 1.4"/>
<line x1="231.5" y1="417" x2="231.5" y2="494" stroke="#8a8a8a" stroke-width="1.5" stroke-dasharray="1.5 1.4"/>
<rect x="224" y="429.4" width="35.6" height="35.6" rx="2" fill="#fff"/>
<path d="M259.1,430.4 V462.5 q0,2 -2,2 H225" fill="none" stroke="#d4d4d4" stroke-width="1"/>
<polyline points="228.97,436.66 229.39,439.61 227.28,442.14 226.86,444.68 228.55,447.63" fill="none" stroke="#7c7c7c" stroke-width="0.75" stroke-linejoin="round" stroke-linecap="round"/>
<polyline points="229.39,439.61 235.3,439.61 236.14,436.66" fill="none" stroke="#7c7c7c" stroke-width="0.75" stroke-linejoin="round" stroke-linecap="round"/>
<polyline points="235.3,439.61 236.14,443.83" fill="none" stroke="#7c7c7c" stroke-width="0.75" stroke-linejoin="round" stroke-linecap="round"/>
<polyline points="234.54,439.19 235.38,436.49" fill="none" stroke="#7c7c7c" stroke-width="0.75" stroke-linejoin="round" stroke-linecap="round"/>
<circle cx="228.55" cy="447.63" r="0.9" fill="#333"/>
<polyline points="239.94,442.14 240.78,437.5 245.85,434.97 247.11,432.02" fill="none" stroke="#7c7c7c" stroke-width="0.75" stroke-linejoin="round" stroke-linecap="round"/>
<polyline points="245.85,434.97 250.91,437.92 253.86,436.66" fill="none" stroke="#7c7c7c" stroke-width="0.75" stroke-linejoin="round" stroke-linecap="round"/>
<polyline points="250.91,437.92 250.07,442.14" fill="none" stroke="#7c7c7c" stroke-width="0.75" stroke-linejoin="round" stroke-linecap="round"/>
<polyline points="251.08,437.08 253.44,435.81" fill="none" stroke="#7c7c7c" stroke-width="0.75" stroke-linejoin="round" stroke-linecap="round"/>
<circle cx="239.94" cy="442.14" r="0.9" fill="#333"/>
<polyline points="241.63,447.21 244.58,448.05 247.96,446.78" fill="none" stroke="#7c7c7c" stroke-width="0.75" stroke-linejoin="round" stroke-linecap="round"/>
<polyline points="244.58,448.05 244.58,453.11 242.47,453.96" fill="none" stroke="#7c7c7c" stroke-width="0.75" stroke-linejoin="round" stroke-linecap="round"/>
<polyline points="244.58,453.11 249.65,455.65 253.86,453.11" fill="none" stroke="#7c7c7c" stroke-width="0.75" stroke-linejoin="round" stroke-linecap="round"/>
<circle cx="253.86" cy="453.11" r="0.9" fill="#333"/>
<polyline points="230.24,451 232.35,451.85 236.14,451" fill="none" stroke="#7c7c7c" stroke-width="0.75" stroke-linejoin="round" stroke-linecap="round"/>
<polyline points="232.35,451.85 232.35,457.76 229.81,458.18" fill="none" stroke="#7c7c7c" stroke-width="0.75" stroke-linejoin="round" stroke-linecap="round"/>
<polyline points="232.35,457.76 236.99,460.71 241.63,458.6" fill="none" stroke="#7c7c7c" stroke-width="0.75" stroke-linejoin="round" stroke-linecap="round"/>
<circle cx="241.63" cy="458.6" r="0.9" fill="#333"/>
<rect x="93.5" y="477.9" width="2.8" height="16.1" fill="#8a8a8a" stroke="#333" stroke-width="0.6"/>
<rect x="96.9" y="442.3" width="2.8" height="51.7" fill="#8a8a8a" stroke="#333" stroke-width="0.6"/>
<rect x="100.3" y="421.9" width="3" height="72.1" fill="#8a8a8a" stroke="#333" stroke-width="0.6"/>
<rect x="103.9" y="434.3" width="3.2" height="59.7" fill="#8a8a8a" stroke="#333" stroke-width="0.6"/>
<rect x="107.7" y="457.3" width="3" height="36.7" fill="#8a8a8a" stroke="#333" stroke-width="0.6"/>
<rect x="111.3" y="476.3" width="3" height="17.7" fill="#8a8a8a" stroke="#333" stroke-width="0.6"/>
<rect x="114.9" y="487.3" width="2.8" height="6.7" fill="#8a8a8a" stroke="#333" stroke-width="0.6"/>
<rect x="118.3" y="490.9" width="2.4" height="3.1" fill="#8a8a8a" stroke="#333" stroke-width="0.6"/>
<line x1="26.5" y1="415.3" x2="26.5" y2="494" stroke="#555" stroke-width="1.1"/>
<line x1="26.5" y1="494" x2="272" y2="494" stroke="#555" stroke-width="1.5"/>
<line x1="25" y1="493.5" x2="27.7" y2="493.5" stroke="#555" stroke-width="1.2"/>
<line x1="25" y1="480.5" x2="27.7" y2="480.5" stroke="#555" stroke-width="1.2"/>
<line x1="25" y1="467.5" x2="27.7" y2="467.5" stroke="#555" stroke-width="1.2"/>
<line x1="25" y1="454.5" x2="27.7" y2="454.5" stroke="#555" stroke-width="1.2"/>
<line x1="25" y1="441.5" x2="27.7" y2="441.5" stroke="#555" stroke-width="1.2"/>
<line x1="25" y1="428.5" x2="27.7" y2="428.5" stroke="#555" stroke-width="1.2"/>
<line x1="25" y1="415.5" x2="27.7" y2="415.5" stroke="#555" stroke-width="1.2"/>
<rect x="27.39" y="492.6" width="1.4" height="2.8" fill="#555"/>
<rect x="37.09" y="492.6" width="1.4" height="2.8" fill="#555"/>
<rect x="43.97" y="492.6" width="1.4" height="2.8" fill="#555"/>
<rect x="49.31" y="492.6" width="1.4" height="2.8" fill="#555"/>
<rect x="53.68" y="492.6" width="1.4" height="2.8" fill="#555"/>
<rect x="57.36" y="492.6" width="1.4" height="2.8" fill="#555"/>
<rect x="60.56" y="492.6" width="1.4" height="2.8" fill="#555"/>
<rect x="63.38" y="492.6" width="1.4" height="2.8" fill="#555"/>
<rect x="65.9" y="492.6" width="1.4" height="2.8" fill="#555"/>
<rect x="82.49" y="492.6" width="1.4" height="2.8" fill="#555"/>
<rect x="92.19" y="492.6" width="1.4" height="2.8" fill="#555"/>
<rect x="99.07" y="492.6" width="1.4" height="2.8" fill="#555"/>
<rect x="104.41" y="492.6" width="1.4" height="2.8" fill="#555"/>
<rect x="108.78" y="492.6" width="1.4" height="2.8" fill="#555"/>
<rect x="112.46" y="492.6" width="1.4" height="2.8" fill="#555"/>
<rect x="115.66" y="492.6" width="1.4" height="2.8" fill="#555"/>
<rect x="118.48" y="492.6" width="1.4" height="2.8" fill="#555"/>
<rect x="121" y="492.6" width="1.4" height="2.8" fill="#555"/>
<rect x="137.59" y="492.6" width="1.4" height="2.8" fill="#555"/>
<rect x="147.29" y="492.6" width="1.4" height="2.8" fill="#555"/>
<rect x="154.17" y="492.6" width="1.4" height="2.8" fill="#555"/>
<rect x="159.51" y="492.6" width="1.4" height="2.8" fill="#555"/>
<rect x="163.88" y="492.6" width="1.4" height="2.8" fill="#555"/>
<rect x="167.56" y="492.6" width="1.4" height="2.8" fill="#555"/>
<rect x="170.76" y="492.6" width="1.4" height="2.8" fill="#555"/>
<rect x="173.58" y="492.6" width="1.4" height="2.8" fill="#555"/>
<rect x="176.1" y="492.6" width="1.4" height="2.8" fill="#555"/>
<rect x="192.69" y="492.6" width="1.4" height="2.8" fill="#555"/>
<rect x="202.39" y="492.6" width="1.4" height="2.8" fill="#555"/>
<rect x="209.27" y="492.6" width="1.4" height="2.8" fill="#555"/>
<rect x="214.61" y="492.6" width="1.4" height="2.8" fill="#555"/>
<rect x="218.98" y="492.6" width="1.4" height="2.8" fill="#555"/>
<rect x="222.66" y="492.6" width="1.4" height="2.8" fill="#555"/>
<rect x="225.86" y="492.6" width="1.4" height="2.8" fill="#555"/>
<rect x="228.68" y="492.6" width="1.4" height="2.8" fill="#555"/>
<rect x="231.2" y="492.6" width="1.4" height="2.8" fill="#555"/>
<rect x="247.79" y="492.6" width="1.4" height="2.8" fill="#555"/>
<rect x="257.49" y="492.6" width="1.4" height="2.8" fill="#555"/>
<rect x="264.37" y="492.6" width="1.4" height="2.8" fill="#555"/>
<rect x="269.71" y="492.6" width="1.4" height="2.8" fill="#555"/>
<text x="24.5" y="496.18" font-size="6.6" fill="#1e1e1e" textLength="2.95" lengthAdjust="spacingAndGlyphs" text-anchor="end" font-weight="bold">0</text>
<text x="24.5" y="470.01" font-size="6.6" fill="#1e1e1e" textLength="6.2" lengthAdjust="spacingAndGlyphs" text-anchor="end" font-weight="bold">10</text>
<text x="24.5" y="443.84" font-size="6.6" fill="#1e1e1e" textLength="6.2" lengthAdjust="spacingAndGlyphs" text-anchor="end" font-weight="bold">20</text>
<text x="24.5" y="417.68" font-size="6.6" fill="#1e1e1e" textLength="6.2" lengthAdjust="spacingAndGlyphs" text-anchor="end" font-weight="bold">30</text>
<text x="66.6" y="503.58" font-size="6.6" fill="#1e1e1e" textLength="2.95" lengthAdjust="spacingAndGlyphs" text-anchor="middle" font-weight="bold">1</text>
<text x="121.7" y="503.58" font-size="6.6" fill="#1e1e1e" textLength="6.2" lengthAdjust="spacingAndGlyphs" text-anchor="middle" font-weight="bold">10</text>
<text x="176.8" y="503.58" font-size="6.6" fill="#1e1e1e" textLength="9.45" lengthAdjust="spacingAndGlyphs" text-anchor="middle" font-weight="bold">100</text>
<text x="231.9" y="503.58" font-size="6.6" fill="#1e1e1e" textLength="12.7" lengthAdjust="spacingAndGlyphs" text-anchor="middle" font-weight="bold">1000</text>
<text x="136" y="512.2" font-size="6.6" fill="#1e1e1e" textLength="26" lengthAdjust="spacingAndGlyphs" font-weight="bold">Size (<tspan font-style="italic">r.nm</tspan>)</text>
<text transform="translate(15.68,453.9) rotate(-90)" font-size="6.6" fill="#1e1e1e" text-anchor="middle" textLength="31.6" lengthAdjust="spacingAndGlyphs" font-weight="bold">Number (%)</text>
<text x="98.6" y="402.3" font-size="6.6" fill="#1a1a1a" textLength="82" lengthAdjust="spacingAndGlyphs" font-weight="bold">Statistics Graph (1 measurements)</text>
<rect x="81.5" y="527.5" width="115.4" height="6.8" fill="#fff" stroke="#444" stroke-width="1"/>
<rect x="82" y="528" width="7" height="5.8" fill="#8a8a8a"/>
<text x="93.5" y="532.6" font-size="6.6" fill="#1a1a1a" textLength="102.4" lengthAdjust="spacingAndGlyphs" font-weight="bold">Mean with +/-1 Standard Deviation error bar</text>
<rect x="506" y="12" width="279" height="154" fill="#000"/>
<rect x="509" y="15" width="273" height="148" fill="#8e8e8e"/>
<rect x="510" y="16" width="271" height="146" fill="#3a3a3a"/>
<rect x="511" y="17" width="269" height="143" fill="#d6d6d6"/>
<rect x="512" y="18" width="268" height="142" fill="#fff"/>
<line x1="532" y1="95.5" x2="775.6" y2="95.5" stroke="#c8c0d8" stroke-width="1" stroke-dasharray="1 2"/>
<line x1="532" y1="77.5" x2="775.6" y2="77.5" stroke="#c8c0d8" stroke-width="1" stroke-dasharray="1 2"/>
<line x1="532" y1="59.5" x2="775.6" y2="59.5" stroke="#c8c0d8" stroke-width="1" stroke-dasharray="1 2"/>
<line x1="532" y1="42.5" x2="775.6" y2="42.5" stroke="#c8c0d8" stroke-width="1" stroke-dasharray="1 2"/>
<line x1="532" y1="24.5" x2="775.6" y2="24.5" stroke="#c8c0d8" stroke-width="1" stroke-dasharray="1 2"/>
<line x1="570.5" y1="26" x2="570.5" y2="113" stroke="#c8c0d8" stroke-width="1" stroke-dasharray="1 2"/>
<line x1="625.5" y1="26" x2="625.5" y2="113" stroke="#c8c0d8" stroke-width="1" stroke-dasharray="1 2"/>
<line x1="680.5" y1="26" x2="680.5" y2="113" stroke="#c8c0d8" stroke-width="1" stroke-dasharray="1 2"/>
<line x1="736.5" y1="26" x2="736.5" y2="113" stroke="#c8c0d8" stroke-width="1" stroke-dasharray="1 2"/>
<polyline points="734.42,50.17 739.07,43.39 736.65,36.74 742.37,31.89" fill="none" stroke="#5a5a5a" stroke-width="0.85" stroke-linejoin="round" stroke-linecap="round"/>
<polyline points="742.37,31.89 741.45,25.68" fill="none" stroke="#5a5a5a" stroke-width="0.85" stroke-linejoin="round" stroke-linecap="round"/>
<polyline points="742.37,31.89 749.09,31.11" fill="none" stroke="#5a5a5a" stroke-width="0.85" stroke-linejoin="round" stroke-linecap="round"/>
<polyline points="742.9,32.86 749.98,32.72" fill="none" stroke="#5a5a5a" stroke-width="0.68" stroke-linejoin="round" stroke-linecap="round"/>
<circle cx="734.42" cy="50.17" r="0.85" fill="#1e1e1e"/>
<polyline points="741.08,54.44 745.9,47.78 752.98,47.83 755.63,40.82" fill="none" stroke="#5a5a5a" stroke-width="0.85" stroke-linejoin="round" stroke-linecap="round"/>
<polyline points="755.63,40.82 761.79,39.6" fill="none" stroke="#5a5a5a" stroke-width="0.85" stroke-linejoin="round" stroke-linecap="round"/>
<polyline points="755.63,40.82 754.11,34.23" fill="none" stroke="#5a5a5a" stroke-width="0.85" stroke-linejoin="round" stroke-linecap="round"/>
<polyline points="754.54,40.64 752.29,33.93" fill="none" stroke="#5a5a5a" stroke-width="0.68" stroke-linejoin="round" stroke-linecap="round"/>
<circle cx="741.08" cy="54.44" r="0.85" fill="#1e1e1e"/>
<polyline points="743.4,61.2 751.24,58.73 756.89,62.99 763.2,58.94" fill="none" stroke="#5a5a5a" stroke-width="0.85" stroke-linejoin="round" stroke-linecap="round"/>
<polyline points="763.2,58.94 768.87,61.64" fill="none" stroke="#5a5a5a" stroke-width="0.85" stroke-linejoin="round" stroke-linecap="round"/>
<polyline points="763.2,58.94 765.91,52.75" fill="none" stroke="#5a5a5a" stroke-width="0.85" stroke-linejoin="round" stroke-linecap="round"/>
<polyline points="762.43,58.15 764.63,51.43" fill="none" stroke="#5a5a5a" stroke-width="0.68" stroke-linejoin="round" stroke-linecap="round"/>
<circle cx="743.4" cy="61.2" r="0.85" fill="#1e1e1e"/>
<polyline points="741.23,67.36 749.14,69.62 751.51,76.28 759.01,76.37" fill="none" stroke="#5a5a5a" stroke-width="0.85" stroke-linejoin="round" stroke-linecap="round"/>
<polyline points="759.01,76.37 762.26,81.75" fill="none" stroke="#5a5a5a" stroke-width="0.85" stroke-linejoin="round" stroke-linecap="round"/>
<polyline points="759.01,76.37 764.68,72.69" fill="none" stroke="#5a5a5a" stroke-width="0.85" stroke-linejoin="round" stroke-linecap="round"/>
<polyline points="758.81,75.29 764.34,70.88" fill="none" stroke="#5a5a5a" stroke-width="0.68" stroke-linejoin="round" stroke-linecap="round"/>
<circle cx="741.23" cy="67.36" r="0.85" fill="#1e1e1e"/>
<polyline points="736.63,71.04 737.85,79.17 744.15,82.38 743.28,89.83" fill="none" stroke="#5a5a5a" stroke-width="0.85" stroke-linejoin="round" stroke-linecap="round"/>
<polyline points="743.28,89.83 748.19,93.75" fill="none" stroke="#5a5a5a" stroke-width="0.85" stroke-linejoin="round" stroke-linecap="round"/>
<polyline points="743.28,89.83 738.9,94.98" fill="none" stroke="#5a5a5a" stroke-width="0.85" stroke-linejoin="round" stroke-linecap="round"/>
<polyline points="742.23,89.49 737.15,94.41" fill="none" stroke="#5a5a5a" stroke-width="0.68" stroke-linejoin="round" stroke-linecap="round"/>
<circle cx="736.63" cy="71.04" r="0.85" fill="#1e1e1e"/>
<polyline points="726.88,71.63 721.84,78.13 723.87,84.9 717.87,89.41" fill="none" stroke="#5a5a5a" stroke-width="0.85" stroke-linejoin="round" stroke-linecap="round"/>
<polyline points="717.87,89.41 718.42,95.67" fill="none" stroke="#5a5a5a" stroke-width="0.85" stroke-linejoin="round" stroke-linecap="round"/>
<polyline points="717.87,89.41 711.12,89.79" fill="none" stroke="#5a5a5a" stroke-width="0.85" stroke-linejoin="round" stroke-linecap="round"/>
<polyline points="717.39,88.41 710.33,88.13" fill="none" stroke="#5a5a5a" stroke-width="0.68" stroke-linejoin="round" stroke-linecap="round"/>
<circle cx="726.88" cy="71.63" r="0.85" fill="#1e1e1e"/>
<polyline points="721.38,68.1 716.96,75.04 709.9,75.41 707.67,82.58" fill="none" stroke="#5a5a5a" stroke-width="0.85" stroke-linejoin="round" stroke-linecap="round"/>
<polyline points="707.67,82.58 701.59,84.16" fill="none" stroke="#5a5a5a" stroke-width="0.85" stroke-linejoin="round" stroke-linecap="round"/>
<polyline points="707.67,82.58 709.59,89.06" fill="none" stroke="#5a5a5a" stroke-width="0.85" stroke-linejoin="round" stroke-linecap="round"/>
<polyline points="708.77,82.69 711.42,89.25" fill="none" stroke="#5a5a5a" stroke-width="0.68" stroke-linejoin="round" stroke-linecap="round"/>
<circle cx="721.38" cy="68.1" r="0.85" fill="#1e1e1e"/>
<polyline points="718.81,63.03 711.6,66.99 705.23,63.93 699.84,69.14" fill="none" stroke="#5a5a5a" stroke-width="0.85" stroke-linejoin="round" stroke-linecap="round"/>
<polyline points="699.84,69.14 693.74,67.62" fill="none" stroke="#5a5a5a" stroke-width="0.85" stroke-linejoin="round" stroke-linecap="round"/>
<polyline points="699.84,69.14 698.4,75.75" fill="none" stroke="#5a5a5a" stroke-width="0.85" stroke-linejoin="round" stroke-linecap="round"/>
<polyline points="700.74,69.77 699.92,76.79" fill="none" stroke="#5a5a5a" stroke-width="0.68" stroke-linejoin="round" stroke-linecap="round"/>
<circle cx="718.81" cy="63.03" r="0.85" fill="#1e1e1e"/>
<polyline points="720.38,55.19 712.36,53.39 709.6,46.87 702.11,47.22" fill="none" stroke="#5a5a5a" stroke-width="0.85" stroke-linejoin="round" stroke-linecap="round"/>
<polyline points="702.11,47.22 698.55,42.04" fill="none" stroke="#5a5a5a" stroke-width="0.85" stroke-linejoin="round" stroke-linecap="round"/>
<polyline points="702.11,47.22 696.67,51.22" fill="none" stroke="#5a5a5a" stroke-width="0.85" stroke-linejoin="round" stroke-linecap="round"/>
<polyline points="702.38,48.29 697.11,53.01" fill="none" stroke="#5a5a5a" stroke-width="0.68" stroke-linejoin="round" stroke-linecap="round"/>
<circle cx="720.38" cy="55.19" r="0.85" fill="#1e1e1e"/>
<polyline points="727.59,50.16 727.95,41.95 722.38,37.59 724.66,30.45" fill="none" stroke="#5a5a5a" stroke-width="0.85" stroke-linejoin="round" stroke-linecap="round"/>
<polyline points="724.66,30.45 720.59,25.66" fill="none" stroke="#5a5a5a" stroke-width="0.85" stroke-linejoin="round" stroke-linecap="round"/>
<polyline points="724.66,30.45 729.95,26.24" fill="none" stroke="#5a5a5a" stroke-width="0.85" stroke-linejoin="round" stroke-linecap="round"/>
<polyline points="725.63,30.99 731.56,27.13" fill="none" stroke="#5a5a5a" stroke-width="0.68" stroke-linejoin="round" stroke-linecap="round"/>
<circle cx="727.59" cy="50.16" r="0.85" fill="#1e1e1e"/>
<ellipse cx="731" cy="62" rx="24.5" ry="22" fill="url(#gp)"/>
<circle cx="730.89" cy="50.92" r="3.47" fill="url(#sp)"/>
<circle cx="724.35" cy="53.08" r="3.48" fill="url(#sp)"/>
<circle cx="736.99" cy="52.58" r="3.24" fill="url(#sp)"/>
<circle cx="720.57" cy="56.93" r="3.15" fill="url(#sp)"/>
<circle cx="729.25" cy="55.23" r="3.43" fill="url(#sp)"/>
<circle cx="724.56" cy="59.44" r="3.27" fill="url(#sp)"/>
<circle cx="735.49" cy="57.35" r="3.35" fill="url(#sp)"/>
<circle cx="740.77" cy="56.39" r="3.49" fill="url(#sp)"/>
<circle cx="719.7" cy="63.25" r="3.07" fill="url(#sp)"/>
<circle cx="731.2" cy="61.28" r="3.07" fill="url(#sp)"/>
<circle cx="726.59" cy="64.8" r="3.41" fill="url(#sp)"/>
<circle cx="736.65" cy="62.34" r="3.17" fill="url(#sp)"/>
<circle cx="742.44" cy="61.77" r="3.52" fill="url(#sp)"/>
<circle cx="723.25" cy="68.3" r="3.27" fill="url(#sp)"/>
<circle cx="732.29" cy="66.63" r="3.53" fill="url(#sp)"/>
<circle cx="739.4" cy="67.49" r="3.55" fill="url(#sp)"/>
<circle cx="728.61" cy="70.45" r="3.64" fill="url(#sp)"/>
<circle cx="734.26" cy="70.45" r="3.43" fill="url(#sp)"/>
<line x1="691.2" y1="26.6" x2="691.2" y2="56.4" stroke="#eb9a6c" stroke-width="2"/>
<line x1="691.2" y1="61.2" x2="691.2" y2="97.3" stroke="#eb9a6c" stroke-width="2"/>
<path d="M691.2,23.6 l-1.8,3.8 h3.6 z" fill="#eb9a6c"/>
<path d="M691.2,100.3 l-1.8,-3.8 h3.6 z" fill="#eb9a6c"/>
<text x="683.8" y="66.6" font-size="11" fill="#3a3a3a" textLength="3.9" lengthAdjust="spacingAndGlyphs" font-weight="bold">r</text>
<rect x="632.2" y="109.2" width="3.5" height="3.8" fill="#6e5a8e" stroke="#5a4878" stroke-width="0.6"/>
<rect x="636.3" y="88" width="3" height="25" fill="#6e5a8e" stroke="#5a4878" stroke-width="0.6"/>
<rect x="639.9" y="53" width="2.8" height="60" fill="#6e5a8e" stroke="#5a4878" stroke-width="0.6"/>
<rect x="643.3" y="36.5" width="2.9" height="76.5" fill="#6e5a8e" stroke="#5a4878" stroke-width="0.6"/>
<rect x="646.8" y="48.6" width="2.9" height="64.4" fill="#6e5a8e" stroke="#5a4878" stroke-width="0.6"/>
<rect x="650.3" y="66.3" width="2.7" height="46.7" fill="#6e5a8e" stroke="#5a4878" stroke-width="0.6"/>
<rect x="653.6" y="81.5" width="3.1" height="31.5" fill="#6e5a8e" stroke="#5a4878" stroke-width="0.6"/>
<rect x="657.3" y="92" width="2.8" height="21" fill="#6e5a8e" stroke="#5a4878" stroke-width="0.6"/>
<rect x="660.7" y="99.7" width="2.8" height="13.3" fill="#6e5a8e" stroke="#5a4878" stroke-width="0.6"/>
<rect x="664.1" y="105.1" width="2.9" height="7.9" fill="#6e5a8e" stroke="#5a4878" stroke-width="0.6"/>
<rect x="667.6" y="109.2" width="3.2" height="3.8" fill="#6e5a8e" stroke="#5a4878" stroke-width="0.6"/>
<rect x="671.4" y="111.3" width="3.3" height="1.7" fill="#6e5a8e" stroke="#5a4878" stroke-width="0.6"/>
<rect x="675.3" y="112.3" width="9.4" height="0.7" fill="#6e5a8e" stroke="#5a4878" stroke-width="0.6"/>
<line x1="530.5" y1="24.3" x2="530.5" y2="113" stroke="#7a6c98" stroke-width="1.1"/>
<line x1="530.5" y1="113" x2="775.6" y2="113" stroke="#7a6c98" stroke-width="1.5"/>
<line x1="529" y1="112.5" x2="531.7" y2="112.5" stroke="#7a6c98" stroke-width="1.2"/>
<line x1="529" y1="104.5" x2="531.7" y2="104.5" stroke="#7a6c98" stroke-width="1.2"/>
<line x1="529" y1="95.5" x2="531.7" y2="95.5" stroke="#7a6c98" stroke-width="1.2"/>
<line x1="529" y1="86.5" x2="531.7" y2="86.5" stroke="#7a6c98" stroke-width="1.2"/>
<line x1="529" y1="77.5" x2="531.7" y2="77.5" stroke="#7a6c98" stroke-width="1.2"/>
<line x1="529" y1="68.5" x2="531.7" y2="68.5" stroke="#7a6c98" stroke-width="1.2"/>
<line x1="529" y1="59.5" x2="531.7" y2="59.5" stroke="#7a6c98" stroke-width="1.2"/>
<line x1="529" y1="50.5" x2="531.7" y2="50.5" stroke="#7a6c98" stroke-width="1.2"/>
<line x1="529" y1="42.5" x2="531.7" y2="42.5" stroke="#7a6c98" stroke-width="1.2"/>
<line x1="529" y1="33.5" x2="531.7" y2="33.5" stroke="#7a6c98" stroke-width="1.2"/>
<line x1="529" y1="24.5" x2="531.7" y2="24.5" stroke="#7a6c98" stroke-width="1.2"/>
<rect x="531.22" y="111.6" width="1.4" height="2.8" fill="#7a6c98"/>
<rect x="540.94" y="111.6" width="1.4" height="2.8" fill="#7a6c98"/>
<rect x="547.83" y="111.6" width="1.4" height="2.8" fill="#7a6c98"/>
<rect x="553.18" y="111.6" width="1.4" height="2.8" fill="#7a6c98"/>
<rect x="557.55" y="111.6" width="1.4" height="2.8" fill="#7a6c98"/>
<rect x="561.25" y="111.6" width="1.4" height="2.8" fill="#7a6c98"/>
<rect x="564.45" y="111.6" width="1.4" height="2.8" fill="#7a6c98"/>
<rect x="567.27" y="111.6" width="1.4" height="2.8" fill="#7a6c98"/>
<rect x="569.8" y="111.6" width="1.4" height="2.8" fill="#7a6c98"/>
<rect x="586.42" y="111.6" width="1.4" height="2.8" fill="#7a6c98"/>
<rect x="596.14" y="111.6" width="1.4" height="2.8" fill="#7a6c98"/>
<rect x="603.03" y="111.6" width="1.4" height="2.8" fill="#7a6c98"/>
<rect x="608.38" y="111.6" width="1.4" height="2.8" fill="#7a6c98"/>
<rect x="612.75" y="111.6" width="1.4" height="2.8" fill="#7a6c98"/>
<rect x="616.45" y="111.6" width="1.4" height="2.8" fill="#7a6c98"/>
<rect x="619.65" y="111.6" width="1.4" height="2.8" fill="#7a6c98"/>
<rect x="622.47" y="111.6" width="1.4" height="2.8" fill="#7a6c98"/>
<rect x="625" y="111.6" width="1.4" height="2.8" fill="#7a6c98"/>
<rect x="641.62" y="111.6" width="1.4" height="2.8" fill="#7a6c98"/>
<rect x="651.34" y="111.6" width="1.4" height="2.8" fill="#7a6c98"/>
<rect x="658.23" y="111.6" width="1.4" height="2.8" fill="#7a6c98"/>
<rect x="663.58" y="111.6" width="1.4" height="2.8" fill="#7a6c98"/>
<rect x="667.95" y="111.6" width="1.4" height="2.8" fill="#7a6c98"/>
<rect x="671.65" y="111.6" width="1.4" height="2.8" fill="#7a6c98"/>
<rect x="674.85" y="111.6" width="1.4" height="2.8" fill="#7a6c98"/>
<rect x="677.67" y="111.6" width="1.4" height="2.8" fill="#7a6c98"/>
<rect x="680.2" y="111.6" width="1.4" height="2.8" fill="#7a6c98"/>
<rect x="696.82" y="111.6" width="1.4" height="2.8" fill="#7a6c98"/>
<rect x="706.54" y="111.6" width="1.4" height="2.8" fill="#7a6c98"/>
<rect x="713.43" y="111.6" width="1.4" height="2.8" fill="#7a6c98"/>
<rect x="718.78" y="111.6" width="1.4" height="2.8" fill="#7a6c98"/>
<rect x="723.15" y="111.6" width="1.4" height="2.8" fill="#7a6c98"/>
<rect x="726.85" y="111.6" width="1.4" height="2.8" fill="#7a6c98"/>
<rect x="730.05" y="111.6" width="1.4" height="2.8" fill="#7a6c98"/>
<rect x="732.87" y="111.6" width="1.4" height="2.8" fill="#7a6c98"/>
<rect x="735.4" y="111.6" width="1.4" height="2.8" fill="#7a6c98"/>
<rect x="752.02" y="111.6" width="1.4" height="2.8" fill="#7a6c98"/>
<rect x="761.74" y="111.6" width="1.4" height="2.8" fill="#7a6c98"/>
<rect x="768.63" y="111.6" width="1.4" height="2.8" fill="#7a6c98"/>
<rect x="773.98" y="111.6" width="1.4" height="2.8" fill="#7a6c98"/>
<text x="528.5" y="115.42" font-size="7" fill="#6a5c88" textLength="2.7" lengthAdjust="spacingAndGlyphs" text-anchor="end">0</text>
<text x="528.5" y="97.7" font-size="7" fill="#6a5c88" textLength="2.7" lengthAdjust="spacingAndGlyphs" text-anchor="end">5</text>
<text x="528.5" y="79.98" font-size="7" fill="#6a5c88" textLength="5.7" lengthAdjust="spacingAndGlyphs" text-anchor="end">10</text>
<text x="528.5" y="62.26" font-size="7" fill="#6a5c88" textLength="5.7" lengthAdjust="spacingAndGlyphs" text-anchor="end">15</text>
<text x="528.5" y="44.54" font-size="7" fill="#6a5c88" textLength="5.7" lengthAdjust="spacingAndGlyphs" text-anchor="end">20</text>
<text x="528.5" y="26.82" font-size="7" fill="#6a5c88" textLength="5.7" lengthAdjust="spacingAndGlyphs" text-anchor="end">25</text>
<text x="570.5" y="122.92" font-size="7" fill="#6a5c88" textLength="2.7" lengthAdjust="spacingAndGlyphs" text-anchor="middle">1</text>
<text x="625.7" y="122.92" font-size="7" fill="#6a5c88" textLength="5.7" lengthAdjust="spacingAndGlyphs" text-anchor="middle">10</text>
<text x="680.9" y="122.92" font-size="7" fill="#6a5c88" textLength="8.7" lengthAdjust="spacingAndGlyphs" text-anchor="middle">100</text>
<text x="736.1" y="122.92" font-size="7" fill="#6a5c88" textLength="11.7" lengthAdjust="spacingAndGlyphs" text-anchor="middle">1000</text>
<text x="640" y="133.6" font-size="7" fill="#6a5c88" textLength="26" lengthAdjust="spacingAndGlyphs">Size (<tspan font-style="italic">r.nm</tspan>)</text>
<text transform="translate(518.09,66.5) rotate(-90)" font-size="5.8" fill="#6a5c88" text-anchor="middle" textLength="37" lengthAdjust="spacingAndGlyphs">Number (%)</text>
<rect x="585.5" y="149.9" width="115.6" height="7.6" fill="#fff" stroke="#7a6c98" stroke-width="1"/>
<rect x="586" y="150.4" width="7" height="6.6" fill="#6e5a8e"/>
<text x="597.5" y="155.8" font-size="7" fill="#2a2a2a" textLength="102.6" lengthAdjust="spacingAndGlyphs">Mean with +/-1 Standard Deviation error bar</text>
<rect x="505" y="201" width="279" height="157" fill="#000"/>
<rect x="508" y="204" width="273" height="151" fill="#8e8e8e"/>
<rect x="509" y="205" width="271" height="149" fill="#3a3a3a"/>
<rect x="510" y="206" width="269" height="146" fill="#d6d6d6"/>
<rect x="511" y="207" width="268" height="145" fill="#fff"/>
<line x1="531" y1="284.5" x2="771.6" y2="284.5" stroke="#d0dab8" stroke-width="1" stroke-dasharray="1 2"/>
<line x1="531" y1="266.5" x2="771.6" y2="266.5" stroke="#d0dab8" stroke-width="1" stroke-dasharray="1 2"/>
<line x1="531" y1="248.5" x2="771.6" y2="248.5" stroke="#d0dab8" stroke-width="1" stroke-dasharray="1 2"/>
<line x1="531" y1="230.5" x2="771.6" y2="230.5" stroke="#d0dab8" stroke-width="1" stroke-dasharray="1 2"/>
<line x1="531" y1="213.5" x2="771.6" y2="213.5" stroke="#d0dab8" stroke-width="1" stroke-dasharray="1 2"/>
<line x1="569.5" y1="215" x2="569.5" y2="302" stroke="#d0dab8" stroke-width="1" stroke-dasharray="1 2"/>
<line x1="623.5" y1="215" x2="623.5" y2="302" stroke="#d0dab8" stroke-width="1" stroke-dasharray="1 2"/>
<line x1="677.5" y1="215" x2="677.5" y2="302" stroke="#d0dab8" stroke-width="1" stroke-dasharray="1 2"/>
<line x1="732.5" y1="215" x2="732.5" y2="302" stroke="#d0dab8" stroke-width="1" stroke-dasharray="1 2"/>
<polyline points="741.56,251.13 741.55,245.12 745.75,242.11 744.3,236.83" fill="none" stroke="#5e5e5e" stroke-width="0.7" stroke-linejoin="round" stroke-linecap="round"/>
<polyline points="744.3,236.83 747.42,233.46" fill="none" stroke="#5e5e5e" stroke-width="0.7" stroke-linejoin="round" stroke-linecap="round"/>
<polyline points="744.3,236.83 740.57,233.59" fill="none" stroke="#5e5e5e" stroke-width="0.7" stroke-linejoin="round" stroke-linecap="round"/>
<polyline points="743.58,237.19 739.37,234.19" fill="none" stroke="#5e5e5e" stroke-width="0.56" stroke-linejoin="round" stroke-linecap="round"/>
<circle cx="741.56" cy="251.13" r="0.85" fill="#1e1e1e"/>
<polyline points="745.95,253.84 751.54,251.65 752.8,246.63 758.24,246.04" fill="none" stroke="#5e5e5e" stroke-width="0.7" stroke-linejoin="round" stroke-linecap="round"/>
<polyline points="758.24,246.04 760.23,241.91" fill="none" stroke="#5e5e5e" stroke-width="0.7" stroke-linejoin="round" stroke-linecap="round"/>
<polyline points="758.24,246.04 762.63,248.32" fill="none" stroke="#5e5e5e" stroke-width="0.7" stroke-linejoin="round" stroke-linecap="round"/>
<polyline points="758.17,246.85 762.51,249.66" fill="none" stroke="#5e5e5e" stroke-width="0.56" stroke-linejoin="round" stroke-linecap="round"/>
<circle cx="745.95" cy="253.84" r="0.85" fill="#1e1e1e"/>
<polyline points="748.05,257.96 753.33,255.1 757.98,257.36 761.94,253.57" fill="none" stroke="#5e5e5e" stroke-width="0.7" stroke-linejoin="round" stroke-linecap="round"/>
<polyline points="761.94,253.57 766.39,254.71" fill="none" stroke="#5e5e5e" stroke-width="0.7" stroke-linejoin="round" stroke-linecap="round"/>
<polyline points="761.94,253.57 763.02,248.75" fill="none" stroke="#5e5e5e" stroke-width="0.7" stroke-linejoin="round" stroke-linecap="round"/>
<polyline points="761.28,253.11 761.91,247.98" fill="none" stroke="#5e5e5e" stroke-width="0.56" stroke-linejoin="round" stroke-linecap="round"/>
<circle cx="748.05" cy="257.96" r="0.85" fill="#1e1e1e"/>
<polyline points="746.49,264.5 750.11,269.3 755.27,269.17 757.3,274.26" fill="none" stroke="#5e5e5e" stroke-width="0.7" stroke-linejoin="round" stroke-linecap="round"/>
<polyline points="757.3,274.26 761.82,275.07" fill="none" stroke="#5e5e5e" stroke-width="0.7" stroke-linejoin="round" stroke-linecap="round"/>
<polyline points="757.3,274.26 756.28,279.09" fill="none" stroke="#5e5e5e" stroke-width="0.7" stroke-linejoin="round" stroke-linecap="round"/>
<polyline points="756.51,274.41 754.96,279.34" fill="none" stroke="#5e5e5e" stroke-width="0.56" stroke-linejoin="round" stroke-linecap="round"/>
<circle cx="746.49" cy="264.5" r="0.85" fill="#1e1e1e"/>
<polyline points="741.06,268.01 740.72,274.01 744.76,277.24 743.03,282.44" fill="none" stroke="#5e5e5e" stroke-width="0.7" stroke-linejoin="round" stroke-linecap="round"/>
<polyline points="743.03,282.44 745.96,285.97" fill="none" stroke="#5e5e5e" stroke-width="0.7" stroke-linejoin="round" stroke-linecap="round"/>
<polyline points="743.03,282.44 739.13,285.47" fill="none" stroke="#5e5e5e" stroke-width="0.7" stroke-linejoin="round" stroke-linecap="round"/>
<polyline points="742.33,282.04 737.96,284.81" fill="none" stroke="#5e5e5e" stroke-width="0.56" stroke-linejoin="round" stroke-linecap="round"/>
<circle cx="741.06" cy="268.01" r="0.85" fill="#1e1e1e"/>
<polyline points="736.51,268.13 737.2,274.1 733.37,277.57 735.41,282.65" fill="none" stroke="#5e5e5e" stroke-width="0.7" stroke-linejoin="round" stroke-linecap="round"/>
<polyline points="735.41,282.65 732.69,286.36" fill="none" stroke="#5e5e5e" stroke-width="0.7" stroke-linejoin="round" stroke-linecap="round"/>
<polyline points="735.41,282.65 739.48,285.45" fill="none" stroke="#5e5e5e" stroke-width="0.7" stroke-linejoin="round" stroke-linecap="round"/>
<polyline points="736.08,282.21 740.6,284.72" fill="none" stroke="#5e5e5e" stroke-width="0.56" stroke-linejoin="round" stroke-linecap="round"/>
<circle cx="736.51" cy="268.13" r="0.85" fill="#1e1e1e"/>
<polyline points="731.38,265.49 728.49,270.76 723.36,271.37 722.08,276.7" fill="none" stroke="#5e5e5e" stroke-width="0.7" stroke-linejoin="round" stroke-linecap="round"/>
<polyline points="722.08,276.7 717.72,278.14" fill="none" stroke="#5e5e5e" stroke-width="0.7" stroke-linejoin="round" stroke-linecap="round"/>
<polyline points="722.08,276.7 723.78,281.34" fill="none" stroke="#5e5e5e" stroke-width="0.7" stroke-linejoin="round" stroke-linecap="round"/>
<polyline points="722.88,276.73 725.12,281.39" fill="none" stroke="#5e5e5e" stroke-width="0.56" stroke-linejoin="round" stroke-linecap="round"/>
<circle cx="731.38" cy="265.49" r="0.85" fill="#1e1e1e"/>
<polyline points="728.8,259.58 723.08,257.73 718.93,260.81 714.34,257.81" fill="none" stroke="#5e5e5e" stroke-width="0.7" stroke-linejoin="round" stroke-linecap="round"/>
<polyline points="714.34,257.81 710.18,259.75" fill="none" stroke="#5e5e5e" stroke-width="0.7" stroke-linejoin="round" stroke-linecap="round"/>
<polyline points="714.34,257.81 712.4,253.27" fill="none" stroke="#5e5e5e" stroke-width="0.7" stroke-linejoin="round" stroke-linecap="round"/>
<polyline points="714.91,257.23 713.34,252.31" fill="none" stroke="#5e5e5e" stroke-width="0.56" stroke-linejoin="round" stroke-linecap="round"/>
<circle cx="728.8" cy="259.58" r="0.85" fill="#1e1e1e"/>
<polyline points="730.85,254.07 725.19,252.06 723.76,247.1 718.3,246.69" fill="none" stroke="#5e5e5e" stroke-width="0.7" stroke-linejoin="round" stroke-linecap="round"/>
<polyline points="718.3,246.69 716.17,242.62" fill="none" stroke="#5e5e5e" stroke-width="0.7" stroke-linejoin="round" stroke-linecap="round"/>
<polyline points="718.3,246.69 714,249.11" fill="none" stroke="#5e5e5e" stroke-width="0.7" stroke-linejoin="round" stroke-linecap="round"/>
<polyline points="718.4,247.49 714.16,250.45" fill="none" stroke="#5e5e5e" stroke-width="0.56" stroke-linejoin="round" stroke-linecap="round"/>
<circle cx="730.85" cy="254.07" r="0.85" fill="#1e1e1e"/>
<polyline points="734.26,251.57 733.48,245.61 728.92,243.18 729.66,237.75" fill="none" stroke="#5e5e5e" stroke-width="0.7" stroke-linejoin="round" stroke-linecap="round"/>
<polyline points="729.66,237.75 726.13,234.82" fill="none" stroke="#5e5e5e" stroke-width="0.7" stroke-linejoin="round" stroke-linecap="round"/>
<polyline points="729.66,237.75 732.94,234.05" fill="none" stroke="#5e5e5e" stroke-width="0.7" stroke-linejoin="round" stroke-linecap="round"/>
<polyline points="730.43,238.01 734.21,234.48" fill="none" stroke="#5e5e5e" stroke-width="0.56" stroke-linejoin="round" stroke-linecap="round"/>
<circle cx="734.26" cy="251.57" r="0.85" fill="#1e1e1e"/>
<ellipse cx="738.5" cy="260.5" rx="19" ry="16" fill="url(#gg)"/>
<circle cx="738.39" cy="251.92" r="2.57" fill="url(#sg)"/>
<circle cx="733.75" cy="252.78" r="2.61" fill="url(#sg)"/>
<circle cx="743.27" cy="252.97" r="2.58" fill="url(#sg)"/>
<circle cx="730.76" cy="256.63" r="2.45" fill="url(#sg)"/>
<circle cx="737.35" cy="255" r="2.4" fill="url(#sg)"/>
<circle cx="733.77" cy="258.31" r="2.43" fill="url(#sg)"/>
<circle cx="742.22" cy="256.26" r="2.68" fill="url(#sg)"/>
<circle cx="746.17" cy="255.68" r="2.62" fill="url(#sg)"/>
<circle cx="730.2" cy="261.26" r="2.58" fill="url(#sg)"/>
<circle cx="738.25" cy="259.24" r="2.64" fill="url(#sg)"/>
<circle cx="734.91" cy="262.7" r="2.63" fill="url(#sg)"/>
<circle cx="743.13" cy="260.85" r="2.48" fill="url(#sg)"/>
<circle cx="747.31" cy="260.28" r="2.43" fill="url(#sg)"/>
<circle cx="732.24" cy="265.34" r="2.38" fill="url(#sg)"/>
<circle cx="739.55" cy="264.13" r="2.38" fill="url(#sg)"/>
<circle cx="745.4" cy="264.72" r="2.55" fill="url(#sg)"/>
<circle cx="736.63" cy="267.09" r="2.38" fill="url(#sg)"/>
<circle cx="741.25" cy="266.84" r="2.72" fill="url(#sg)"/>
<circle cx="741.74" cy="267.25" r="0.5" fill="#9ccc70" fill-opacity="0.85"/>
<circle cx="731.1" cy="261.62" r="0.5" fill="#9ccc70" fill-opacity="0.85"/>
<circle cx="746.3" cy="257.92" r="0.5" fill="#9ccc70" fill-opacity="0.85"/>
<circle cx="737.26" cy="259.23" r="0.5" fill="#9ccc70" fill-opacity="0.85"/>
<circle cx="740.01" cy="255.44" r="0.5" fill="#9ccc70" fill-opacity="0.85"/>
<circle cx="734.43" cy="259.44" r="0.5" fill="#9ccc70" fill-opacity="0.85"/>
<circle cx="733.13" cy="258.98" r="0.5" fill="#9ccc70" fill-opacity="0.85"/>
<circle cx="746.85" cy="255.75" r="0.5" fill="#9ccc70" fill-opacity="0.85"/>
<circle cx="732.42" cy="260.01" r="0.5" fill="#9ccc70" fill-opacity="0.85"/>
<circle cx="734.45" cy="253.98" r="0.5" fill="#9ccc70" fill-opacity="0.85"/>
<circle cx="737.32" cy="253.6" r="0.5" fill="#9ccc70" fill-opacity="0.85"/>
<circle cx="734.1" cy="254.99" r="0.5" fill="#9ccc70" fill-opacity="0.85"/>
<circle cx="734.2" cy="263.85" r="0.5" fill="#9ccc70" fill-opacity="0.85"/>
<circle cx="741.75" cy="257.71" r="0.5" fill="#9ccc70" fill-opacity="0.85"/>
<circle cx="735.97" cy="253.18" r="0.5" fill="#9ccc70" fill-opacity="0.85"/>
<circle cx="735.55" cy="256" r="0.5" fill="#9ccc70" fill-opacity="0.85"/>
<circle cx="737.3" cy="251.13" r="0.5" fill="#9ccc70" fill-opacity="0.85"/>
<circle cx="740.25" cy="256.5" r="0.5" fill="#9ccc70" fill-opacity="0.85"/>
<circle cx="733.49" cy="255.01" r="0.5" fill="#9ccc70" fill-opacity="0.85"/>
<circle cx="742.3" cy="267.16" r="0.5" fill="#9ccc70" fill-opacity="0.85"/>
<circle cx="731.85" cy="256.67" r="0.5" fill="#9ccc70" fill-opacity="0.85"/>
<circle cx="733.15" cy="264.62" r="0.5" fill="#9ccc70" fill-opacity="0.85"/>
<circle cx="729.18" cy="259.64" r="0.5" fill="#9ccc70" fill-opacity="0.85"/>
<circle cx="744.81" cy="256.31" r="0.5" fill="#9ccc70" fill-opacity="0.85"/>
<circle cx="738.05" cy="262.83" r="0.5" fill="#9ccc70" fill-opacity="0.85"/>
<circle cx="738.9" cy="258.52" r="0.5" fill="#9ccc70" fill-opacity="0.85"/>
<circle cx="730.19" cy="258.31" r="0.5" fill="#9ccc70" fill-opacity="0.85"/>
<circle cx="738.79" cy="261.84" r="0.5" fill="#9ccc70" fill-opacity="0.85"/>
<circle cx="744.07" cy="258.27" r="0.5" fill="#9ccc70" fill-opacity="0.85"/>
<circle cx="738.82" cy="266.55" r="0.5" fill="#9ccc70" fill-opacity="0.85"/>
<line x1="707.2" y1="235" x2="707.2" y2="254.6" stroke="#eb9a6c" stroke-width="1.4"/>
<line x1="707.2" y1="259" x2="707.2" y2="282.3" stroke="#eb9a6c" stroke-width="1.4"/>
<path d="M707.2,232 l-1.8,3.8 h3.6 z" fill="#eb9a6c"/>
<path d="M707.2,285.3 l-1.8,-3.8 h3.6 z" fill="#eb9a6c"/>
<text x="701.2" y="262.4" font-size="7.5" fill="#3a3a3a" textLength="2.8" lengthAdjust="spacingAndGlyphs" font-weight="bold">r</text>
<rect x="577.7" y="296.9" width="3.4" height="5.1" fill="#7f9a52" stroke="#6a8440" stroke-width="0.6"/>
<rect x="581.7" y="275.3" width="2.6" height="26.7" fill="#7f9a52" stroke="#6a8440" stroke-width="0.6"/>
<rect x="584.9" y="243.9" width="2.8" height="58.1" fill="#7f9a52" stroke="#6a8440" stroke-width="0.6"/>
<rect x="588.3" y="225.3" width="3.4" height="76.7" fill="#7f9a52" stroke="#6a8440" stroke-width="0.6"/>
<rect x="592.3" y="227.9" width="3" height="74.1" fill="#7f9a52" stroke="#6a8440" stroke-width="0.6"/>
<rect x="595.9" y="246.3" width="2.8" height="55.7" fill="#7f9a52" stroke="#6a8440" stroke-width="0.6"/>
<rect x="599.3" y="267.9" width="2.4" height="34.1" fill="#7f9a52" stroke="#6a8440" stroke-width="0.6"/>
<rect x="602.3" y="285.3" width="3" height="16.7" fill="#7f9a52" stroke="#6a8440" stroke-width="0.6"/>
<rect x="605.9" y="296.7" width="3.4" height="5.3" fill="#7f9a52" stroke="#6a8440" stroke-width="0.6"/>
<rect x="609.9" y="300.8" width="3.8" height="1.2" fill="#7f9a52" stroke="#6a8440" stroke-width="0.6"/>
<line x1="529.5" y1="213" x2="529.5" y2="302" stroke="#8aa462" stroke-width="1.1"/>
<line x1="529.5" y1="302" x2="771.6" y2="302" stroke="#8aa462" stroke-width="1.5"/>
<line x1="528" y1="302.5" x2="530.7" y2="302.5" stroke="#8aa462" stroke-width="1.2"/>
<line x1="528" y1="293.5" x2="530.7" y2="293.5" stroke="#8aa462" stroke-width="1.2"/>
<line x1="528" y1="284.5" x2="530.7" y2="284.5" stroke="#8aa462" stroke-width="1.2"/>
<line x1="528" y1="275.5" x2="530.7" y2="275.5" stroke="#8aa462" stroke-width="1.2"/>
<line x1="528" y1="266.5" x2="530.7" y2="266.5" stroke="#8aa462" stroke-width="1.2"/>
<line x1="528" y1="257.5" x2="530.7" y2="257.5" stroke="#8aa462" stroke-width="1.2"/>
<line x1="528" y1="248.5" x2="530.7" y2="248.5" stroke="#8aa462" stroke-width="1.2"/>
<line x1="528" y1="239.5" x2="530.7" y2="239.5" stroke="#8aa462" stroke-width="1.2"/>
<line x1="528" y1="230.5" x2="530.7" y2="230.5" stroke="#8aa462" stroke-width="1.2"/>
<line x1="528" y1="221.5" x2="530.7" y2="221.5" stroke="#8aa462" stroke-width="1.2"/>
<line x1="528" y1="213.5" x2="530.7" y2="213.5" stroke="#8aa462" stroke-width="1.2"/>
<rect x="530.28" y="300.6" width="1.4" height="2.8" fill="#8aa462"/>
<rect x="539.86" y="300.6" width="1.4" height="2.8" fill="#8aa462"/>
<rect x="546.65" y="300.6" width="1.4" height="2.8" fill="#8aa462"/>
<rect x="551.92" y="300.6" width="1.4" height="2.8" fill="#8aa462"/>
<rect x="556.23" y="300.6" width="1.4" height="2.8" fill="#8aa462"/>
<rect x="559.87" y="300.6" width="1.4" height="2.8" fill="#8aa462"/>
<rect x="563.03" y="300.6" width="1.4" height="2.8" fill="#8aa462"/>
<rect x="565.81" y="300.6" width="1.4" height="2.8" fill="#8aa462"/>
<rect x="568.3" y="300.6" width="1.4" height="2.8" fill="#8aa462"/>
<rect x="584.68" y="300.6" width="1.4" height="2.8" fill="#8aa462"/>
<rect x="594.26" y="300.6" width="1.4" height="2.8" fill="#8aa462"/>
<rect x="601.05" y="300.6" width="1.4" height="2.8" fill="#8aa462"/>
<rect x="606.32" y="300.6" width="1.4" height="2.8" fill="#8aa462"/>
<rect x="610.63" y="300.6" width="1.4" height="2.8" fill="#8aa462"/>
<rect x="614.27" y="300.6" width="1.4" height="2.8" fill="#8aa462"/>
<rect x="617.43" y="300.6" width="1.4" height="2.8" fill="#8aa462"/>
<rect x="620.21" y="300.6" width="1.4" height="2.8" fill="#8aa462"/>
<rect x="622.7" y="300.6" width="1.4" height="2.8" fill="#8aa462"/>
<rect x="639.08" y="300.6" width="1.4" height="2.8" fill="#8aa462"/>
<rect x="648.66" y="300.6" width="1.4" height="2.8" fill="#8aa462"/>
<rect x="655.45" y="300.6" width="1.4" height="2.8" fill="#8aa462"/>
<rect x="660.72" y="300.6" width="1.4" height="2.8" fill="#8aa462"/>
<rect x="665.03" y="300.6" width="1.4" height="2.8" fill="#8aa462"/>
<rect x="668.67" y="300.6" width="1.4" height="2.8" fill="#8aa462"/>
<rect x="671.83" y="300.6" width="1.4" height="2.8" fill="#8aa462"/>
<rect x="674.61" y="300.6" width="1.4" height="2.8" fill="#8aa462"/>
<rect x="677.1" y="300.6" width="1.4" height="2.8" fill="#8aa462"/>
<rect x="693.48" y="300.6" width="1.4" height="2.8" fill="#8aa462"/>
<rect x="703.06" y="300.6" width="1.4" height="2.8" fill="#8aa462"/>
<rect x="709.85" y="300.6" width="1.4" height="2.8" fill="#8aa462"/>
<rect x="715.12" y="300.6" width="1.4" height="2.8" fill="#8aa462"/>
<rect x="719.43" y="300.6" width="1.4" height="2.8" fill="#8aa462"/>
<rect x="723.07" y="300.6" width="1.4" height="2.8" fill="#8aa462"/>
<rect x="726.23" y="300.6" width="1.4" height="2.8" fill="#8aa462"/>
<rect x="729.01" y="300.6" width="1.4" height="2.8" fill="#8aa462"/>
<rect x="731.5" y="300.6" width="1.4" height="2.8" fill="#8aa462"/>
<rect x="747.88" y="300.6" width="1.4" height="2.8" fill="#8aa462"/>
<rect x="757.46" y="300.6" width="1.4" height="2.8" fill="#8aa462"/>
<rect x="764.25" y="300.6" width="1.4" height="2.8" fill="#8aa462"/>
<rect x="769.52" y="300.6" width="1.4" height="2.8" fill="#8aa462"/>
<text x="527.5" y="304.72" font-size="7" fill="#7c9654" textLength="2.7" lengthAdjust="spacingAndGlyphs" text-anchor="end">0</text>
<text x="527.5" y="286.88" font-size="7" fill="#7c9654" textLength="2.7" lengthAdjust="spacingAndGlyphs" text-anchor="end">5</text>
<text x="527.5" y="269.04" font-size="7" fill="#7c9654" textLength="5.7" lengthAdjust="spacingAndGlyphs" text-anchor="end">10</text>
<text x="527.5" y="251.2" font-size="7" fill="#7c9654" textLength="5.7" lengthAdjust="spacingAndGlyphs" text-anchor="end">15</text>
<text x="527.5" y="233.36" font-size="7" fill="#7c9654" textLength="5.7" lengthAdjust="spacingAndGlyphs" text-anchor="end">20</text>
<text x="527.5" y="215.52" font-size="7" fill="#7c9654" textLength="5.7" lengthAdjust="spacingAndGlyphs" text-anchor="end">25</text>
<text x="569" y="313.12" font-size="7" fill="#7c9654" textLength="2.7" lengthAdjust="spacingAndGlyphs" text-anchor="middle">1</text>
<text x="623.4" y="313.12" font-size="7" fill="#7c9654" textLength="5.7" lengthAdjust="spacingAndGlyphs" text-anchor="middle">10</text>
<text x="677.8" y="313.12" font-size="7" fill="#7c9654" textLength="8.7" lengthAdjust="spacingAndGlyphs" text-anchor="middle">100</text>
<text x="732.2" y="313.12" font-size="7" fill="#7c9654" textLength="11.7" lengthAdjust="spacingAndGlyphs" text-anchor="middle">1000</text>
<text x="638" y="322.4" font-size="7" fill="#7c9654" textLength="25.6" lengthAdjust="spacingAndGlyphs">Size (<tspan font-style="italic">r.nm</tspan>)</text>
<text transform="translate(518.29,256.9) rotate(-90)" font-size="5.8" fill="#7c9654" text-anchor="middle" textLength="36" lengthAdjust="spacingAndGlyphs">Number (%)</text>
<rect x="584.1" y="339.5" width="113.4" height="7.8" fill="#fff" stroke="#8aa462" stroke-width="1"/>
<rect x="584.6" y="340" width="7" height="6.8" fill="#7f9a52"/>
<text x="596.1" y="345.6" font-size="7" fill="#2a2a2a" textLength="100.4" lengthAdjust="spacingAndGlyphs">Mean with +/-1 Standard Deviation error bar</text>
<rect x="506" y="381" width="279" height="160" fill="#000"/>
<rect x="509" y="384" width="273" height="154" fill="#8e8e8e"/>
<rect x="510" y="385" width="271" height="152" fill="#3a3a3a"/>
<rect x="511" y="386" width="269" height="149" fill="#d6d6d6"/>
<rect x="512" y="387" width="268" height="148" fill="#fff"/>
<line x1="532" y1="454.5" x2="775.6" y2="454.5" stroke="#b8d8e0" stroke-width="1" stroke-dasharray="1 2"/>
<line x1="532" y1="424.5" x2="775.6" y2="424.5" stroke="#b8d8e0" stroke-width="1" stroke-dasharray="1 2"/>
<line x1="532" y1="394.5" x2="775.6" y2="394.5" stroke="#b8d8e0" stroke-width="1" stroke-dasharray="1 2"/>
<line x1="571.5" y1="396" x2="571.5" y2="485" stroke="#b8d8e0" stroke-width="1" stroke-dasharray="1 2"/>
<line x1="626.5" y1="396" x2="626.5" y2="485" stroke="#b8d8e0" stroke-width="1" stroke-dasharray="1 2"/>
<line x1="681.5" y1="396" x2="681.5" y2="485" stroke="#b8d8e0" stroke-width="1" stroke-dasharray="1 2"/>
<line x1="736.5" y1="396" x2="736.5" y2="485" stroke="#b8d8e0" stroke-width="1" stroke-dasharray="1 2"/>
<polyline points="744.51,433.78 744.01,429.38 746.84,426.83 745.34,423.08" fill="none" stroke="#a8e4ec" stroke-width="0.8" stroke-linejoin="round" stroke-linecap="round"/>
<polyline points="745.34,423.08 747.34,420.35" fill="none" stroke="#a8e4ec" stroke-width="0.8" stroke-linejoin="round" stroke-linecap="round"/>
<polyline points="745.34,423.08 742.34,421.02" fill="none" stroke="#a8e4ec" stroke-width="0.8" stroke-linejoin="round" stroke-linecap="round"/>
<polyline points="744.84,423.4 741.51,421.56" fill="none" stroke="#a8e4ec" stroke-width="0.64" stroke-linejoin="round" stroke-linecap="round"/>
<circle cx="744.51" cy="433.78" r="0.85" fill="#1e1e1e"/>
<polyline points="748.52,435.92 750.77,432.1 754.56,431.76 755.62,427.87" fill="none" stroke="#a8e4ec" stroke-width="0.8" stroke-linejoin="round" stroke-linecap="round"/>
<polyline points="755.62,427.87 758.86,426.89" fill="none" stroke="#a8e4ec" stroke-width="0.8" stroke-linejoin="round" stroke-linecap="round"/>
<polyline points="755.62,427.87 754.46,424.41" fill="none" stroke="#a8e4ec" stroke-width="0.8" stroke-linejoin="round" stroke-linecap="round"/>
<polyline points="755.02,427.82 753.47,424.35" fill="none" stroke="#a8e4ec" stroke-width="0.64" stroke-linejoin="round" stroke-linecap="round"/>
<circle cx="748.52" cy="435.92" r="0.85" fill="#1e1e1e"/>
<polyline points="750.23,439.19 754.14,437.12 757.55,438.81 760.49,436.05" fill="none" stroke="#a8e4ec" stroke-width="0.8" stroke-linejoin="round" stroke-linecap="round"/>
<polyline points="760.49,436.05 763.76,436.92" fill="none" stroke="#a8e4ec" stroke-width="0.8" stroke-linejoin="round" stroke-linecap="round"/>
<polyline points="760.49,436.05 761.31,432.5" fill="none" stroke="#a8e4ec" stroke-width="0.8" stroke-linejoin="round" stroke-linecap="round"/>
<polyline points="760,435.7 760.5,431.93" fill="none" stroke="#a8e4ec" stroke-width="0.64" stroke-linejoin="round" stroke-linecap="round"/>
<circle cx="750.23" cy="439.19" r="0.85" fill="#1e1e1e"/>
<polyline points="749.32,443.68 753.65,444.6 755.17,448.1 759.2,447.87" fill="none" stroke="#a8e4ec" stroke-width="0.8" stroke-linejoin="round" stroke-linecap="round"/>
<polyline points="759.2,447.87 761.14,450.64" fill="none" stroke="#a8e4ec" stroke-width="0.8" stroke-linejoin="round" stroke-linecap="round"/>
<polyline points="759.2,447.87 762.11,445.68" fill="none" stroke="#a8e4ec" stroke-width="0.8" stroke-linejoin="round" stroke-linecap="round"/>
<polyline points="759.05,447.29 761.86,444.73" fill="none" stroke="#a8e4ec" stroke-width="0.64" stroke-linejoin="round" stroke-linecap="round"/>
<circle cx="749.32" cy="443.68" r="0.85" fill="#1e1e1e"/>
<polyline points="745.03,446.7 747.53,450.35 746.23,453.93 749.31,456.54" fill="none" stroke="#a8e4ec" stroke-width="0.8" stroke-linejoin="round" stroke-linecap="round"/>
<polyline points="749.31,456.54 748.82,459.89" fill="none" stroke="#a8e4ec" stroke-width="0.8" stroke-linejoin="round" stroke-linecap="round"/>
<polyline points="749.31,456.54 752.93,456.96" fill="none" stroke="#a8e4ec" stroke-width="0.8" stroke-linejoin="round" stroke-linecap="round"/>
<polyline points="749.6,456.02 753.41,456.09" fill="none" stroke="#a8e4ec" stroke-width="0.64" stroke-linejoin="round" stroke-linecap="round"/>
<circle cx="745.03" cy="446.7" r="0.85" fill="#1e1e1e"/>
<polyline points="741.98,446.9 740.02,450.87 741.81,454.23 739.12,457.24" fill="none" stroke="#a8e4ec" stroke-width="0.8" stroke-linejoin="round" stroke-linecap="round"/>
<polyline points="739.12,457.24 740.08,460.49" fill="none" stroke="#a8e4ec" stroke-width="0.8" stroke-linejoin="round" stroke-linecap="round"/>
<polyline points="739.12,457.24 735.6,458.16" fill="none" stroke="#a8e4ec" stroke-width="0.8" stroke-linejoin="round" stroke-linecap="round"/>
<polyline points="738.77,456.77 735.01,457.37" fill="none" stroke="#a8e4ec" stroke-width="0.64" stroke-linejoin="round" stroke-linecap="round"/>
<circle cx="741.98" cy="446.9" r="0.85" fill="#1e1e1e"/>
<polyline points="737.45,444.65 735.19,448.46 731.39,448.78 730.31,452.67" fill="none" stroke="#a8e4ec" stroke-width="0.8" stroke-linejoin="round" stroke-linecap="round"/>
<polyline points="730.31,452.67 727.07,453.62" fill="none" stroke="#a8e4ec" stroke-width="0.8" stroke-linejoin="round" stroke-linecap="round"/>
<polyline points="730.31,452.67 731.45,456.13" fill="none" stroke="#a8e4ec" stroke-width="0.8" stroke-linejoin="round" stroke-linecap="round"/>
<polyline points="730.9,452.71 732.43,456.2" fill="none" stroke="#a8e4ec" stroke-width="0.64" stroke-linejoin="round" stroke-linecap="round"/>
<circle cx="737.45" cy="444.65" r="0.85" fill="#1e1e1e"/>
<polyline points="735.77,441.38 731.39,440.67 728.72,443.38 725.04,441.72" fill="none" stroke="#a8e4ec" stroke-width="0.8" stroke-linejoin="round" stroke-linecap="round"/>
<polyline points="725.04,441.72 722.23,443.6" fill="none" stroke="#a8e4ec" stroke-width="0.8" stroke-linejoin="round" stroke-linecap="round"/>
<polyline points="725.04,441.72 723.11,438.63" fill="none" stroke="#a8e4ec" stroke-width="0.8" stroke-linejoin="round" stroke-linecap="round"/>
<polyline points="725.39,441.23 723.69,437.82" fill="none" stroke="#a8e4ec" stroke-width="0.64" stroke-linejoin="round" stroke-linecap="round"/>
<circle cx="735.77" cy="441.38" r="0.85" fill="#1e1e1e"/>
<polyline points="736.43,437.35 732.04,436.75 730.27,433.38 726.26,433.9" fill="none" stroke="#a8e4ec" stroke-width="0.8" stroke-linejoin="round" stroke-linecap="round"/>
<polyline points="726.26,433.9 724.12,431.28" fill="none" stroke="#a8e4ec" stroke-width="0.8" stroke-linejoin="round" stroke-linecap="round"/>
<polyline points="726.26,433.9 723.52,436.29" fill="none" stroke="#a8e4ec" stroke-width="0.8" stroke-linejoin="round" stroke-linecap="round"/>
<polyline points="726.46,434.46 723.84,437.23" fill="none" stroke="#a8e4ec" stroke-width="0.64" stroke-linejoin="round" stroke-linecap="round"/>
<circle cx="736.43" cy="437.35" r="0.85" fill="#1e1e1e"/>
<polyline points="741.04,433.88 738.57,430.21 739.9,426.64 736.84,424" fill="none" stroke="#a8e4ec" stroke-width="0.8" stroke-linejoin="round" stroke-linecap="round"/>
<polyline points="736.84,424 737.37,420.66" fill="none" stroke="#a8e4ec" stroke-width="0.8" stroke-linejoin="round" stroke-linecap="round"/>
<polyline points="736.84,424 733.23,423.55" fill="none" stroke="#a8e4ec" stroke-width="0.8" stroke-linejoin="round" stroke-linecap="round"/>
<polyline points="736.55,424.52 732.74,424.41" fill="none" stroke="#a8e4ec" stroke-width="0.64" stroke-linejoin="round" stroke-linecap="round"/>
<circle cx="741.04" cy="433.88" r="0.85" fill="#1e1e1e"/>
<ellipse cx="743" cy="441.3" rx="20" ry="18" fill="url(#gt)"/>
<circle cx="742.62" cy="434.36" r="2" fill="url(#st)"/>
<circle cx="738.86" cy="435.17" r="2.25" fill="url(#st)"/>
<circle cx="746.26" cy="434.98" r="2.21" fill="url(#st)"/>
<circle cx="736.86" cy="437.89" r="2.29" fill="url(#st)"/>
<circle cx="742.33" cy="436.78" r="2.21" fill="url(#st)"/>
<circle cx="739.45" cy="439.6" r="2.27" fill="url(#st)"/>
<circle cx="745.57" cy="438.37" r="2.03" fill="url(#st)"/>
<circle cx="748.8" cy="437.79" r="2.04" fill="url(#st)"/>
<circle cx="736.52" cy="441.04" r="2.24" fill="url(#st)"/>
<circle cx="743.21" cy="440.36" r="2.33" fill="url(#st)"/>
<circle cx="740.11" cy="442.77" r="2.22" fill="url(#st)"/>
<circle cx="746.64" cy="441.27" r="2.31" fill="url(#st)"/>
<circle cx="749.91" cy="440.88" r="2.24" fill="url(#st)"/>
<circle cx="737.86" cy="444.57" r="2.24" fill="url(#st)"/>
<circle cx="744.22" cy="443.87" r="2.09" fill="url(#st)"/>
<circle cx="748.06" cy="444.16" r="1.99" fill="url(#st)"/>
<circle cx="741.39" cy="445.84" r="2.03" fill="url(#st)"/>
<circle cx="744.77" cy="446.18" r="2.03" fill="url(#st)"/>
<circle cx="740.26" cy="442.33" r="0.5" fill="#e8f8ff" fill-opacity="0.85"/>
<circle cx="748.8" cy="443.22" r="0.5" fill="#e8f8ff" fill-opacity="0.85"/>
<circle cx="738.47" cy="438.98" r="0.5" fill="#e8f8ff" fill-opacity="0.85"/>
<circle cx="745.82" cy="434.79" r="0.5" fill="#e8f8ff" fill-opacity="0.85"/>
<circle cx="741.83" cy="446.21" r="0.5" fill="#e8f8ff" fill-opacity="0.85"/>
<circle cx="740.11" cy="443.53" r="0.5" fill="#e8f8ff" fill-opacity="0.85"/>
<circle cx="749.45" cy="438.71" r="0.5" fill="#e8f8ff" fill-opacity="0.85"/>
<circle cx="744.23" cy="442.54" r="0.5" fill="#e8f8ff" fill-opacity="0.85"/>
<circle cx="743.36" cy="443.39" r="0.5" fill="#e8f8ff" fill-opacity="0.85"/>
<circle cx="738.81" cy="437.91" r="0.5" fill="#e8f8ff" fill-opacity="0.85"/>
<circle cx="746.64" cy="440.39" r="0.5" fill="#e8f8ff" fill-opacity="0.85"/>
<circle cx="739.87" cy="443.36" r="0.5" fill="#e8f8ff" fill-opacity="0.85"/>
<circle cx="748.12" cy="438.89" r="0.5" fill="#e8f8ff" fill-opacity="0.85"/>
<circle cx="737.12" cy="439.78" r="0.5" fill="#e8f8ff" fill-opacity="0.85"/>
<circle cx="740.5" cy="435.76" r="0.5" fill="#e8f8ff" fill-opacity="0.85"/>
<circle cx="744.33" cy="439.41" r="0.5" fill="#e8f8ff" fill-opacity="0.85"/>
<circle cx="747.42" cy="436.25" r="0.5" fill="#e8f8ff" fill-opacity="0.85"/>
<circle cx="738.05" cy="443.91" r="0.5" fill="#e8f8ff" fill-opacity="0.85"/>
<circle cx="746.57" cy="442.77" r="0.5" fill="#e8f8ff" fill-opacity="0.85"/>
<circle cx="748.23" cy="442.26" r="0.5" fill="#e8f8ff" fill-opacity="0.85"/>
<circle cx="743.47" cy="441.92" r="0.5" fill="#e8f8ff" fill-opacity="0.85"/>
<circle cx="741.47" cy="442.5" r="0.5" fill="#e8f8ff" fill-opacity="0.85"/>
<circle cx="744.63" cy="440.3" r="0.5" fill="#e8f8ff" fill-opacity="0.85"/>
<circle cx="745.22" cy="441.8" r="0.5" fill="#e8f8ff" fill-opacity="0.85"/>
<circle cx="747.23" cy="440.92" r="0.5" fill="#e8f8ff" fill-opacity="0.85"/>
<circle cx="737.99" cy="436.33" r="0.5" fill="#e8f8ff" fill-opacity="0.85"/>
<circle cx="742.96" cy="442.79" r="0.5" fill="#e8f8ff" fill-opacity="0.85"/>
<circle cx="740.25" cy="443.17" r="0.5" fill="#e8f8ff" fill-opacity="0.85"/>
<circle cx="744.45" cy="438.46" r="0.5" fill="#e8f8ff" fill-opacity="0.85"/>
<circle cx="736.08" cy="441.67" r="0.5" fill="#e8f8ff" fill-opacity="0.85"/>
<line x1="720.2" y1="421.8" x2="720.2" y2="436.8" stroke="#eb9a6c" stroke-width="1.2"/>
<line x1="720.2" y1="439.8" x2="720.2" y2="457.6" stroke="#eb9a6c" stroke-width="1.2"/>
<path d="M720.2,418.8 l-1.8,3.8 h3.6 z" fill="#eb9a6c"/>
<path d="M720.2,460.6 l-1.8,-3.8 h3.6 z" fill="#eb9a6c"/>
<text x="715.2" y="442.6" font-size="6.5" fill="#3a3a3a" textLength="2.6" lengthAdjust="spacingAndGlyphs" font-weight="bold">r</text>
<rect x="576.7" y="480.3" width="2.4" height="4.7" fill="#50909e" stroke="#3e7a8a" stroke-width="0.6"/>
<rect x="579.7" y="458.9" width="3" height="26.1" fill="#50909e" stroke="#3e7a8a" stroke-width="0.6"/>
<rect x="583.3" y="423.3" width="3.4" height="61.7" fill="#50909e" stroke="#3e7a8a" stroke-width="0.6"/>
<rect x="587.3" y="401.7" width="3" height="83.3" fill="#50909e" stroke="#3e7a8a" stroke-width="0.6"/>
<rect x="590.9" y="415.7" width="2.8" height="69.3" fill="#50909e" stroke="#3e7a8a" stroke-width="0.6"/>
<rect x="594.3" y="446.3" width="3.4" height="38.7" fill="#50909e" stroke="#3e7a8a" stroke-width="0.6"/>
<rect x="598.3" y="470.9" width="2.4" height="14.1" fill="#50909e" stroke="#3e7a8a" stroke-width="0.6"/>
<rect x="601.3" y="482.7" width="2.8" height="2.3" fill="#50909e" stroke="#3e7a8a" stroke-width="0.6"/>
<rect x="632.3" y="484.3" width="11.4" height="0.7" fill="#50909e" stroke="#3e7a8a" stroke-width="0.6"/>
<line x1="530.5" y1="394.4" x2="530.5" y2="485" stroke="#6aa2b2" stroke-width="1.5"/>
<line x1="530.5" y1="485" x2="775.6" y2="485" stroke="#6aa2b2" stroke-width="1.6"/>
<line x1="529" y1="485.5" x2="531.7" y2="485.5" stroke="#6aa2b2" stroke-width="1.2"/>
<line x1="529" y1="469.5" x2="531.7" y2="469.5" stroke="#6aa2b2" stroke-width="1.2"/>
<line x1="529" y1="454.5" x2="531.7" y2="454.5" stroke="#6aa2b2" stroke-width="1.2"/>
<line x1="529" y1="439.5" x2="531.7" y2="439.5" stroke="#6aa2b2" stroke-width="1.2"/>
<line x1="529" y1="424.5" x2="531.7" y2="424.5" stroke="#6aa2b2" stroke-width="1.2"/>
<line x1="529" y1="409.5" x2="531.7" y2="409.5" stroke="#6aa2b2" stroke-width="1.2"/>
<line x1="529" y1="394.5" x2="531.7" y2="394.5" stroke="#6aa2b2" stroke-width="1.2"/>
<rect x="531.86" y="483.6" width="1.4" height="2.8" fill="#6aa2b2"/>
<rect x="541.54" y="483.6" width="1.4" height="2.8" fill="#6aa2b2"/>
<rect x="548.41" y="483.6" width="1.4" height="2.8" fill="#6aa2b2"/>
<rect x="553.74" y="483.6" width="1.4" height="2.8" fill="#6aa2b2"/>
<rect x="558.1" y="483.6" width="1.4" height="2.8" fill="#6aa2b2"/>
<rect x="561.78" y="483.6" width="1.4" height="2.8" fill="#6aa2b2"/>
<rect x="564.97" y="483.6" width="1.4" height="2.8" fill="#6aa2b2"/>
<rect x="567.78" y="483.6" width="1.4" height="2.8" fill="#6aa2b2"/>
<rect x="570.3" y="483.6" width="1.4" height="2.8" fill="#6aa2b2"/>
<rect x="586.86" y="483.6" width="1.4" height="2.8" fill="#6aa2b2"/>
<rect x="596.54" y="483.6" width="1.4" height="2.8" fill="#6aa2b2"/>
<rect x="603.41" y="483.6" width="1.4" height="2.8" fill="#6aa2b2"/>
<rect x="608.74" y="483.6" width="1.4" height="2.8" fill="#6aa2b2"/>
<rect x="613.1" y="483.6" width="1.4" height="2.8" fill="#6aa2b2"/>
<rect x="616.78" y="483.6" width="1.4" height="2.8" fill="#6aa2b2"/>
<rect x="619.97" y="483.6" width="1.4" height="2.8" fill="#6aa2b2"/>
<rect x="622.78" y="483.6" width="1.4" height="2.8" fill="#6aa2b2"/>
<rect x="625.3" y="483.6" width="1.4" height="2.8" fill="#6aa2b2"/>
<rect x="641.86" y="483.6" width="1.4" height="2.8" fill="#6aa2b2"/>
<rect x="651.54" y="483.6" width="1.4" height="2.8" fill="#6aa2b2"/>
<rect x="658.41" y="483.6" width="1.4" height="2.8" fill="#6aa2b2"/>
<rect x="663.74" y="483.6" width="1.4" height="2.8" fill="#6aa2b2"/>
<rect x="668.1" y="483.6" width="1.4" height="2.8" fill="#6aa2b2"/>
<rect x="671.78" y="483.6" width="1.4" height="2.8" fill="#6aa2b2"/>
<rect x="674.97" y="483.6" width="1.4" height="2.8" fill="#6aa2b2"/>
<rect x="677.78" y="483.6" width="1.4" height="2.8" fill="#6aa2b2"/>
<rect x="680.3" y="483.6" width="1.4" height="2.8" fill="#6aa2b2"/>
<rect x="696.86" y="483.6" width="1.4" height="2.8" fill="#6aa2b2"/>
<rect x="706.54" y="483.6" width="1.4" height="2.8" fill="#6aa2b2"/>
<rect x="713.41" y="483.6" width="1.4" height="2.8" fill="#6aa2b2"/>
<rect x="718.74" y="483.6" width="1.4" height="2.8" fill="#6aa2b2"/>
<rect x="723.1" y="483.6" width="1.4" height="2.8" fill="#6aa2b2"/>
<rect x="726.78" y="483.6" width="1.4" height="2.8" fill="#6aa2b2"/>
<rect x="729.97" y="483.6" width="1.4" height="2.8" fill="#6aa2b2"/>
<rect x="732.78" y="483.6" width="1.4" height="2.8" fill="#6aa2b2"/>
<rect x="735.3" y="483.6" width="1.4" height="2.8" fill="#6aa2b2"/>
<rect x="751.86" y="483.6" width="1.4" height="2.8" fill="#6aa2b2"/>
<rect x="761.54" y="483.6" width="1.4" height="2.8" fill="#6aa2b2"/>
<rect x="768.41" y="483.6" width="1.4" height="2.8" fill="#6aa2b2"/>
<rect x="773.74" y="483.6" width="1.4" height="2.8" fill="#6aa2b2"/>
<text x="528.5" y="487.52" font-size="7" fill="#5a96a8" textLength="2.7" lengthAdjust="spacingAndGlyphs" text-anchor="end">0</text>
<text x="528.5" y="457.32" font-size="7" fill="#5a96a8" textLength="5.7" lengthAdjust="spacingAndGlyphs" text-anchor="end">10</text>
<text x="528.5" y="427.12" font-size="7" fill="#5a96a8" textLength="5.7" lengthAdjust="spacingAndGlyphs" text-anchor="end">20</text>
<text x="528.5" y="396.92" font-size="7" fill="#5a96a8" textLength="5.7" lengthAdjust="spacingAndGlyphs" text-anchor="end">30</text>
<text x="571" y="496.02" font-size="7" fill="#5a96a8" textLength="2.7" lengthAdjust="spacingAndGlyphs" text-anchor="middle">1</text>
<text x="626" y="496.02" font-size="7" fill="#5a96a8" textLength="5.7" lengthAdjust="spacingAndGlyphs" text-anchor="middle">10</text>
<text x="681" y="496.02" font-size="7" fill="#5a96a8" textLength="8.7" lengthAdjust="spacingAndGlyphs" text-anchor="middle">100</text>
<text x="736" y="496.02" font-size="7" fill="#5a96a8" textLength="11.7" lengthAdjust="spacingAndGlyphs" text-anchor="middle">1000</text>
<text x="640.4" y="506.4" font-size="7" fill="#5a96a8" textLength="26" lengthAdjust="spacingAndGlyphs">Size (<tspan font-style="italic">r.nm</tspan>)</text>
<text transform="translate(519.09,438.5) rotate(-90)" font-size="5.8" fill="#5a96a8" text-anchor="middle" textLength="36" lengthAdjust="spacingAndGlyphs">Number (%)</text>
<rect x="585.5" y="523.5" width="115.6" height="8.8" fill="#fff" stroke="#6aa2b2" stroke-width="1"/>
<rect x="586" y="524" width="7" height="7.8" fill="#50909e"/>
<text x="597.5" y="530.6" font-size="7" fill="#2a2a2a" textLength="102.6" lengthAdjust="spacingAndGlyphs">Mean with +/-1 Standard Deviation error bar</text>
</g>
</svg>
</body></html>
